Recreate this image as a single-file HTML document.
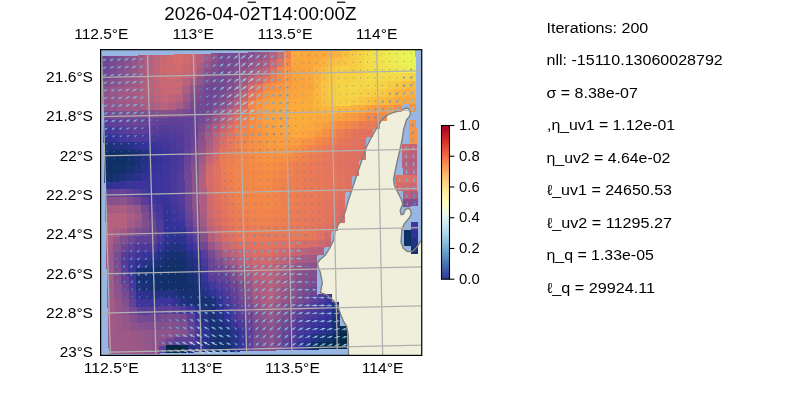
<!DOCTYPE html>
<html><head><meta charset="utf-8"><title>figure</title>
<style>html,body{margin:0;padding:0;background:#fff;overflow:hidden}svg{display:block}text{font-family:"Liberation Sans", sans-serif;fill:#000}</style></head><body>
<svg width="800" height="400" viewBox="0 0 800 400">
<rect width="800" height="400" fill="#fff"/>
<defs><clipPath id="ax"><rect x="100.6" y="49.6" width="321.1" height="305.5"/></clipPath>
<linearGradient id="cb" x1="0" y1="0" x2="0" y2="1"><stop offset="0.0000" stop-color="#a50026"/><stop offset="0.0312" stop-color="#b30d26"/><stop offset="0.0625" stop-color="#c21c27"/><stop offset="0.0938" stop-color="#d22b27"/><stop offset="0.1250" stop-color="#dd3d2d"/><stop offset="0.1562" stop-color="#e65036"/><stop offset="0.1875" stop-color="#ef633f"/><stop offset="0.2188" stop-color="#f57748"/><stop offset="0.2500" stop-color="#f88c51"/><stop offset="0.2812" stop-color="#fba05b"/><stop offset="0.3125" stop-color="#fdb366"/><stop offset="0.3438" stop-color="#fdc374"/><stop offset="0.3750" stop-color="#fed283"/><stop offset="0.4062" stop-color="#fee192"/><stop offset="0.4375" stop-color="#feeba1"/><stop offset="0.4688" stop-color="#fff5af"/><stop offset="0.5000" stop-color="#fffebe"/><stop offset="0.5312" stop-color="#f6fbd0"/><stop offset="0.5625" stop-color="#ecf8e2"/><stop offset="0.5938" stop-color="#e2f4f4"/><stop offset="0.6250" stop-color="#d4edf4"/><stop offset="0.6562" stop-color="#c3e5f0"/><stop offset="0.6875" stop-color="#b2ddeb"/><stop offset="0.7188" stop-color="#a1d1e5"/><stop offset="0.7500" stop-color="#90c3dd"/><stop offset="0.7812" stop-color="#7fb6d6"/><stop offset="0.8125" stop-color="#6ea6ce"/><stop offset="0.8438" stop-color="#6095c4"/><stop offset="0.8750" stop-color="#5183bb"/><stop offset="0.9062" stop-color="#4471b2"/><stop offset="0.9375" stop-color="#3e5ea8"/><stop offset="0.9688" stop-color="#374a9f"/><stop offset="1.0000" stop-color="#313695"/></linearGradient></defs>
<rect x="100.6" y="49.6" width="321.1" height="305.5" fill="#97b6e1"/>
<g clip-path="url(#ax)">
<path d="M348.5 356.0 L348.2 335.0 L346.5 326.0 L343.5 321.5 L340.5 314.0 L337.5 305.5 L333.0 300.2 L327.0 295.0 L320.4 292.7 L322.3 283.0 L320.4 272.5 L318.2 267.0 L317.4 263.2 L320.2 259.5 L325.5 255.0 L330.0 247.5 L333.7 240.0 L335.2 231.0 L338.2 225.0 L342.0 219.0 L345.5 211.0 L348.0 201.5 L352.5 188.0 L358.5 170.0 L363.7 155.0 L366.0 148.0 L370.5 139.0 L376.5 128.5 L381.8 120.0 L384.4 117.4 L387.3 115.1 L391.5 113.2 L396.7 111.6 L401.3 110.3 L404.5 108.6 L406.8 108.0 L408.7 109.0 L410.0 111.2 L410.5 113.5 L409.4 116.4 L406.5 120.0 L403.5 130.0 L402.0 140.5 L399.7 151.0 L398.0 158.0 L396.0 167.0 L393.6 179.0 L394.3 185.0 L397.6 192.0 L401.2 199.0 L402.8 204.0 L400.2 210.3 L401.0 214.6 L403.4 214.2 L405.1 209.8 L408.0 208.1 L410.6 210.0 L411.2 214.5 L408.8 218.5 L404.4 223.6 L401.8 229.5 L401.6 234.2 L401.0 242.3 L403.2 248.2 L407.6 251.6 L412.7 251.2 L417.2 246.8 L419.8 242.3 L423.0 239.0 L423.0 356.0 z" fill="#efefdb"/>
<g shape-rendering="crispEdges">
<rect x="102" y="56" width="8" height="9" fill="#6e4694"/>
<rect x="109" y="56" width="8" height="9" fill="#764992"/>
<rect x="116" y="56" width="8" height="9" fill="#7e4d8f"/>
<rect x="123" y="56" width="9" height="8" fill="#89518c"/>
<rect x="131" y="56" width="8" height="8" fill="#945589"/>
<rect x="138" y="55" width="8" height="9" fill="#a55b84"/>
<rect x="145" y="55" width="9" height="9" fill="#b6617d"/>
<rect x="153" y="55" width="8" height="9" fill="#c16479"/>
<rect x="160" y="55" width="8" height="9" fill="#cb6872"/>
<rect x="167" y="55" width="8" height="8" fill="#d16a6d"/>
<rect x="174" y="54" width="9" height="9" fill="#d76d68"/>
<rect x="182" y="54" width="8" height="9" fill="#d16b6d"/>
<rect x="189" y="54" width="8" height="9" fill="#cb6872"/>
<rect x="196" y="54" width="9" height="9" fill="#b8617c"/>
<rect x="204" y="54" width="8" height="8" fill="#a55b84"/>
<rect x="211" y="53" width="8" height="9" fill="#8e538b"/>
<rect x="218" y="53" width="9" height="9" fill="#774a91"/>
<rect x="226" y="53" width="8" height="9" fill="#774a91"/>
<rect x="233" y="53" width="8" height="9" fill="#774a91"/>
<rect x="240" y="53" width="9" height="9" fill="#804e8f"/>
<rect x="248" y="52" width="8" height="9" fill="#88518d"/>
<rect x="255" y="52" width="8" height="9" fill="#93558a"/>
<rect x="262" y="52" width="8" height="9" fill="#9e5987"/>
<rect x="269" y="52" width="9" height="9" fill="#b8617c"/>
<rect x="277" y="52" width="8" height="8" fill="#d16b6d"/>
<rect x="284" y="51" width="8" height="9" fill="#f0834d"/>
<rect x="291" y="51" width="9" height="9" fill="#faaa3d"/>
<rect x="299" y="51" width="8" height="9" fill="#faa83d"/>
<rect x="306" y="51" width="8" height="9" fill="#faa63e"/>
<rect x="313" y="51" width="8" height="9" fill="#faa83d"/>
<rect x="320" y="51" width="9" height="9" fill="#fbaa3d"/>
<rect x="328" y="51" width="8" height="9" fill="#fbaf3d"/>
<rect x="335" y="51" width="8" height="8" fill="#fab53e"/>
<rect x="342" y="51" width="9" height="8" fill="#f8c041"/>
<rect x="350" y="50" width="8" height="9" fill="#f7cb44"/>
<rect x="357" y="50" width="8" height="9" fill="#f6d346"/>
<rect x="364" y="50" width="9" height="9" fill="#f3db4a"/>
<rect x="372" y="50" width="8" height="9" fill="#f1e14d"/>
<rect x="379" y="50" width="8" height="9" fill="#efe650"/>
<rect x="386" y="50" width="9" height="9" fill="#edea52"/>
<rect x="394" y="50" width="8" height="8" fill="#ecee54"/>
<rect x="401" y="50" width="8" height="8" fill="#eaf256"/>
<rect x="408" y="49" width="7" height="9" fill="#e9f658"/>
<rect x="102" y="64" width="8" height="9" fill="#6f4693"/>
<rect x="109" y="64" width="8" height="9" fill="#784a91"/>
<rect x="116" y="64" width="9" height="8" fill="#814e8e"/>
<rect x="124" y="63" width="8" height="9" fill="#8c528c"/>
<rect x="131" y="63" width="8" height="9" fill="#965689"/>
<rect x="138" y="63" width="8" height="9" fill="#a75c84"/>
<rect x="145" y="63" width="9" height="9" fill="#b8617d"/>
<rect x="153" y="63" width="8" height="9" fill="#c36578"/>
<rect x="160" y="63" width="8" height="8" fill="#cc6971"/>
<rect x="167" y="62" width="9" height="9" fill="#d06a6e"/>
<rect x="175" y="62" width="8" height="9" fill="#d46c6b"/>
<rect x="182" y="62" width="8" height="9" fill="#cd6970"/>
<rect x="189" y="62" width="9" height="9" fill="#c66675"/>
<rect x="197" y="62" width="8" height="8" fill="#ae5e81"/>
<rect x="204" y="61" width="8" height="9" fill="#965689"/>
<rect x="211" y="61" width="8" height="9" fill="#87508d"/>
<rect x="218" y="61" width="9" height="9" fill="#774a91"/>
<rect x="226" y="61" width="8" height="9" fill="#7b4c90"/>
<rect x="233" y="61" width="8" height="9" fill="#7e4d8f"/>
<rect x="240" y="61" width="9" height="8" fill="#88518c"/>
<rect x="248" y="60" width="8" height="9" fill="#93558a"/>
<rect x="255" y="60" width="8" height="9" fill="#a15a86"/>
<rect x="262" y="60" width="9" height="9" fill="#af5e80"/>
<rect x="270" y="60" width="8" height="9" fill="#cb6871"/>
<rect x="277" y="59" width="8" height="9" fill="#e4755d"/>
<rect x="284" y="59" width="8" height="9" fill="#f58a46"/>
<rect x="291" y="59" width="9" height="9" fill="#faa63e"/>
<rect x="299" y="59" width="8" height="9" fill="#faa63e"/>
<rect x="306" y="59" width="8" height="9" fill="#faa63e"/>
<rect x="313" y="59" width="9" height="9" fill="#fbac3c"/>
<rect x="321" y="59" width="8" height="9" fill="#fab33e"/>
<rect x="328" y="59" width="8" height="8" fill="#f9bb40"/>
<rect x="335" y="58" width="9" height="9" fill="#f8c242"/>
<rect x="343" y="58" width="8" height="9" fill="#f8c743"/>
<rect x="350" y="58" width="8" height="9" fill="#f7cb44"/>
<rect x="357" y="58" width="8" height="9" fill="#f6d346"/>
<rect x="364" y="58" width="9" height="9" fill="#f3db4a"/>
<rect x="372" y="58" width="8" height="9" fill="#f1e04c"/>
<rect x="379" y="58" width="8" height="9" fill="#efe44f"/>
<rect x="386" y="58" width="9" height="8" fill="#eee851"/>
<rect x="394" y="57" width="8" height="9" fill="#ecec53"/>
<rect x="401" y="57" width="8" height="9" fill="#ebf055"/>
<rect x="408" y="57" width="8" height="9" fill="#e9f457"/>
<rect x="102" y="72" width="8" height="9" fill="#724793"/>
<rect x="109" y="72" width="8" height="8" fill="#7b4c90"/>
<rect x="116" y="71" width="9" height="9" fill="#85508d"/>
<rect x="124" y="71" width="8" height="9" fill="#8f538b"/>
<rect x="131" y="71" width="8" height="9" fill="#985788"/>
<rect x="138" y="71" width="9" height="9" fill="#a95c83"/>
<rect x="146" y="71" width="8" height="9" fill="#ba627c"/>
<rect x="153" y="71" width="8" height="9" fill="#c46577"/>
<rect x="160" y="70" width="9" height="9" fill="#ce6970"/>
<rect x="168" y="70" width="8" height="9" fill="#cf6a6e"/>
<rect x="175" y="70" width="8" height="9" fill="#d16a6d"/>
<rect x="182" y="70" width="8" height="9" fill="#c86774"/>
<rect x="189" y="70" width="9" height="9" fill="#c0647a"/>
<rect x="197" y="69" width="8" height="9" fill="#a35a85"/>
<rect x="204" y="69" width="8" height="9" fill="#87508d"/>
<rect x="211" y="69" width="9" height="9" fill="#7f4e8f"/>
<rect x="219" y="69" width="8" height="9" fill="#774a91"/>
<rect x="226" y="69" width="8" height="9" fill="#7e4d8f"/>
<rect x="233" y="69" width="9" height="8" fill="#854f8d"/>
<rect x="241" y="68" width="8" height="9" fill="#92548a"/>
<rect x="248" y="68" width="8" height="9" fill="#9f5987"/>
<rect x="255" y="68" width="8" height="9" fill="#b05f80"/>
<rect x="262" y="68" width="9" height="9" fill="#c26479"/>
<rect x="270" y="68" width="8" height="8" fill="#de7063"/>
<rect x="277" y="67" width="8" height="9" fill="#f2864b"/>
<rect x="284" y="67" width="9" height="9" fill="#f79343"/>
<rect x="292" y="67" width="8" height="9" fill="#f9a33f"/>
<rect x="299" y="67" width="8" height="9" fill="#faa43e"/>
<rect x="306" y="67" width="8" height="9" fill="#faa63e"/>
<rect x="313" y="67" width="9" height="9" fill="#fbb13d"/>
<rect x="321" y="67" width="8" height="8" fill="#f9bc40"/>
<rect x="328" y="66" width="8" height="9" fill="#f8c643"/>
<rect x="335" y="66" width="9" height="9" fill="#f6cf45"/>
<rect x="343" y="66" width="8" height="9" fill="#f7ce45"/>
<rect x="350" y="66" width="8" height="9" fill="#f7cc44"/>
<rect x="357" y="66" width="9" height="9" fill="#f6d346"/>
<rect x="365" y="66" width="8" height="9" fill="#f3db4a"/>
<rect x="372" y="66" width="8" height="9" fill="#f2de4c"/>
<rect x="379" y="66" width="8" height="8" fill="#f0e24e"/>
<rect x="386" y="65" width="9" height="9" fill="#efe54f"/>
<rect x="394" y="65" width="8" height="9" fill="#eee951"/>
<rect x="401" y="65" width="8" height="9" fill="#ecec53"/>
<rect x="408" y="65" width="8" height="9" fill="#ebef54"/>
<rect x="102" y="80" width="8" height="8" fill="#824f8e"/>
<rect x="109" y="79" width="9" height="9" fill="#8a528c"/>
<rect x="117" y="79" width="8" height="9" fill="#92558a"/>
<rect x="124" y="79" width="8" height="9" fill="#995788"/>
<rect x="131" y="79" width="9" height="9" fill="#a15a86"/>
<rect x="139" y="79" width="8" height="9" fill="#ad5e81"/>
<rect x="146" y="79" width="8" height="9" fill="#ba627c"/>
<rect x="153" y="79" width="8" height="8" fill="#c36577"/>
<rect x="160" y="78" width="9" height="9" fill="#cc6871"/>
<rect x="168" y="78" width="8" height="9" fill="#cd6970"/>
<rect x="175" y="78" width="8" height="9" fill="#cd6970"/>
<rect x="182" y="78" width="9" height="9" fill="#bb627c"/>
<rect x="190" y="78" width="8" height="8" fill="#a75c84"/>
<rect x="197" y="77" width="8" height="9" fill="#91548a"/>
<rect x="204" y="77" width="8" height="9" fill="#7c4c90"/>
<rect x="211" y="77" width="9" height="9" fill="#784a91"/>
<rect x="219" y="77" width="8" height="9" fill="#744892"/>
<rect x="226" y="77" width="8" height="8" fill="#7f4d8f"/>
<rect x="233" y="76" width="9" height="9" fill="#89518c"/>
<rect x="241" y="76" width="8" height="9" fill="#a05a86"/>
<rect x="248" y="76" width="8" height="9" fill="#ba627c"/>
<rect x="255" y="76" width="9" height="9" fill="#ce6970"/>
<rect x="263" y="76" width="8" height="8" fill="#e17161"/>
<rect x="270" y="75" width="8" height="9" fill="#ec7f52"/>
<rect x="277" y="75" width="8" height="9" fill="#f68d45"/>
<rect x="284" y="75" width="9" height="9" fill="#f89842"/>
<rect x="292" y="75" width="8" height="9" fill="#f9a33f"/>
<rect x="299" y="75" width="8" height="9" fill="#faa43e"/>
<rect x="306" y="75" width="9" height="9" fill="#faa63e"/>
<rect x="314" y="75" width="8" height="8" fill="#fab33d"/>
<rect x="321" y="74" width="8" height="9" fill="#f8c041"/>
<rect x="328" y="74" width="9" height="9" fill="#f7c943"/>
<rect x="336" y="74" width="8" height="9" fill="#f6d146"/>
<rect x="343" y="74" width="8" height="9" fill="#f6d146"/>
<rect x="350" y="74" width="8" height="9" fill="#f6d246"/>
<rect x="357" y="74" width="9" height="9" fill="#f5d547"/>
<rect x="365" y="74" width="8" height="9" fill="#f4d949"/>
<rect x="372" y="74" width="8" height="8" fill="#f4d949"/>
<rect x="379" y="73" width="9" height="9" fill="#f3da4a"/>
<rect x="387" y="73" width="8" height="9" fill="#f4d949"/>
<rect x="394" y="73" width="8" height="9" fill="#f4d949"/>
<rect x="401" y="73" width="8" height="9" fill="#f5d648"/>
<rect x="408" y="73" width="8" height="9" fill="#f6d346"/>
<rect x="102" y="87" width="9" height="9" fill="#91548a"/>
<rect x="110" y="87" width="8" height="9" fill="#985789"/>
<rect x="117" y="87" width="8" height="9" fill="#9e5987"/>
<rect x="124" y="87" width="8" height="9" fill="#a35b85"/>
<rect x="131" y="87" width="9" height="9" fill="#a85c83"/>
<rect x="139" y="87" width="8" height="9" fill="#b15f7f"/>
<rect x="146" y="87" width="8" height="8" fill="#b9627c"/>
<rect x="153" y="86" width="9" height="9" fill="#c26478"/>
<rect x="161" y="86" width="8" height="9" fill="#ca6872"/>
<rect x="168" y="86" width="8" height="9" fill="#ca6773"/>
<rect x="175" y="86" width="8" height="9" fill="#c96773"/>
<rect x="182" y="86" width="9" height="8" fill="#ad5e81"/>
<rect x="190" y="85" width="8" height="9" fill="#90548a"/>
<rect x="197" y="85" width="8" height="9" fill="#814e8e"/>
<rect x="204" y="85" width="9" height="9" fill="#714793"/>
<rect x="212" y="85" width="8" height="9" fill="#714793"/>
<rect x="219" y="85" width="8" height="8" fill="#724793"/>
<rect x="226" y="84" width="9" height="9" fill="#814e8e"/>
<rect x="234" y="84" width="8" height="9" fill="#8f548b"/>
<rect x="241" y="84" width="8" height="9" fill="#b15f7f"/>
<rect x="248" y="84" width="8" height="9" fill="#d26b6c"/>
<rect x="255" y="84" width="9" height="9" fill="#e6775a"/>
<rect x="263" y="83" width="8" height="9" fill="#f48947"/>
<rect x="270" y="83" width="8" height="9" fill="#f78f44"/>
<rect x="277" y="83" width="9" height="9" fill="#f89642"/>
<rect x="285" y="83" width="8" height="9" fill="#f99c40"/>
<rect x="292" y="83" width="8" height="9" fill="#faa33f"/>
<rect x="299" y="83" width="8" height="8" fill="#faa53e"/>
<rect x="306" y="83" width="9" height="8" fill="#faa63e"/>
<rect x="314" y="82" width="8" height="9" fill="#fab53e"/>
<rect x="321" y="82" width="8" height="9" fill="#f8c442"/>
<rect x="328" y="82" width="9" height="9" fill="#f7cb44"/>
<rect x="336" y="82" width="8" height="9" fill="#f6d346"/>
<rect x="343" y="82" width="8" height="9" fill="#f5d547"/>
<rect x="350" y="82" width="9" height="9" fill="#f5d748"/>
<rect x="358" y="82" width="8" height="9" fill="#f5d648"/>
<rect x="365" y="82" width="8" height="8" fill="#f5d647"/>
<rect x="372" y="81" width="8" height="9" fill="#f6d446"/>
<rect x="379" y="81" width="9" height="9" fill="#f6d246"/>
<rect x="387" y="81" width="8" height="9" fill="#f7cd44"/>
<rect x="394" y="81" width="8" height="9" fill="#f7c943"/>
<rect x="401" y="81" width="9" height="9" fill="#f8c241"/>
<rect x="409" y="81" width="7" height="9" fill="#f9ba40"/>
<rect x="102" y="95" width="9" height="9" fill="#91548a"/>
<rect x="110" y="95" width="8" height="9" fill="#985788"/>
<rect x="117" y="95" width="8" height="9" fill="#a05a86"/>
<rect x="124" y="95" width="9" height="9" fill="#a35b85"/>
<rect x="132" y="95" width="8" height="9" fill="#a65c84"/>
<rect x="139" y="95" width="8" height="9" fill="#ae5e81"/>
<rect x="146" y="94" width="8" height="9" fill="#b6607d"/>
<rect x="153" y="94" width="9" height="9" fill="#bf637a"/>
<rect x="161" y="94" width="8" height="9" fill="#c76675"/>
<rect x="168" y="94" width="8" height="9" fill="#c16479"/>
<rect x="175" y="94" width="9" height="9" fill="#bb627b"/>
<rect x="183" y="93" width="8" height="9" fill="#9f5987"/>
<rect x="190" y="93" width="8" height="9" fill="#85508d"/>
<rect x="197" y="93" width="9" height="9" fill="#7a4b90"/>
<rect x="205" y="93" width="8" height="9" fill="#6f4694"/>
<rect x="212" y="93" width="8" height="9" fill="#754992"/>
<rect x="219" y="92" width="8" height="9" fill="#7c4c90"/>
<rect x="226" y="92" width="9" height="9" fill="#8f538b"/>
<rect x="234" y="92" width="8" height="9" fill="#a25a85"/>
<rect x="241" y="92" width="8" height="9" fill="#c66675"/>
<rect x="248" y="92" width="9" height="9" fill="#e5765b"/>
<rect x="256" y="92" width="8" height="8" fill="#f1844c"/>
<rect x="263" y="91" width="8" height="9" fill="#f79443"/>
<rect x="270" y="91" width="8" height="9" fill="#f89a41"/>
<rect x="277" y="91" width="9" height="9" fill="#f99e40"/>
<rect x="285" y="91" width="8" height="9" fill="#f9a23f"/>
<rect x="292" y="91" width="8" height="8" fill="#faa63e"/>
<rect x="299" y="90" width="9" height="9" fill="#faa83d"/>
<rect x="307" y="90" width="8" height="9" fill="#fbaa3d"/>
<rect x="314" y="90" width="8" height="9" fill="#fab63e"/>
<rect x="321" y="90" width="8" height="9" fill="#f8c342"/>
<rect x="328" y="90" width="9" height="9" fill="#f7cb44"/>
<rect x="336" y="90" width="8" height="9" fill="#f6d346"/>
<rect x="343" y="90" width="8" height="9" fill="#f6d446"/>
<rect x="350" y="90" width="9" height="9" fill="#f5d547"/>
<rect x="358" y="90" width="8" height="8" fill="#f6d146"/>
<rect x="365" y="89" width="8" height="9" fill="#f7ce45"/>
<rect x="372" y="89" width="9" height="9" fill="#f7cb44"/>
<rect x="380" y="89" width="8" height="9" fill="#f7c843"/>
<rect x="387" y="89" width="8" height="9" fill="#f9c041"/>
<rect x="394" y="89" width="8" height="9" fill="#fab73f"/>
<rect x="401" y="89" width="9" height="9" fill="#fab33e"/>
<rect x="409" y="89" width="7" height="9" fill="#fbaf3c"/>
<rect x="103" y="103" width="8" height="9" fill="#8d538b"/>
<rect x="110" y="103" width="8" height="9" fill="#945589"/>
<rect x="117" y="103" width="9" height="9" fill="#9c5888"/>
<rect x="125" y="103" width="8" height="9" fill="#9d5987"/>
<rect x="132" y="103" width="8" height="9" fill="#9f5987"/>
<rect x="139" y="103" width="8" height="8" fill="#a55b84"/>
<rect x="146" y="102" width="9" height="9" fill="#ab5d82"/>
<rect x="154" y="102" width="8" height="9" fill="#b3607f"/>
<rect x="161" y="102" width="8" height="9" fill="#bb627b"/>
<rect x="168" y="102" width="9" height="9" fill="#b25f7f"/>
<rect x="176" y="102" width="8" height="8" fill="#a85c83"/>
<rect x="183" y="101" width="8" height="9" fill="#91548a"/>
<rect x="190" y="101" width="8" height="9" fill="#794b90"/>
<rect x="197" y="101" width="9" height="9" fill="#744892"/>
<rect x="205" y="101" width="8" height="9" fill="#6f4694"/>
<rect x="212" y="101" width="8" height="8" fill="#7b4c90"/>
<rect x="219" y="100" width="9" height="9" fill="#87518d"/>
<rect x="227" y="100" width="8" height="9" fill="#9e5987"/>
<rect x="234" y="100" width="8" height="9" fill="#b6617d"/>
<rect x="241" y="100" width="8" height="9" fill="#d96e67"/>
<rect x="248" y="100" width="9" height="8" fill="#f2864b"/>
<rect x="256" y="99" width="8" height="9" fill="#f79243"/>
<rect x="263" y="99" width="8" height="9" fill="#f99f40"/>
<rect x="270" y="99" width="9" height="9" fill="#f9a33f"/>
<rect x="278" y="99" width="8" height="9" fill="#faa63e"/>
<rect x="285" y="99" width="8" height="8" fill="#faa83d"/>
<rect x="292" y="98" width="8" height="9" fill="#fbaa3d"/>
<rect x="299" y="98" width="9" height="9" fill="#fbab3c"/>
<rect x="307" y="98" width="8" height="9" fill="#fbad3c"/>
<rect x="314" y="98" width="8" height="9" fill="#fab73f"/>
<rect x="321" y="98" width="9" height="9" fill="#f8c241"/>
<rect x="329" y="98" width="8" height="9" fill="#f7c943"/>
<rect x="336" y="98" width="8" height="9" fill="#f7cf45"/>
<rect x="343" y="98" width="8" height="9" fill="#f7cf45"/>
<rect x="350" y="98" width="9" height="8" fill="#f7ce45"/>
<rect x="358" y="97" width="8" height="9" fill="#f7c843"/>
<rect x="365" y="97" width="8" height="9" fill="#f8c241"/>
<rect x="372" y="97" width="9" height="9" fill="#f9bd40"/>
<rect x="380" y="97" width="8" height="9" fill="#f9b93f"/>
<rect x="387" y="97" width="8" height="9" fill="#fbb13d"/>
<rect x="394" y="97" width="9" height="9" fill="#faa93d"/>
<rect x="402" y="97" width="8" height="7" fill="#faa73e"/>
<rect x="409" y="97" width="7" height="8" fill="#faa53e"/>
<rect x="103" y="111" width="8" height="9" fill="#724893"/>
<rect x="110" y="111" width="8" height="9" fill="#784a91"/>
<rect x="117" y="111" width="9" height="9" fill="#7e4d8f"/>
<rect x="125" y="111" width="8" height="8" fill="#814e8e"/>
<rect x="132" y="111" width="8" height="8" fill="#834f8e"/>
<rect x="139" y="110" width="9" height="9" fill="#844f8d"/>
<rect x="147" y="110" width="8" height="9" fill="#86508d"/>
<rect x="154" y="110" width="8" height="9" fill="#87518d"/>
<rect x="161" y="110" width="8" height="9" fill="#89518c"/>
<rect x="168" y="110" width="9" height="8" fill="#85508d"/>
<rect x="176" y="109" width="8" height="9" fill="#824e8e"/>
<rect x="183" y="109" width="8" height="9" fill="#784a91"/>
<rect x="190" y="109" width="9" height="9" fill="#6f4694"/>
<rect x="198" y="109" width="8" height="9" fill="#734892"/>
<rect x="205" y="109" width="8" height="8" fill="#774a91"/>
<rect x="212" y="108" width="8" height="9" fill="#8a518c"/>
<rect x="219" y="108" width="9" height="9" fill="#9d5887"/>
<rect x="227" y="108" width="8" height="9" fill="#b6617d"/>
<rect x="234" y="108" width="8" height="9" fill="#ce696f"/>
<rect x="241" y="108" width="9" height="8" fill="#e4755d"/>
<rect x="249" y="107" width="8" height="9" fill="#f48848"/>
<rect x="256" y="107" width="8" height="9" fill="#f79343"/>
<rect x="263" y="107" width="8" height="9" fill="#f99f40"/>
<rect x="270" y="107" width="9" height="9" fill="#f9a33f"/>
<rect x="278" y="107" width="8" height="8" fill="#faa63e"/>
<rect x="285" y="106" width="8" height="9" fill="#faa93d"/>
<rect x="292" y="106" width="9" height="9" fill="#fbab3c"/>
<rect x="300" y="106" width="8" height="9" fill="#fbac3c"/>
<rect x="307" y="106" width="8" height="9" fill="#fbad3c"/>
<rect x="314" y="106" width="8" height="9" fill="#fab23d"/>
<rect x="321" y="106" width="9" height="9" fill="#fab63e"/>
<rect x="329" y="106" width="8" height="9" fill="#fab83f"/>
<rect x="336" y="106" width="8" height="8" fill="#f9ba3f"/>
<rect x="343" y="106" width="9" height="8" fill="#fab63e"/>
<rect x="351" y="105" width="8" height="9" fill="#fab33e"/>
<rect x="358" y="105" width="8" height="9" fill="#fbaa3d"/>
<rect x="365" y="105" width="8" height="9" fill="#f9a23f"/>
<rect x="372" y="105" width="9" height="9" fill="#f99c40"/>
<rect x="380" y="105" width="8" height="9" fill="#f89642"/>
<rect x="387" y="105" width="8" height="8" fill="#f99c40"/>
<rect x="394" y="105" width="8" height="7" fill="#f68b45"/>
<rect x="409" y="104" width="7" height="8" fill="#f79243"/>
<rect x="103" y="119" width="8" height="9" fill="#593d99"/>
<rect x="110" y="119" width="9" height="9" fill="#5f3f99"/>
<rect x="118" y="119" width="8" height="8" fill="#644197"/>
<rect x="125" y="118" width="8" height="9" fill="#674396"/>
<rect x="132" y="118" width="8" height="9" fill="#6b4495"/>
<rect x="139" y="118" width="9" height="9" fill="#694395"/>
<rect x="147" y="118" width="8" height="9" fill="#674396"/>
<rect x="154" y="118" width="8" height="9" fill="#644197"/>
<rect x="161" y="118" width="9" height="8" fill="#614098"/>
<rect x="169" y="117" width="8" height="9" fill="#624098"/>
<rect x="176" y="117" width="8" height="9" fill="#624097"/>
<rect x="183" y="117" width="8" height="9" fill="#644197"/>
<rect x="190" y="117" width="9" height="9" fill="#674296"/>
<rect x="198" y="117" width="8" height="8" fill="#744992"/>
<rect x="205" y="116" width="8" height="9" fill="#824e8e"/>
<rect x="212" y="116" width="9" height="9" fill="#9a5788"/>
<rect x="220" y="116" width="8" height="9" fill="#b3607e"/>
<rect x="227" y="116" width="8" height="9" fill="#cb6871"/>
<rect x="234" y="116" width="8" height="9" fill="#e27260"/>
<rect x="241" y="115" width="9" height="9" fill="#ec7f52"/>
<rect x="249" y="115" width="8" height="9" fill="#f68b45"/>
<rect x="256" y="115" width="8" height="9" fill="#f79542"/>
<rect x="263" y="115" width="9" height="9" fill="#f99f40"/>
<rect x="271" y="115" width="8" height="9" fill="#f9a23f"/>
<rect x="278" y="114" width="8" height="9" fill="#faa63e"/>
<rect x="285" y="114" width="8" height="9" fill="#faa93d"/>
<rect x="292" y="114" width="9" height="9" fill="#fbad3c"/>
<rect x="300" y="114" width="8" height="9" fill="#fbad3c"/>
<rect x="307" y="114" width="8" height="9" fill="#fbac3c"/>
<rect x="314" y="114" width="9" height="9" fill="#fbab3c"/>
<rect x="322" y="114" width="8" height="9" fill="#fbaa3d"/>
<rect x="329" y="114" width="8" height="8" fill="#faa83d"/>
<rect x="336" y="113" width="8" height="9" fill="#faa53e"/>
<rect x="343" y="113" width="9" height="9" fill="#f99f40"/>
<rect x="351" y="113" width="8" height="9" fill="#f89a41"/>
<rect x="358" y="113" width="8" height="9" fill="#f79144"/>
<rect x="365" y="113" width="9" height="9" fill="#f48848"/>
<rect x="373" y="113" width="8" height="9" fill="#f0834d"/>
<rect x="380" y="113" width="7" height="8" fill="#f68b45"/>
<rect x="103" y="127" width="9" height="8" fill="#44369a"/>
<rect x="111" y="127" width="8" height="8" fill="#4c399a"/>
<rect x="118" y="126" width="8" height="9" fill="#553c99"/>
<rect x="125" y="126" width="8" height="9" fill="#5a3d99"/>
<rect x="132" y="126" width="9" height="9" fill="#5f3f99"/>
<rect x="140" y="126" width="8" height="9" fill="#5d3e99"/>
<rect x="147" y="126" width="8" height="9" fill="#5b3d99"/>
<rect x="154" y="126" width="8" height="9" fill="#583d99"/>
<rect x="161" y="125" width="9" height="9" fill="#563c99"/>
<rect x="169" y="125" width="8" height="9" fill="#583d99"/>
<rect x="176" y="125" width="8" height="9" fill="#5b3d99"/>
<rect x="183" y="125" width="9" height="9" fill="#614098"/>
<rect x="191" y="125" width="8" height="9" fill="#674296"/>
<rect x="198" y="124" width="8" height="9" fill="#7e4d8f"/>
<rect x="205" y="124" width="8" height="9" fill="#955689"/>
<rect x="212" y="124" width="9" height="9" fill="#af5e80"/>
<rect x="220" y="124" width="8" height="9" fill="#c86774"/>
<rect x="227" y="124" width="8" height="9" fill="#da6e66"/>
<rect x="234" y="124" width="9" height="8" fill="#e87a57"/>
<rect x="242" y="123" width="8" height="9" fill="#f0834d"/>
<rect x="249" y="123" width="8" height="9" fill="#f68d45"/>
<rect x="256" y="123" width="8" height="9" fill="#f79542"/>
<rect x="263" y="123" width="9" height="9" fill="#f99d40"/>
<rect x="271" y="123" width="8" height="8" fill="#f9a13f"/>
<rect x="278" y="122" width="8" height="9" fill="#faa43e"/>
<rect x="285" y="122" width="9" height="9" fill="#faa73d"/>
<rect x="293" y="122" width="8" height="9" fill="#fbab3d"/>
<rect x="300" y="122" width="8" height="9" fill="#fbaa3d"/>
<rect x="307" y="122" width="8" height="9" fill="#faa93d"/>
<rect x="314" y="122" width="9" height="9" fill="#faa43e"/>
<rect x="322" y="122" width="8" height="8" fill="#f99e40"/>
<rect x="329" y="121" width="8" height="9" fill="#f89642"/>
<rect x="336" y="121" width="9" height="9" fill="#f68e44"/>
<rect x="344" y="121" width="8" height="9" fill="#f48948"/>
<rect x="351" y="121" width="8" height="9" fill="#f0844d"/>
<rect x="358" y="121" width="8" height="9" fill="#ec7f52"/>
<rect x="365" y="121" width="9" height="9" fill="#e97b57"/>
<rect x="373" y="121" width="7" height="8" fill="#e77959"/>
<rect x="409" y="120" width="7" height="9" fill="#f89542"/>
<rect x="103" y="134" width="9" height="9" fill="#303294"/>
<rect x="111" y="134" width="8" height="9" fill="#38339b"/>
<rect x="118" y="134" width="8" height="9" fill="#41369a"/>
<rect x="125" y="134" width="9" height="9" fill="#46379a"/>
<rect x="133" y="134" width="8" height="9" fill="#4c399a"/>
<rect x="140" y="134" width="8" height="9" fill="#4b399a"/>
<rect x="147" y="134" width="8" height="9" fill="#4b399a"/>
<rect x="154" y="134" width="9" height="8" fill="#4b399a"/>
<rect x="162" y="133" width="8" height="9" fill="#4b389a"/>
<rect x="169" y="133" width="8" height="9" fill="#4f3a9a"/>
<rect x="176" y="133" width="9" height="9" fill="#543b99"/>
<rect x="184" y="133" width="8" height="9" fill="#5f3f98"/>
<rect x="191" y="133" width="8" height="8" fill="#684396"/>
<rect x="198" y="132" width="8" height="9" fill="#87508d"/>
<rect x="205" y="132" width="9" height="9" fill="#a65b84"/>
<rect x="213" y="132" width="8" height="9" fill="#c06479"/>
<rect x="220" y="132" width="8" height="9" fill="#d86d68"/>
<rect x="227" y="132" width="9" height="8" fill="#e4755c"/>
<rect x="235" y="131" width="8" height="9" fill="#ee8150"/>
<rect x="242" y="131" width="8" height="9" fill="#f38749"/>
<rect x="249" y="131" width="8" height="9" fill="#f68e44"/>
<rect x="256" y="131" width="9" height="9" fill="#f79542"/>
<rect x="264" y="131" width="8" height="8" fill="#f89b41"/>
<rect x="271" y="130" width="8" height="9" fill="#f99f40"/>
<rect x="278" y="130" width="8" height="9" fill="#f9a23f"/>
<rect x="285" y="130" width="9" height="9" fill="#faa43e"/>
<rect x="293" y="130" width="8" height="9" fill="#faa73e"/>
<rect x="300" y="130" width="8" height="9" fill="#faa53e"/>
<rect x="307" y="130" width="9" height="9" fill="#f9a23f"/>
<rect x="315" y="130" width="8" height="8" fill="#f89a41"/>
<rect x="322" y="129" width="8" height="9" fill="#f79143"/>
<rect x="329" y="129" width="8" height="9" fill="#f38849"/>
<rect x="336" y="129" width="9" height="9" fill="#ec7f52"/>
<rect x="344" y="129" width="8" height="9" fill="#e97a57"/>
<rect x="351" y="129" width="8" height="9" fill="#e5765c"/>
<rect x="358" y="129" width="9" height="9" fill="#e3735f"/>
<rect x="366" y="129" width="7" height="8" fill="#e17161"/>
<rect x="409" y="128" width="8" height="9" fill="#f89542"/>
<rect x="104" y="142" width="8" height="9" fill="#1d317b"/>
<rect x="111" y="142" width="8" height="9" fill="#21317f"/>
<rect x="118" y="142" width="8" height="9" fill="#243183"/>
<rect x="125" y="142" width="9" height="9" fill="#28318a"/>
<rect x="133" y="142" width="8" height="9" fill="#2d3290"/>
<rect x="140" y="142" width="8" height="9" fill="#333298"/>
<rect x="147" y="142" width="9" height="8" fill="#39339b"/>
<rect x="155" y="141" width="8" height="9" fill="#3e359b"/>
<rect x="162" y="141" width="8" height="9" fill="#42369a"/>
<rect x="169" y="141" width="8" height="9" fill="#49389a"/>
<rect x="176" y="141" width="9" height="9" fill="#503a9a"/>
<rect x="184" y="141" width="8" height="8" fill="#5f3f98"/>
<rect x="191" y="140" width="8" height="9" fill="#6d4594"/>
<rect x="198" y="140" width="9" height="9" fill="#8c528c"/>
<rect x="206" y="140" width="8" height="9" fill="#ab5d82"/>
<rect x="213" y="140" width="8" height="9" fill="#c56676"/>
<rect x="220" y="140" width="8" height="8" fill="#dd6f64"/>
<rect x="227" y="139" width="9" height="9" fill="#e7785a"/>
<rect x="235" y="139" width="8" height="9" fill="#ef824f"/>
<rect x="242" y="139" width="8" height="9" fill="#f38849"/>
<rect x="249" y="139" width="9" height="9" fill="#f68e44"/>
<rect x="257" y="139" width="8" height="9" fill="#f79443"/>
<rect x="264" y="138" width="8" height="9" fill="#f89a41"/>
<rect x="271" y="138" width="8" height="9" fill="#f99c40"/>
<rect x="278" y="138" width="9" height="9" fill="#f99e40"/>
<rect x="286" y="138" width="8" height="9" fill="#f99e40"/>
<rect x="293" y="138" width="8" height="9" fill="#f99d40"/>
<rect x="300" y="138" width="8" height="8" fill="#f89742"/>
<rect x="307" y="138" width="9" height="8" fill="#f79144"/>
<rect x="315" y="137" width="8" height="9" fill="#f58a46"/>
<rect x="322" y="137" width="8" height="9" fill="#f0844d"/>
<rect x="329" y="137" width="9" height="9" fill="#ec7e53"/>
<rect x="337" y="137" width="8" height="9" fill="#e77859"/>
<rect x="344" y="137" width="8" height="9" fill="#e5765c"/>
<rect x="351" y="137" width="8" height="9" fill="#e3735f"/>
<rect x="358" y="137" width="8" height="9" fill="#e17161"/>
<rect x="409" y="136" width="8" height="9" fill="#f89542"/>
<rect x="104" y="150" width="8" height="9" fill="#103069"/>
<rect x="111" y="150" width="8" height="9" fill="#103069"/>
<rect x="118" y="150" width="9" height="9" fill="#103069"/>
<rect x="126" y="150" width="8" height="9" fill="#15306e"/>
<rect x="133" y="150" width="8" height="9" fill="#193174"/>
<rect x="140" y="150" width="8" height="8" fill="#233183"/>
<rect x="147" y="149" width="9" height="9" fill="#2e3291"/>
<rect x="155" y="149" width="8" height="9" fill="#35329b"/>
<rect x="162" y="149" width="8" height="9" fill="#3d349b"/>
<rect x="169" y="149" width="9" height="9" fill="#45379a"/>
<rect x="177" y="149" width="8" height="8" fill="#4d399a"/>
<rect x="184" y="148" width="8" height="9" fill="#624098"/>
<rect x="191" y="148" width="8" height="9" fill="#744892"/>
<rect x="198" y="148" width="9" height="9" fill="#93558a"/>
<rect x="206" y="148" width="8" height="9" fill="#b4607e"/>
<rect x="213" y="148" width="8" height="8" fill="#cd6970"/>
<rect x="220" y="147" width="9" height="9" fill="#e3735f"/>
<rect x="228" y="147" width="8" height="9" fill="#e97b56"/>
<rect x="235" y="147" width="8" height="9" fill="#f0834d"/>
<rect x="242" y="147" width="8" height="9" fill="#f48848"/>
<rect x="249" y="147" width="9" height="9" fill="#f68e44"/>
<rect x="257" y="147" width="8" height="8" fill="#f79243"/>
<rect x="264" y="146" width="8" height="9" fill="#f89742"/>
<rect x="271" y="146" width="9" height="9" fill="#f89841"/>
<rect x="279" y="146" width="8" height="9" fill="#f89941"/>
<rect x="286" y="146" width="8" height="9" fill="#f89642"/>
<rect x="293" y="146" width="8" height="8" fill="#f79243"/>
<rect x="300" y="145" width="9" height="9" fill="#f68a46"/>
<rect x="308" y="145" width="8" height="9" fill="#f1854c"/>
<rect x="315" y="145" width="8" height="9" fill="#ed8051"/>
<rect x="322" y="145" width="8" height="9" fill="#e97b56"/>
<rect x="329" y="145" width="9" height="9" fill="#e6775a"/>
<rect x="337" y="145" width="8" height="9" fill="#e3735e"/>
<rect x="344" y="145" width="8" height="9" fill="#e27260"/>
<rect x="351" y="145" width="9" height="9" fill="#e17161"/>
<rect x="359" y="145" width="7" height="8" fill="#df7062"/>
<rect x="402" y="144" width="9" height="9" fill="#cb6872"/>
<rect x="410" y="144" width="7" height="8" fill="#c16479"/>
<rect x="104" y="158" width="8" height="9" fill="#0e3066"/>
<rect x="111" y="158" width="9" height="9" fill="#0e3066"/>
<rect x="119" y="158" width="8" height="9" fill="#0e3066"/>
<rect x="126" y="158" width="8" height="9" fill="#14306d"/>
<rect x="133" y="158" width="8" height="9" fill="#193174"/>
<rect x="140" y="157" width="9" height="9" fill="#243184"/>
<rect x="148" y="157" width="8" height="9" fill="#303294"/>
<rect x="155" y="157" width="8" height="9" fill="#36329b"/>
<rect x="162" y="157" width="8" height="9" fill="#3d349b"/>
<rect x="169" y="157" width="9" height="9" fill="#45379a"/>
<rect x="177" y="156" width="8" height="9" fill="#4d399a"/>
<rect x="184" y="156" width="8" height="9" fill="#674296"/>
<rect x="191" y="156" width="9" height="9" fill="#7e4d8f"/>
<rect x="199" y="156" width="8" height="9" fill="#a05a86"/>
<rect x="206" y="156" width="8" height="9" fill="#c66675"/>
<rect x="213" y="155" width="8" height="9" fill="#da6e66"/>
<rect x="220" y="155" width="9" height="9" fill="#e97b56"/>
<rect x="228" y="155" width="8" height="9" fill="#ed8051"/>
<rect x="235" y="155" width="8" height="9" fill="#f1854c"/>
<rect x="242" y="155" width="9" height="9" fill="#f48848"/>
<rect x="250" y="155" width="8" height="8" fill="#f68c45"/>
<rect x="257" y="154" width="8" height="9" fill="#f79044"/>
<rect x="264" y="154" width="8" height="9" fill="#f79443"/>
<rect x="271" y="154" width="9" height="9" fill="#f79243"/>
<rect x="279" y="154" width="8" height="9" fill="#f79143"/>
<rect x="286" y="154" width="8" height="8" fill="#f68b45"/>
<rect x="293" y="153" width="8" height="9" fill="#f38749"/>
<rect x="300" y="153" width="9" height="9" fill="#f0834e"/>
<rect x="308" y="153" width="8" height="9" fill="#ec7f52"/>
<rect x="315" y="153" width="8" height="9" fill="#ea7c56"/>
<rect x="322" y="153" width="9" height="9" fill="#e77859"/>
<rect x="330" y="153" width="8" height="9" fill="#e4755d"/>
<rect x="337" y="153" width="8" height="9" fill="#e27260"/>
<rect x="344" y="153" width="8" height="9" fill="#e17161"/>
<rect x="351" y="153" width="9" height="8" fill="#df7063"/>
<rect x="359" y="152" width="7" height="8" fill="#de7063"/>
<rect x="402" y="152" width="9" height="8" fill="#c16479"/>
<rect x="410" y="151" width="7" height="9" fill="#ba627c"/>
<rect x="104" y="166" width="8" height="9" fill="#0f3066"/>
<rect x="111" y="166" width="9" height="9" fill="#103068"/>
<rect x="119" y="166" width="8" height="9" fill="#11306a"/>
<rect x="126" y="166" width="8" height="8" fill="#183173"/>
<rect x="133" y="166" width="9" height="8" fill="#1e317c"/>
<rect x="141" y="165" width="8" height="9" fill="#28318a"/>
<rect x="148" y="165" width="8" height="9" fill="#333298"/>
<rect x="155" y="165" width="8" height="9" fill="#38339b"/>
<rect x="162" y="165" width="9" height="9" fill="#3e359b"/>
<rect x="170" y="165" width="8" height="8" fill="#46379a"/>
<rect x="177" y="164" width="8" height="9" fill="#4e3a9a"/>
<rect x="184" y="164" width="8" height="9" fill="#6c4595"/>
<rect x="191" y="164" width="9" height="9" fill="#86508d"/>
<rect x="199" y="164" width="8" height="9" fill="#ab5d82"/>
<rect x="206" y="164" width="8" height="8" fill="#d16b6d"/>
<rect x="213" y="163" width="9" height="9" fill="#e27260"/>
<rect x="221" y="163" width="8" height="9" fill="#ec7f52"/>
<rect x="228" y="163" width="8" height="9" fill="#ef834e"/>
<rect x="235" y="163" width="8" height="9" fill="#f2864b"/>
<rect x="242" y="163" width="9" height="8" fill="#f48848"/>
<rect x="250" y="162" width="8" height="9" fill="#f68a46"/>
<rect x="257" y="162" width="8" height="9" fill="#f68d44"/>
<rect x="264" y="162" width="9" height="9" fill="#f79044"/>
<rect x="272" y="162" width="8" height="9" fill="#f68d44"/>
<rect x="279" y="162" width="8" height="8" fill="#f58a46"/>
<rect x="286" y="161" width="8" height="9" fill="#f1854b"/>
<rect x="293" y="161" width="9" height="9" fill="#ed8050"/>
<rect x="301" y="161" width="8" height="9" fill="#eb7e53"/>
<rect x="308" y="161" width="8" height="9" fill="#e97b56"/>
<rect x="315" y="161" width="8" height="9" fill="#e77959"/>
<rect x="322" y="161" width="9" height="9" fill="#e5765b"/>
<rect x="330" y="161" width="8" height="9" fill="#e3745e"/>
<rect x="337" y="161" width="8" height="8" fill="#e27260"/>
<rect x="344" y="161" width="9" height="8" fill="#e07162"/>
<rect x="352" y="160" width="7" height="9" fill="#df7063"/>
<rect x="402" y="159" width="9" height="9" fill="#ba627c"/>
<rect x="410" y="159" width="7" height="9" fill="#b3607f"/>
<rect x="104" y="174" width="9" height="9" fill="#13306c"/>
<rect x="112" y="174" width="8" height="9" fill="#173172"/>
<rect x="119" y="174" width="8" height="8" fill="#1b3178"/>
<rect x="126" y="173" width="8" height="9" fill="#233182"/>
<rect x="133" y="173" width="9" height="9" fill="#2a318c"/>
<rect x="141" y="173" width="8" height="9" fill="#313295"/>
<rect x="148" y="173" width="8" height="9" fill="#37339b"/>
<rect x="155" y="173" width="9" height="9" fill="#3b349b"/>
<rect x="163" y="173" width="8" height="8" fill="#40359a"/>
<rect x="170" y="172" width="8" height="9" fill="#49389a"/>
<rect x="177" y="172" width="8" height="9" fill="#533b9a"/>
<rect x="184" y="172" width="9" height="9" fill="#714793"/>
<rect x="192" y="172" width="8" height="9" fill="#8d538b"/>
<rect x="199" y="172" width="8" height="8" fill="#b15f80"/>
<rect x="206" y="171" width="8" height="9" fill="#d46c6a"/>
<rect x="213" y="171" width="9" height="9" fill="#e27260"/>
<rect x="221" y="171" width="8" height="9" fill="#ea7d55"/>
<rect x="228" y="171" width="8" height="9" fill="#ee8150"/>
<rect x="235" y="171" width="9" height="9" fill="#f2864b"/>
<rect x="243" y="170" width="8" height="9" fill="#f38749"/>
<rect x="250" y="170" width="8" height="9" fill="#f48947"/>
<rect x="257" y="170" width="8" height="9" fill="#f68b45"/>
<rect x="264" y="170" width="9" height="9" fill="#f68d44"/>
<rect x="272" y="170" width="8" height="9" fill="#f58947"/>
<rect x="279" y="169" width="8" height="9" fill="#f2864b"/>
<rect x="286" y="169" width="9" height="9" fill="#ef824e"/>
<rect x="294" y="169" width="8" height="9" fill="#ec7f52"/>
<rect x="301" y="169" width="8" height="9" fill="#ea7c55"/>
<rect x="308" y="169" width="8" height="9" fill="#e87a58"/>
<rect x="315" y="169" width="9" height="9" fill="#e77859"/>
<rect x="323" y="169" width="8" height="9" fill="#e5765b"/>
<rect x="330" y="169" width="8" height="8" fill="#e4755d"/>
<rect x="337" y="168" width="8" height="9" fill="#e3735f"/>
<rect x="344" y="168" width="9" height="9" fill="#e27260"/>
<rect x="352" y="168" width="7" height="8" fill="#e07162"/>
<rect x="403" y="167" width="8" height="9" fill="#be637a"/>
<rect x="410" y="167" width="7" height="9" fill="#b6617d"/>
<rect x="105" y="182" width="8" height="8" fill="#2d328f"/>
<rect x="112" y="182" width="8" height="8" fill="#323298"/>
<rect x="119" y="181" width="8" height="9" fill="#38339b"/>
<rect x="126" y="181" width="9" height="9" fill="#3a349b"/>
<rect x="134" y="181" width="8" height="9" fill="#3c349b"/>
<rect x="141" y="181" width="8" height="9" fill="#3a349b"/>
<rect x="148" y="181" width="8" height="9" fill="#39339b"/>
<rect x="155" y="181" width="9" height="9" fill="#3c349b"/>
<rect x="163" y="180" width="8" height="9" fill="#40359a"/>
<rect x="170" y="180" width="8" height="9" fill="#4a389a"/>
<rect x="177" y="180" width="9" height="9" fill="#553c99"/>
<rect x="185" y="180" width="8" height="9" fill="#734892"/>
<rect x="192" y="180" width="8" height="9" fill="#90548b"/>
<rect x="199" y="179" width="8" height="9" fill="#b3607f"/>
<rect x="206" y="179" width="9" height="9" fill="#d56c6a"/>
<rect x="214" y="179" width="8" height="9" fill="#e17161"/>
<rect x="221" y="179" width="8" height="9" fill="#e97a57"/>
<rect x="228" y="179" width="8" height="9" fill="#ed8051"/>
<rect x="235" y="179" width="9" height="8" fill="#f2864b"/>
<rect x="243" y="178" width="8" height="9" fill="#f38749"/>
<rect x="250" y="178" width="8" height="9" fill="#f48848"/>
<rect x="257" y="178" width="9" height="9" fill="#f58947"/>
<rect x="265" y="178" width="8" height="9" fill="#f68a46"/>
<rect x="272" y="178" width="8" height="8" fill="#f3874a"/>
<rect x="279" y="177" width="8" height="9" fill="#ef834e"/>
<rect x="286" y="177" width="9" height="9" fill="#ee8050"/>
<rect x="294" y="177" width="8" height="9" fill="#ec7e53"/>
<rect x="301" y="177" width="8" height="9" fill="#ea7c55"/>
<rect x="308" y="177" width="8" height="9" fill="#e87a58"/>
<rect x="315" y="177" width="9" height="9" fill="#e77859"/>
<rect x="323" y="177" width="8" height="8" fill="#e6775b"/>
<rect x="330" y="176" width="8" height="9" fill="#e5755c"/>
<rect x="337" y="176" width="9" height="9" fill="#e3745e"/>
<rect x="345" y="176" width="7" height="9" fill="#e2725f"/>
<rect x="395" y="175" width="9" height="9" fill="#e17161"/>
<rect x="403" y="175" width="8" height="9" fill="#e17161"/>
<rect x="410" y="175" width="7" height="9" fill="#db6e66"/>
<rect x="105" y="189" width="8" height="9" fill="#614098"/>
<rect x="112" y="189" width="8" height="9" fill="#654297"/>
<rect x="119" y="189" width="9" height="9" fill="#694495"/>
<rect x="127" y="189" width="8" height="9" fill="#5f3f98"/>
<rect x="134" y="189" width="8" height="9" fill="#523b9a"/>
<rect x="141" y="189" width="8" height="9" fill="#46379a"/>
<rect x="148" y="189" width="9" height="9" fill="#39339b"/>
<rect x="156" y="189" width="8" height="8" fill="#3b349b"/>
<rect x="163" y="188" width="8" height="9" fill="#3e359b"/>
<rect x="170" y="188" width="8" height="9" fill="#49389a"/>
<rect x="177" y="188" width="9" height="9" fill="#553c99"/>
<rect x="185" y="188" width="8" height="9" fill="#724893"/>
<rect x="192" y="188" width="8" height="8" fill="#8e538b"/>
<rect x="199" y="187" width="9" height="9" fill="#b15f7f"/>
<rect x="207" y="187" width="8" height="9" fill="#d46c6b"/>
<rect x="214" y="187" width="8" height="9" fill="#e07162"/>
<rect x="221" y="187" width="8" height="9" fill="#e87958"/>
<rect x="228" y="187" width="9" height="8" fill="#ed7f52"/>
<rect x="236" y="186" width="8" height="9" fill="#f2854b"/>
<rect x="243" y="186" width="8" height="9" fill="#f38749"/>
<rect x="250" y="186" width="8" height="9" fill="#f48848"/>
<rect x="257" y="186" width="9" height="9" fill="#f48947"/>
<rect x="265" y="186" width="8" height="8" fill="#f48947"/>
<rect x="272" y="185" width="8" height="9" fill="#f2854b"/>
<rect x="279" y="185" width="9" height="9" fill="#ee824f"/>
<rect x="287" y="185" width="8" height="9" fill="#ed8051"/>
<rect x="294" y="185" width="8" height="9" fill="#ec7e53"/>
<rect x="301" y="185" width="8" height="9" fill="#ea7c55"/>
<rect x="308" y="185" width="9" height="8" fill="#e97b56"/>
<rect x="316" y="185" width="8" height="8" fill="#e87a58"/>
<rect x="323" y="184" width="8" height="9" fill="#e77859"/>
<rect x="330" y="184" width="8" height="9" fill="#e5765c"/>
<rect x="337" y="184" width="9" height="9" fill="#e3745e"/>
<rect x="345" y="184" width="7" height="8" fill="#e2725f"/>
<rect x="396" y="183" width="8" height="8" fill="#d46c6b"/>
<rect x="403" y="183" width="8" height="9" fill="#d46c6b"/>
<rect x="410" y="183" width="7" height="9" fill="#cb6872"/>
<rect x="105" y="197" width="8" height="9" fill="#86508d"/>
<rect x="112" y="197" width="8" height="9" fill="#8a518c"/>
<rect x="119" y="197" width="9" height="9" fill="#8d538b"/>
<rect x="127" y="197" width="8" height="9" fill="#7f4d8f"/>
<rect x="134" y="197" width="8" height="9" fill="#714793"/>
<rect x="141" y="197" width="9" height="9" fill="#5b3d99"/>
<rect x="149" y="197" width="8" height="8" fill="#41369a"/>
<rect x="156" y="196" width="8" height="9" fill="#3d349b"/>
<rect x="163" y="196" width="8" height="9" fill="#3a339b"/>
<rect x="170" y="196" width="9" height="9" fill="#46379a"/>
<rect x="178" y="196" width="8" height="9" fill="#533b9a"/>
<rect x="185" y="196" width="8" height="8" fill="#714793"/>
<rect x="192" y="195" width="8" height="9" fill="#8d538b"/>
<rect x="199" y="195" width="9" height="9" fill="#af5e80"/>
<rect x="207" y="195" width="8" height="9" fill="#d26b6c"/>
<rect x="214" y="195" width="8" height="9" fill="#de7063"/>
<rect x="221" y="195" width="9" height="8" fill="#e6785a"/>
<rect x="229" y="194" width="8" height="9" fill="#ec7e53"/>
<rect x="236" y="194" width="8" height="9" fill="#f0844c"/>
<rect x="243" y="194" width="8" height="9" fill="#f2864a"/>
<rect x="250" y="194" width="9" height="9" fill="#f38849"/>
<rect x="258" y="194" width="8" height="8" fill="#f48848"/>
<rect x="265" y="193" width="8" height="9" fill="#f48848"/>
<rect x="272" y="193" width="8" height="9" fill="#f1854b"/>
<rect x="279" y="193" width="9" height="9" fill="#ee814f"/>
<rect x="287" y="193" width="8" height="9" fill="#ed7f51"/>
<rect x="294" y="193" width="8" height="9" fill="#eb7e53"/>
<rect x="301" y="193" width="8" height="8" fill="#ea7c55"/>
<rect x="308" y="192" width="9" height="9" fill="#e97b56"/>
<rect x="316" y="192" width="8" height="9" fill="#e87958"/>
<rect x="323" y="192" width="8" height="9" fill="#e6785a"/>
<rect x="330" y="192" width="9" height="9" fill="#e4755d"/>
<rect x="338" y="192" width="7" height="9" fill="#e27260"/>
<rect x="403" y="191" width="8" height="9" fill="#ba627c"/>
<rect x="410" y="191" width="8" height="9" fill="#b05e80"/>
<rect x="105" y="205" width="8" height="9" fill="#a45b84"/>
<rect x="112" y="205" width="9" height="9" fill="#a85c83"/>
<rect x="120" y="205" width="8" height="9" fill="#ac5d81"/>
<rect x="127" y="205" width="8" height="9" fill="#a05a86"/>
<rect x="134" y="205" width="8" height="9" fill="#955689"/>
<rect x="141" y="205" width="9" height="8" fill="#744892"/>
<rect x="149" y="204" width="8" height="9" fill="#4f3a9a"/>
<rect x="156" y="204" width="8" height="9" fill="#41369a"/>
<rect x="163" y="204" width="9" height="9" fill="#343299"/>
<rect x="171" y="204" width="8" height="9" fill="#41369a"/>
<rect x="178" y="204" width="8" height="8" fill="#4e3a9a"/>
<rect x="185" y="203" width="8" height="9" fill="#6f4694"/>
<rect x="192" y="203" width="9" height="9" fill="#8d538b"/>
<rect x="200" y="203" width="8" height="9" fill="#af5e80"/>
<rect x="207" y="203" width="8" height="9" fill="#d06a6d"/>
<rect x="214" y="203" width="8" height="8" fill="#dc6f64"/>
<rect x="221" y="202" width="9" height="9" fill="#e5765b"/>
<rect x="229" y="202" width="8" height="9" fill="#ea7c55"/>
<rect x="236" y="202" width="8" height="9" fill="#ee824f"/>
<rect x="243" y="202" width="8" height="9" fill="#f0844d"/>
<rect x="250" y="202" width="9" height="9" fill="#f2864a"/>
<rect x="258" y="201" width="8" height="9" fill="#f38749"/>
<rect x="265" y="201" width="8" height="9" fill="#f48848"/>
<rect x="272" y="201" width="9" height="9" fill="#f2864b"/>
<rect x="280" y="201" width="8" height="9" fill="#ef834e"/>
<rect x="287" y="201" width="8" height="9" fill="#ed8051"/>
<rect x="294" y="201" width="8" height="8" fill="#ea7c55"/>
<rect x="301" y="200" width="9" height="9" fill="#e97b56"/>
<rect x="309" y="200" width="8" height="9" fill="#e87a58"/>
<rect x="316" y="200" width="8" height="9" fill="#e6775a"/>
<rect x="323" y="200" width="8" height="9" fill="#e4755d"/>
<rect x="330" y="200" width="9" height="9" fill="#e17260"/>
<rect x="338" y="200" width="7" height="9" fill="#dd6f64"/>
<rect x="403" y="199" width="8" height="8" fill="#844f8d"/>
<rect x="410" y="199" width="8" height="7" fill="#844f8d"/>
<rect x="105" y="213" width="9" height="9" fill="#b5607e"/>
<rect x="113" y="213" width="8" height="9" fill="#b7617d"/>
<rect x="120" y="213" width="8" height="9" fill="#b8617d"/>
<rect x="127" y="213" width="8" height="9" fill="#ab5d82"/>
<rect x="134" y="213" width="9" height="8" fill="#9f5987"/>
<rect x="142" y="212" width="8" height="9" fill="#7f4d8f"/>
<rect x="149" y="212" width="8" height="9" fill="#5f3f98"/>
<rect x="156" y="212" width="8" height="9" fill="#48389a"/>
<rect x="163" y="212" width="9" height="9" fill="#313296"/>
<rect x="171" y="212" width="8" height="9" fill="#3b349b"/>
<rect x="178" y="211" width="8" height="9" fill="#46379a"/>
<rect x="185" y="211" width="9" height="9" fill="#694395"/>
<rect x="193" y="211" width="8" height="9" fill="#88518c"/>
<rect x="200" y="211" width="8" height="9" fill="#aa5d82"/>
<rect x="207" y="211" width="8" height="9" fill="#cd6970"/>
<rect x="214" y="210" width="9" height="9" fill="#d96e67"/>
<rect x="222" y="210" width="8" height="9" fill="#e4745d"/>
<rect x="229" y="210" width="8" height="9" fill="#e87a58"/>
<rect x="236" y="210" width="8" height="9" fill="#ec7f52"/>
<rect x="243" y="210" width="9" height="9" fill="#ee824f"/>
<rect x="251" y="210" width="8" height="8" fill="#f1844c"/>
<rect x="258" y="209" width="8" height="9" fill="#f1854b"/>
<rect x="265" y="209" width="8" height="9" fill="#f2864a"/>
<rect x="272" y="209" width="9" height="9" fill="#f1844c"/>
<rect x="280" y="209" width="8" height="9" fill="#ef824f"/>
<rect x="287" y="209" width="8" height="8" fill="#ec7f52"/>
<rect x="294" y="208" width="8" height="9" fill="#e97b56"/>
<rect x="301" y="208" width="9" height="9" fill="#e87a58"/>
<rect x="309" y="208" width="8" height="9" fill="#e77859"/>
<rect x="316" y="208" width="8" height="9" fill="#e5765c"/>
<rect x="323" y="208" width="9" height="9" fill="#e3745e"/>
<rect x="331" y="208" width="8" height="9" fill="#df7062"/>
<rect x="338" y="208" width="7" height="9" fill="#d96e67"/>
<rect x="106" y="221" width="8" height="9" fill="#b9617c"/>
<rect x="113" y="221" width="8" height="9" fill="#b6617d"/>
<rect x="120" y="221" width="8" height="9" fill="#b4607e"/>
<rect x="127" y="221" width="9" height="8" fill="#a45b85"/>
<rect x="135" y="220" width="8" height="9" fill="#955689"/>
<rect x="142" y="220" width="8" height="9" fill="#814e8e"/>
<rect x="149" y="220" width="8" height="9" fill="#6c4594"/>
<rect x="156" y="220" width="9" height="9" fill="#503a9a"/>
<rect x="164" y="220" width="8" height="9" fill="#323296"/>
<rect x="171" y="220" width="8" height="8" fill="#35329b"/>
<rect x="178" y="219" width="8" height="9" fill="#3a339b"/>
<rect x="185" y="219" width="9" height="9" fill="#603f98"/>
<rect x="193" y="219" width="8" height="9" fill="#804e8e"/>
<rect x="200" y="219" width="8" height="9" fill="#a35a85"/>
<rect x="207" y="219" width="8" height="8" fill="#c86774"/>
<rect x="214" y="218" width="9" height="9" fill="#d56c6a"/>
<rect x="222" y="218" width="8" height="9" fill="#e17260"/>
<rect x="229" y="218" width="8" height="9" fill="#e6775b"/>
<rect x="236" y="218" width="9" height="9" fill="#ea7c55"/>
<rect x="244" y="218" width="8" height="8" fill="#ec7f52"/>
<rect x="251" y="217" width="8" height="9" fill="#ee824f"/>
<rect x="258" y="217" width="8" height="9" fill="#ef824f"/>
<rect x="265" y="217" width="9" height="9" fill="#ef824e"/>
<rect x="273" y="217" width="8" height="9" fill="#ee8150"/>
<rect x="280" y="217" width="8" height="8" fill="#ed7f52"/>
<rect x="287" y="216" width="8" height="9" fill="#ea7d55"/>
<rect x="294" y="216" width="9" height="9" fill="#e87a58"/>
<rect x="302" y="216" width="8" height="9" fill="#e77859"/>
<rect x="309" y="216" width="8" height="9" fill="#e6775b"/>
<rect x="316" y="216" width="8" height="9" fill="#e5755c"/>
<rect x="323" y="216" width="9" height="9" fill="#e3745e"/>
<rect x="331" y="216" width="8" height="9" fill="#de7063"/>
<rect x="338" y="216" width="7" height="7" fill="#d66d69"/>
<rect x="106" y="229" width="8" height="9" fill="#b5607e"/>
<rect x="113" y="229" width="8" height="9" fill="#aa5d82"/>
<rect x="120" y="229" width="8" height="8" fill="#9f5987"/>
<rect x="127" y="228" width="9" height="9" fill="#8e538b"/>
<rect x="135" y="228" width="8" height="9" fill="#7e4d8f"/>
<rect x="142" y="228" width="8" height="9" fill="#744992"/>
<rect x="149" y="228" width="9" height="9" fill="#6a4495"/>
<rect x="157" y="228" width="8" height="9" fill="#4f3a9a"/>
<rect x="164" y="228" width="8" height="8" fill="#303295"/>
<rect x="171" y="227" width="8" height="9" fill="#303295"/>
<rect x="178" y="227" width="9" height="9" fill="#313296"/>
<rect x="186" y="227" width="8" height="9" fill="#523b9a"/>
<rect x="193" y="227" width="8" height="9" fill="#704793"/>
<rect x="200" y="227" width="8" height="8" fill="#965689"/>
<rect x="207" y="226" width="9" height="9" fill="#be637a"/>
<rect x="215" y="226" width="8" height="9" fill="#cf696f"/>
<rect x="222" y="226" width="8" height="9" fill="#dd6f64"/>
<rect x="229" y="226" width="8" height="9" fill="#e4745e"/>
<rect x="236" y="226" width="9" height="9" fill="#e87a57"/>
<rect x="244" y="225" width="8" height="9" fill="#ea7c55"/>
<rect x="251" y="225" width="8" height="9" fill="#ec7e53"/>
<rect x="258" y="225" width="8" height="9" fill="#ec7e53"/>
<rect x="265" y="225" width="9" height="9" fill="#ec7e53"/>
<rect x="273" y="225" width="8" height="8" fill="#eb7d54"/>
<rect x="280" y="224" width="8" height="9" fill="#ea7d55"/>
<rect x="287" y="224" width="9" height="9" fill="#e97b56"/>
<rect x="295" y="224" width="8" height="9" fill="#e77958"/>
<rect x="302" y="224" width="8" height="9" fill="#e77859"/>
<rect x="309" y="224" width="8" height="9" fill="#e6775a"/>
<rect x="316" y="224" width="9" height="9" fill="#e3735e"/>
<rect x="324" y="224" width="8" height="9" fill="#df7063"/>
<rect x="331" y="224" width="7" height="7" fill="#d76d68"/>
<rect x="411" y="222" width="7" height="9" fill="#41369a"/>
<rect x="106" y="237" width="8" height="8" fill="#ae5e81"/>
<rect x="113" y="237" width="8" height="8" fill="#975689"/>
<rect x="120" y="236" width="9" height="9" fill="#814e8e"/>
<rect x="128" y="236" width="8" height="9" fill="#704793"/>
<rect x="135" y="236" width="8" height="9" fill="#603f98"/>
<rect x="142" y="236" width="8" height="9" fill="#603f98"/>
<rect x="149" y="236" width="9" height="9" fill="#603f98"/>
<rect x="157" y="236" width="8" height="8" fill="#48389a"/>
<rect x="164" y="235" width="8" height="9" fill="#2e3292"/>
<rect x="171" y="235" width="8" height="9" fill="#2c328f"/>
<rect x="178" y="235" width="9" height="9" fill="#2b328d"/>
<rect x="186" y="235" width="8" height="9" fill="#43369a"/>
<rect x="193" y="235" width="8" height="8" fill="#5c3e99"/>
<rect x="200" y="234" width="9" height="9" fill="#86508d"/>
<rect x="208" y="234" width="8" height="9" fill="#b25f7f"/>
<rect x="215" y="234" width="8" height="9" fill="#c66675"/>
<rect x="222" y="234" width="8" height="9" fill="#d86d68"/>
<rect x="229" y="234" width="9" height="9" fill="#e17160"/>
<rect x="237" y="234" width="8" height="8" fill="#e77959"/>
<rect x="244" y="233" width="8" height="9" fill="#e87a58"/>
<rect x="251" y="233" width="8" height="9" fill="#e87a57"/>
<rect x="258" y="233" width="9" height="9" fill="#e87a57"/>
<rect x="266" y="233" width="8" height="9" fill="#e87a57"/>
<rect x="273" y="232" width="8" height="9" fill="#e87a57"/>
<rect x="280" y="232" width="8" height="9" fill="#e87a57"/>
<rect x="287" y="232" width="9" height="9" fill="#e87958"/>
<rect x="295" y="232" width="8" height="9" fill="#e77959"/>
<rect x="302" y="232" width="8" height="9" fill="#e77959"/>
<rect x="309" y="232" width="8" height="9" fill="#e77859"/>
<rect x="316" y="232" width="9" height="9" fill="#e17161"/>
<rect x="324" y="232" width="7" height="8" fill="#d66c69"/>
<rect x="404" y="230" width="8" height="9" fill="#0d3064"/>
<rect x="411" y="230" width="7" height="9" fill="#313296"/>
<rect x="106" y="244" width="8" height="9" fill="#a45b84"/>
<rect x="113" y="244" width="9" height="9" fill="#87518d"/>
<rect x="121" y="244" width="8" height="9" fill="#6b4495"/>
<rect x="128" y="244" width="8" height="9" fill="#5d3e99"/>
<rect x="135" y="244" width="8" height="9" fill="#4c399a"/>
<rect x="142" y="244" width="9" height="9" fill="#4b399a"/>
<rect x="150" y="244" width="8" height="9" fill="#4b389a"/>
<rect x="157" y="243" width="8" height="9" fill="#38339b"/>
<rect x="164" y="243" width="8" height="9" fill="#253185"/>
<rect x="171" y="243" width="9" height="9" fill="#233183"/>
<rect x="179" y="243" width="8" height="9" fill="#223181"/>
<rect x="186" y="243" width="8" height="9" fill="#34329a"/>
<rect x="193" y="242" width="8" height="9" fill="#47379a"/>
<rect x="200" y="242" width="9" height="9" fill="#714793"/>
<rect x="208" y="242" width="8" height="9" fill="#975789"/>
<rect x="215" y="242" width="8" height="9" fill="#b05f80"/>
<rect x="222" y="242" width="8" height="9" fill="#c76674"/>
<rect x="229" y="242" width="9" height="8" fill="#d26b6c"/>
<rect x="237" y="241" width="8" height="9" fill="#dd6f64"/>
<rect x="244" y="241" width="8" height="9" fill="#e17161"/>
<rect x="251" y="241" width="9" height="9" fill="#e3735e"/>
<rect x="259" y="241" width="8" height="9" fill="#e3745e"/>
<rect x="266" y="241" width="8" height="8" fill="#e4755d"/>
<rect x="273" y="240" width="8" height="9" fill="#e27260"/>
<rect x="280" y="240" width="9" height="9" fill="#e07062"/>
<rect x="288" y="240" width="8" height="9" fill="#de7064"/>
<rect x="295" y="240" width="8" height="9" fill="#db6f65"/>
<rect x="302" y="240" width="8" height="9" fill="#da6e67"/>
<rect x="309" y="240" width="9" height="8" fill="#d86d68"/>
<rect x="317" y="240" width="8" height="8" fill="#d06a6e"/>
<rect x="324" y="239" width="7" height="8" fill="#c76774"/>
<rect x="404" y="238" width="8" height="8" fill="#0d3064"/>
<rect x="411" y="238" width="7" height="9" fill="#253185"/>
<rect x="106" y="252" width="9" height="9" fill="#9a5788"/>
<rect x="114" y="252" width="8" height="9" fill="#794b90"/>
<rect x="121" y="252" width="8" height="9" fill="#573c99"/>
<rect x="128" y="252" width="8" height="9" fill="#4b399a"/>
<rect x="135" y="252" width="9" height="9" fill="#40359a"/>
<rect x="143" y="252" width="8" height="9" fill="#38339b"/>
<rect x="150" y="252" width="8" height="8" fill="#303294"/>
<rect x="157" y="251" width="8" height="9" fill="#243184"/>
<rect x="164" y="251" width="9" height="9" fill="#183174"/>
<rect x="172" y="251" width="8" height="9" fill="#183173"/>
<rect x="179" y="251" width="8" height="9" fill="#183173"/>
<rect x="186" y="251" width="8" height="8" fill="#253185"/>
<rect x="193" y="250" width="9" height="9" fill="#323297"/>
<rect x="201" y="250" width="8" height="9" fill="#583c99"/>
<rect x="208" y="250" width="8" height="9" fill="#784a91"/>
<rect x="215" y="250" width="8" height="9" fill="#93558a"/>
<rect x="222" y="250" width="9" height="8" fill="#ae5e81"/>
<rect x="230" y="249" width="8" height="9" fill="#bc637b"/>
<rect x="237" y="249" width="8" height="9" fill="#c96773"/>
<rect x="244" y="249" width="8" height="9" fill="#d26b6d"/>
<rect x="251" y="249" width="9" height="9" fill="#da6e66"/>
<rect x="259" y="249" width="8" height="8" fill="#dc6f65"/>
<rect x="266" y="248" width="8" height="9" fill="#dd6f64"/>
<rect x="273" y="248" width="8" height="9" fill="#d66d69"/>
<rect x="280" y="248" width="9" height="9" fill="#ce696f"/>
<rect x="288" y="248" width="8" height="9" fill="#c96773"/>
<rect x="295" y="248" width="8" height="9" fill="#c36577"/>
<rect x="302" y="248" width="8" height="8" fill="#bf637a"/>
<rect x="309" y="247" width="9" height="9" fill="#ba627c"/>
<rect x="317" y="247" width="7" height="8" fill="#b7617d"/>
<rect x="411" y="246" width="7" height="8" fill="#193174"/>
<rect x="106" y="260" width="9" height="9" fill="#9c5888"/>
<rect x="114" y="260" width="8" height="9" fill="#794b90"/>
<rect x="121" y="260" width="8" height="9" fill="#553c99"/>
<rect x="128" y="260" width="8" height="9" fill="#42369a"/>
<rect x="135" y="260" width="9" height="9" fill="#2e3291"/>
<rect x="143" y="260" width="8" height="8" fill="#273187"/>
<rect x="150" y="259" width="8" height="9" fill="#20317e"/>
<rect x="157" y="259" width="9" height="9" fill="#1a3176"/>
<rect x="165" y="259" width="8" height="9" fill="#14306d"/>
<rect x="172" y="259" width="8" height="9" fill="#13306d"/>
<rect x="179" y="259" width="8" height="8" fill="#13306d"/>
<rect x="186" y="258" width="9" height="9" fill="#1e317b"/>
<rect x="194" y="258" width="8" height="9" fill="#283189"/>
<rect x="201" y="258" width="8" height="9" fill="#4a389a"/>
<rect x="208" y="258" width="8" height="9" fill="#6a4495"/>
<rect x="215" y="258" width="9" height="8" fill="#804e8e"/>
<rect x="223" y="257" width="8" height="9" fill="#955689"/>
<rect x="230" y="257" width="8" height="9" fill="#a55b84"/>
<rect x="237" y="257" width="8" height="9" fill="#b5607e"/>
<rect x="244" y="257" width="9" height="9" fill="#c26578"/>
<rect x="252" y="257" width="8" height="9" fill="#ce696f"/>
<rect x="259" y="256" width="8" height="9" fill="#d06a6d"/>
<rect x="266" y="256" width="8" height="9" fill="#d16b6d"/>
<rect x="273" y="256" width="9" height="9" fill="#c86774"/>
<rect x="281" y="256" width="8" height="9" fill="#bd637b"/>
<rect x="288" y="256" width="8" height="9" fill="#b4607e"/>
<rect x="295" y="256" width="8" height="8" fill="#ab5d82"/>
<rect x="302" y="255" width="9" height="9" fill="#a55b84"/>
<rect x="310" y="255" width="7" height="9" fill="#a05a86"/>
<rect x="107" y="268" width="8" height="9" fill="#a25a85"/>
<rect x="114" y="268" width="8" height="9" fill="#7f4e8f"/>
<rect x="121" y="268" width="8" height="9" fill="#5b3e99"/>
<rect x="128" y="268" width="9" height="9" fill="#3a349b"/>
<rect x="136" y="268" width="8" height="8" fill="#193175"/>
<rect x="143" y="267" width="8" height="9" fill="#163071"/>
<rect x="150" y="267" width="8" height="9" fill="#13306d"/>
<rect x="157" y="267" width="9" height="9" fill="#12306c"/>
<rect x="165" y="267" width="8" height="9" fill="#11306a"/>
<rect x="172" y="267" width="8" height="9" fill="#11306a"/>
<rect x="179" y="266" width="8" height="9" fill="#11306a"/>
<rect x="186" y="266" width="9" height="9" fill="#1a3175"/>
<rect x="194" y="266" width="8" height="9" fill="#223181"/>
<rect x="201" y="266" width="8" height="9" fill="#43369a"/>
<rect x="208" y="266" width="8" height="9" fill="#644197"/>
<rect x="215" y="265" width="9" height="9" fill="#714793"/>
<rect x="223" y="265" width="8" height="9" fill="#7d4c8f"/>
<rect x="230" y="265" width="8" height="9" fill="#8f538b"/>
<rect x="237" y="265" width="8" height="9" fill="#a15a86"/>
<rect x="244" y="265" width="9" height="9" fill="#b25f7f"/>
<rect x="252" y="265" width="8" height="8" fill="#c26578"/>
<rect x="259" y="264" width="8" height="9" fill="#c46577"/>
<rect x="266" y="264" width="8" height="9" fill="#c46576"/>
<rect x="273" y="264" width="9" height="9" fill="#b9617c"/>
<rect x="281" y="264" width="8" height="9" fill="#ab5d82"/>
<rect x="288" y="264" width="8" height="8" fill="#a05a86"/>
<rect x="295" y="263" width="9" height="9" fill="#955689"/>
<rect x="303" y="263" width="8" height="9" fill="#8f538b"/>
<rect x="310" y="263" width="7" height="9" fill="#8a528c"/>
<rect x="107" y="276" width="8" height="9" fill="#a45b85"/>
<rect x="114" y="276" width="8" height="9" fill="#844f8e"/>
<rect x="121" y="276" width="9" height="9" fill="#634197"/>
<rect x="129" y="276" width="8" height="8" fill="#3f359a"/>
<rect x="136" y="275" width="8" height="9" fill="#1a3176"/>
<rect x="143" y="275" width="8" height="9" fill="#163071"/>
<rect x="150" y="275" width="9" height="9" fill="#13306c"/>
<rect x="158" y="275" width="8" height="9" fill="#12306b"/>
<rect x="165" y="275" width="8" height="9" fill="#11306a"/>
<rect x="172" y="275" width="8" height="8" fill="#11306a"/>
<rect x="179" y="274" width="9" height="9" fill="#11306a"/>
<rect x="187" y="274" width="8" height="9" fill="#173172"/>
<rect x="194" y="274" width="8" height="9" fill="#1d317b"/>
<rect x="201" y="274" width="8" height="9" fill="#39339b"/>
<rect x="208" y="274" width="9" height="8" fill="#573c99"/>
<rect x="216" y="273" width="8" height="9" fill="#614098"/>
<rect x="223" y="273" width="8" height="9" fill="#6a4495"/>
<rect x="230" y="273" width="8" height="9" fill="#7d4c8f"/>
<rect x="237" y="273" width="9" height="9" fill="#90548b"/>
<rect x="245" y="273" width="8" height="8" fill="#a35b85"/>
<rect x="252" y="272" width="8" height="9" fill="#b7617d"/>
<rect x="259" y="272" width="8" height="9" fill="#bb627c"/>
<rect x="266" y="272" width="9" height="9" fill="#bd637b"/>
<rect x="274" y="272" width="8" height="9" fill="#b15f7f"/>
<rect x="281" y="272" width="8" height="8" fill="#a45b85"/>
<rect x="288" y="271" width="8" height="9" fill="#985789"/>
<rect x="295" y="271" width="9" height="9" fill="#8c528c"/>
<rect x="303" y="271" width="8" height="9" fill="#86508d"/>
<rect x="310" y="271" width="7" height="9" fill="#814e8e"/>
<rect x="107" y="284" width="8" height="9" fill="#a45b85"/>
<rect x="114" y="284" width="9" height="8" fill="#88518d"/>
<rect x="122" y="284" width="8" height="8" fill="#6c4595"/>
<rect x="129" y="283" width="8" height="9" fill="#48389a"/>
<rect x="136" y="283" width="8" height="9" fill="#20317e"/>
<rect x="143" y="283" width="9" height="9" fill="#1a3177"/>
<rect x="151" y="283" width="8" height="9" fill="#15306f"/>
<rect x="158" y="283" width="8" height="9" fill="#13306c"/>
<rect x="165" y="283" width="8" height="8" fill="#11306a"/>
<rect x="172" y="282" width="9" height="9" fill="#11306a"/>
<rect x="180" y="282" width="8" height="9" fill="#11306a"/>
<rect x="187" y="282" width="8" height="9" fill="#15306f"/>
<rect x="194" y="282" width="8" height="9" fill="#193175"/>
<rect x="201" y="282" width="9" height="8" fill="#2f3293"/>
<rect x="209" y="281" width="8" height="9" fill="#46379a"/>
<rect x="216" y="281" width="8" height="9" fill="#503a9a"/>
<rect x="223" y="281" width="8" height="9" fill="#583d99"/>
<rect x="230" y="281" width="9" height="9" fill="#6c4595"/>
<rect x="238" y="281" width="8" height="8" fill="#7f4e8f"/>
<rect x="245" y="280" width="8" height="9" fill="#955689"/>
<rect x="252" y="280" width="8" height="9" fill="#ac5d82"/>
<rect x="259" y="280" width="9" height="9" fill="#b25f7f"/>
<rect x="267" y="280" width="8" height="9" fill="#b7617d"/>
<rect x="274" y="280" width="8" height="8" fill="#ad5e81"/>
<rect x="281" y="279" width="8" height="9" fill="#a05a86"/>
<rect x="288" y="279" width="9" height="9" fill="#94558a"/>
<rect x="296" y="279" width="8" height="9" fill="#87508d"/>
<rect x="303" y="279" width="8" height="9" fill="#814e8e"/>
<rect x="310" y="279" width="7" height="9" fill="#7c4c8f"/>
<rect x="107" y="292" width="8" height="8" fill="#a45b84"/>
<rect x="114" y="291" width="9" height="9" fill="#8e538b"/>
<rect x="122" y="291" width="8" height="9" fill="#774a91"/>
<rect x="129" y="291" width="8" height="9" fill="#563c99"/>
<rect x="136" y="291" width="8" height="9" fill="#2f3293"/>
<rect x="143" y="291" width="9" height="9" fill="#2b328d"/>
<rect x="151" y="291" width="8" height="9" fill="#273187"/>
<rect x="158" y="291" width="8" height="8" fill="#253186"/>
<rect x="165" y="290" width="8" height="9" fill="#243184"/>
<rect x="172" y="290" width="9" height="9" fill="#1e317c"/>
<rect x="180" y="290" width="8" height="9" fill="#183173"/>
<rect x="187" y="290" width="8" height="9" fill="#183173"/>
<rect x="194" y="290" width="8" height="8" fill="#173172"/>
<rect x="201" y="289" width="9" height="9" fill="#243184"/>
<rect x="209" y="289" width="8" height="9" fill="#313296"/>
<rect x="216" y="289" width="8" height="9" fill="#40359a"/>
<rect x="223" y="289" width="8" height="9" fill="#4f3a9a"/>
<rect x="230" y="289" width="9" height="9" fill="#644197"/>
<rect x="238" y="288" width="8" height="9" fill="#774a91"/>
<rect x="245" y="288" width="8" height="9" fill="#8d538b"/>
<rect x="252" y="288" width="8" height="9" fill="#a45b85"/>
<rect x="259" y="288" width="9" height="9" fill="#ad5e81"/>
<rect x="267" y="288" width="8" height="9" fill="#b6607e"/>
<rect x="274" y="287" width="8" height="9" fill="#a95c83"/>
<rect x="281" y="287" width="8" height="9" fill="#995788"/>
<rect x="288" y="287" width="9" height="9" fill="#8d538b"/>
<rect x="296" y="287" width="8" height="9" fill="#814e8e"/>
<rect x="303" y="287" width="8" height="9" fill="#784a91"/>
<rect x="310" y="287" width="7" height="9" fill="#704693"/>
<rect x="107" y="299" width="9" height="9" fill="#a45b84"/>
<rect x="115" y="299" width="8" height="9" fill="#93558a"/>
<rect x="122" y="299" width="8" height="9" fill="#834f8e"/>
<rect x="129" y="299" width="8" height="9" fill="#644197"/>
<rect x="136" y="299" width="9" height="9" fill="#40359a"/>
<rect x="144" y="299" width="8" height="9" fill="#3e359b"/>
<rect x="151" y="299" width="8" height="9" fill="#3b349b"/>
<rect x="158" y="298" width="8" height="9" fill="#3b349b"/>
<rect x="165" y="298" width="9" height="9" fill="#3b349b"/>
<rect x="173" y="298" width="8" height="9" fill="#2e3291"/>
<rect x="180" y="298" width="8" height="9" fill="#21317f"/>
<rect x="187" y="298" width="8" height="9" fill="#1b3177"/>
<rect x="194" y="297" width="9" height="9" fill="#163070"/>
<rect x="202" y="297" width="8" height="9" fill="#183173"/>
<rect x="209" y="297" width="8" height="9" fill="#1b3178"/>
<rect x="216" y="297" width="8" height="9" fill="#313296"/>
<rect x="223" y="297" width="9" height="9" fill="#48389a"/>
<rect x="231" y="297" width="8" height="8" fill="#5e3e99"/>
<rect x="238" y="296" width="8" height="9" fill="#704793"/>
<rect x="245" y="296" width="8" height="9" fill="#86508d"/>
<rect x="252" y="296" width="9" height="9" fill="#9d5887"/>
<rect x="260" y="296" width="8" height="9" fill="#a95d82"/>
<rect x="267" y="296" width="8" height="8" fill="#b5607e"/>
<rect x="274" y="295" width="8" height="9" fill="#a55b84"/>
<rect x="281" y="295" width="9" height="9" fill="#92548a"/>
<rect x="289" y="295" width="8" height="9" fill="#86508d"/>
<rect x="296" y="295" width="8" height="9" fill="#7a4b90"/>
<rect x="303" y="295" width="8" height="9" fill="#6e4694"/>
<rect x="310" y="295" width="9" height="8" fill="#614098"/>
<rect x="318" y="294" width="8" height="9" fill="#503a9a"/>
<rect x="325" y="294" width="7" height="9" fill="#3d349b"/>
<rect x="108" y="307" width="8" height="9" fill="#a35b85"/>
<rect x="115" y="307" width="8" height="9" fill="#975689"/>
<rect x="122" y="307" width="8" height="9" fill="#8b528c"/>
<rect x="129" y="307" width="9" height="9" fill="#754992"/>
<rect x="137" y="307" width="8" height="9" fill="#5d3e99"/>
<rect x="144" y="307" width="8" height="9" fill="#5a3d99"/>
<rect x="151" y="307" width="8" height="8" fill="#573c99"/>
<rect x="158" y="306" width="9" height="9" fill="#5b3d99"/>
<rect x="166" y="306" width="8" height="9" fill="#5e3f99"/>
<rect x="173" y="306" width="8" height="9" fill="#553c99"/>
<rect x="180" y="306" width="8" height="9" fill="#4c399a"/>
<rect x="187" y="306" width="9" height="8" fill="#38339b"/>
<rect x="195" y="305" width="8" height="9" fill="#253185"/>
<rect x="202" y="305" width="8" height="9" fill="#1e317b"/>
<rect x="209" y="305" width="8" height="9" fill="#183173"/>
<rect x="216" y="305" width="9" height="9" fill="#2a318c"/>
<rect x="224" y="305" width="8" height="8" fill="#3e359b"/>
<rect x="231" y="304" width="8" height="9" fill="#533b99"/>
<rect x="238" y="304" width="8" height="9" fill="#664296"/>
<rect x="245" y="304" width="9" height="9" fill="#7b4c90"/>
<rect x="253" y="304" width="8" height="9" fill="#90548a"/>
<rect x="260" y="304" width="8" height="8" fill="#9c5888"/>
<rect x="267" y="303" width="8" height="9" fill="#a75c83"/>
<rect x="274" y="303" width="9" height="9" fill="#985788"/>
<rect x="282" y="303" width="8" height="9" fill="#87508d"/>
<rect x="289" y="303" width="8" height="9" fill="#7a4b90"/>
<rect x="296" y="303" width="8" height="9" fill="#6e4694"/>
<rect x="303" y="303" width="8" height="8" fill="#624098"/>
<rect x="310" y="302" width="9" height="9" fill="#553c99"/>
<rect x="318" y="302" width="8" height="9" fill="#46379a"/>
<rect x="325" y="302" width="8" height="9" fill="#38339b"/>
<rect x="332" y="302" width="7" height="9" fill="#20317e"/>
<rect x="108" y="315" width="8" height="9" fill="#a15a86"/>
<rect x="115" y="315" width="8" height="9" fill="#9a5888"/>
<rect x="122" y="315" width="9" height="9" fill="#94558a"/>
<rect x="130" y="315" width="8" height="9" fill="#85508d"/>
<rect x="137" y="315" width="8" height="9" fill="#774a91"/>
<rect x="144" y="315" width="8" height="8" fill="#734892"/>
<rect x="151" y="314" width="9" height="9" fill="#704793"/>
<rect x="159" y="314" width="8" height="9" fill="#764a91"/>
<rect x="166" y="314" width="8" height="9" fill="#7d4c8f"/>
<rect x="173" y="314" width="8" height="9" fill="#794b90"/>
<rect x="180" y="314" width="8" height="8" fill="#764991"/>
<rect x="187" y="313" width="9" height="9" fill="#593d99"/>
<rect x="195" y="313" width="8" height="9" fill="#36329b"/>
<rect x="202" y="313" width="8" height="9" fill="#263186"/>
<rect x="209" y="313" width="8" height="9" fill="#163071"/>
<rect x="216" y="313" width="9" height="8" fill="#243184"/>
<rect x="224" y="312" width="8" height="9" fill="#34329a"/>
<rect x="231" y="312" width="8" height="9" fill="#48389a"/>
<rect x="238" y="312" width="8" height="9" fill="#5c3e99"/>
<rect x="245" y="312" width="9" height="9" fill="#704693"/>
<rect x="253" y="312" width="8" height="9" fill="#834f8e"/>
<rect x="260" y="311" width="8" height="9" fill="#8e538b"/>
<rect x="267" y="311" width="8" height="9" fill="#985789"/>
<rect x="274" y="311" width="9" height="9" fill="#8b528c"/>
<rect x="282" y="311" width="8" height="9" fill="#7b4c90"/>
<rect x="289" y="311" width="8" height="9" fill="#6d4594"/>
<rect x="296" y="311" width="8" height="8" fill="#604098"/>
<rect x="303" y="310" width="9" height="9" fill="#543b99"/>
<rect x="311" y="310" width="8" height="9" fill="#48389a"/>
<rect x="318" y="310" width="8" height="9" fill="#3f359b"/>
<rect x="325" y="310" width="8" height="9" fill="#37329b"/>
<rect x="332" y="310" width="8" height="9" fill="#1e317c"/>
<rect x="108" y="323" width="8" height="9" fill="#a05a86"/>
<rect x="115" y="323" width="8" height="9" fill="#9c5887"/>
<rect x="122" y="323" width="9" height="9" fill="#995788"/>
<rect x="130" y="323" width="8" height="9" fill="#90548a"/>
<rect x="137" y="323" width="8" height="8" fill="#88518d"/>
<rect x="144" y="322" width="8" height="9" fill="#844f8d"/>
<rect x="151" y="322" width="9" height="9" fill="#814e8e"/>
<rect x="159" y="322" width="8" height="9" fill="#844f8d"/>
<rect x="166" y="322" width="8" height="9" fill="#87518d"/>
<rect x="173" y="322" width="8" height="9" fill="#834f8e"/>
<rect x="180" y="321" width="9" height="9" fill="#7e4d8f"/>
<rect x="188" y="321" width="8" height="9" fill="#624097"/>
<rect x="195" y="321" width="8" height="9" fill="#41369a"/>
<rect x="202" y="321" width="8" height="9" fill="#2c328f"/>
<rect x="209" y="321" width="9" height="8" fill="#183174"/>
<rect x="217" y="320" width="8" height="9" fill="#1f317c"/>
<rect x="224" y="320" width="8" height="9" fill="#273188"/>
<rect x="231" y="320" width="8" height="9" fill="#3a339b"/>
<rect x="238" y="320" width="9" height="9" fill="#4e399a"/>
<rect x="246" y="320" width="8" height="9" fill="#664296"/>
<rect x="253" y="320" width="8" height="8" fill="#7c4c90"/>
<rect x="260" y="319" width="8" height="9" fill="#86508d"/>
<rect x="267" y="319" width="9" height="9" fill="#8f538b"/>
<rect x="275" y="319" width="8" height="9" fill="#824f8e"/>
<rect x="282" y="319" width="8" height="9" fill="#724893"/>
<rect x="289" y="319" width="8" height="8" fill="#644197"/>
<rect x="296" y="318" width="9" height="9" fill="#553b99"/>
<rect x="304" y="318" width="8" height="9" fill="#49389a"/>
<rect x="311" y="318" width="8" height="9" fill="#3f359a"/>
<rect x="318" y="318" width="8" height="9" fill="#37339b"/>
<rect x="325" y="318" width="8" height="9" fill="#2f3293"/>
<rect x="332" y="318" width="8" height="9" fill="#183174"/>
<rect x="108" y="331" width="8" height="9" fill="#9e5987"/>
<rect x="115" y="331" width="9" height="9" fill="#9e5987"/>
<rect x="123" y="331" width="8" height="9" fill="#9e5987"/>
<rect x="130" y="331" width="8" height="8" fill="#9b5888"/>
<rect x="137" y="330" width="8" height="9" fill="#985789"/>
<rect x="144" y="330" width="9" height="9" fill="#945589"/>
<rect x="152" y="330" width="8" height="9" fill="#91548a"/>
<rect x="159" y="330" width="8" height="9" fill="#91548a"/>
<rect x="166" y="330" width="8" height="9" fill="#91548a"/>
<rect x="173" y="330" width="9" height="8" fill="#8b528c"/>
<rect x="181" y="329" width="8" height="9" fill="#844f8d"/>
<rect x="188" y="329" width="8" height="9" fill="#6a4495"/>
<rect x="195" y="329" width="8" height="9" fill="#4b399a"/>
<rect x="202" y="329" width="9" height="9" fill="#333298"/>
<rect x="210" y="328" width="8" height="9" fill="#1b3177"/>
<rect x="217" y="328" width="8" height="9" fill="#193175"/>
<rect x="224" y="328" width="8" height="9" fill="#193175"/>
<rect x="231" y="328" width="9" height="9" fill="#2b328e"/>
<rect x="239" y="328" width="8" height="9" fill="#3f359a"/>
<rect x="246" y="328" width="8" height="8" fill="#5c3e99"/>
<rect x="253" y="327" width="8" height="9" fill="#754992"/>
<rect x="260" y="327" width="8" height="9" fill="#7f4d8f"/>
<rect x="267" y="327" width="9" height="9" fill="#87508d"/>
<rect x="275" y="327" width="8" height="9" fill="#7a4b90"/>
<rect x="282" y="327" width="8" height="8" fill="#6a4495"/>
<rect x="289" y="326" width="8" height="9" fill="#5a3d99"/>
<rect x="296" y="326" width="9" height="9" fill="#48389a"/>
<rect x="304" y="326" width="8" height="9" fill="#3f359b"/>
<rect x="311" y="326" width="8" height="9" fill="#37329b"/>
<rect x="318" y="326" width="8" height="9" fill="#2f3292"/>
<rect x="325" y="326" width="9" height="9" fill="#273187"/>
<rect x="333" y="326" width="8" height="9" fill="#12306b"/>
<rect x="340" y="326" width="7" height="8" fill="#082a4d"/>
<rect x="108" y="339" width="9" height="9" fill="#9e5987"/>
<rect x="116" y="339" width="8" height="8" fill="#9e5987"/>
<rect x="123" y="339" width="8" height="8" fill="#9e5987"/>
<rect x="130" y="338" width="8" height="9" fill="#9c5888"/>
<rect x="137" y="338" width="9" height="9" fill="#995788"/>
<rect x="145" y="338" width="8" height="9" fill="#945589"/>
<rect x="152" y="338" width="8" height="9" fill="#90548b"/>
<rect x="159" y="338" width="8" height="9" fill="#88518d"/>
<rect x="166" y="338" width="9" height="8" fill="#714793"/>
<rect x="174" y="337" width="8" height="9" fill="#604098"/>
<rect x="181" y="337" width="8" height="9" fill="#644197"/>
<rect x="188" y="337" width="8" height="9" fill="#5d3e99"/>
<rect x="195" y="337" width="8" height="9" fill="#3c349b"/>
<rect x="202" y="337" width="9" height="8" fill="#2a318c"/>
<rect x="210" y="336" width="8" height="9" fill="#183174"/>
<rect x="217" y="336" width="8" height="9" fill="#173072"/>
<rect x="224" y="336" width="8" height="9" fill="#173072"/>
<rect x="231" y="336" width="9" height="9" fill="#29318b"/>
<rect x="239" y="336" width="8" height="8" fill="#3d349b"/>
<rect x="246" y="335" width="8" height="9" fill="#5c3e99"/>
<rect x="253" y="335" width="8" height="9" fill="#774a91"/>
<rect x="260" y="335" width="9" height="9" fill="#814e8e"/>
<rect x="268" y="335" width="8" height="9" fill="#88518c"/>
<rect x="275" y="335" width="8" height="8" fill="#794b91"/>
<rect x="282" y="334" width="8" height="9" fill="#654297"/>
<rect x="289" y="334" width="9" height="9" fill="#533b99"/>
<rect x="297" y="334" width="8" height="9" fill="#40359a"/>
<rect x="304" y="334" width="8" height="9" fill="#323296"/>
<rect x="311" y="334" width="8" height="9" fill="#243183"/>
<rect x="318" y="334" width="9" height="9" fill="#1a3175"/>
<rect x="326" y="334" width="8" height="9" fill="#103069"/>
<rect x="333" y="334" width="8" height="8" fill="#0a2d58"/>
<rect x="340" y="333" width="7" height="9" fill="#072845"/>
<rect x="109" y="347" width="8" height="7" fill="#9e5987"/>
<rect x="116" y="346" width="8" height="8" fill="#9e5987"/>
<rect x="123" y="346" width="8" height="8" fill="#9e5987"/>
<rect x="130" y="346" width="9" height="8" fill="#9c5887"/>
<rect x="138" y="346" width="8" height="8" fill="#9b5888"/>
<rect x="145" y="346" width="8" height="8" fill="#945589"/>
<rect x="152" y="346" width="8" height="8" fill="#8e538b"/>
<rect x="159" y="346" width="8" height="7" fill="#5d3e99"/>
<rect x="166" y="345" width="9" height="8" fill="#062742"/>
<rect x="174" y="345" width="8" height="8" fill="#062742"/>
<rect x="181" y="345" width="8" height="8" fill="#092b50"/>
<rect x="188" y="345" width="8" height="8" fill="#253185"/>
<rect x="195" y="345" width="9" height="7" fill="#2e3292"/>
<rect x="203" y="344" width="8" height="8" fill="#223181"/>
<rect x="210" y="344" width="8" height="8" fill="#163070"/>
<rect x="217" y="344" width="8" height="8" fill="#15306f"/>
<rect x="224" y="344" width="9" height="8" fill="#15306f"/>
<rect x="232" y="344" width="8" height="8" fill="#273188"/>
<rect x="239" y="343" width="8" height="8" fill="#3b349b"/>
<rect x="246" y="343" width="8" height="8" fill="#5d3e99"/>
<rect x="253" y="343" width="9" height="8" fill="#7a4b90"/>
<rect x="261" y="343" width="8" height="8" fill="#844f8e"/>
<rect x="268" y="343" width="8" height="8" fill="#8a518c"/>
<rect x="275" y="342" width="8" height="8" fill="#784a91"/>
<rect x="282" y="342" width="8" height="8" fill="#614098"/>
<rect x="289" y="342" width="9" height="8" fill="#4c399a"/>
<rect x="297" y="342" width="8" height="8" fill="#38339b"/>
<rect x="304" y="342" width="8" height="8" fill="#253185"/>
<rect x="311" y="342" width="8" height="8" fill="#113069"/>
<rect x="318" y="342" width="9" height="7" fill="#0b2d5a"/>
<rect x="326" y="342" width="8" height="7" fill="#092a4e"/>
<rect x="333" y="341" width="8" height="8" fill="#072846"/>
<rect x="340" y="341" width="7" height="8" fill="#05263e"/>
</g>
<g><path d="M103.1 61.0 103.9 60.7 103.8 61.6 107.1 58.8 102.8 59.3 103.5 59.9 102.8 60.2 z" fill="#6da4cc"/><path d="M110.3 60.9 111.3 60.5 111.2 61.4 114.4 58.6 110.2 59.1 110.9 59.7 110.0 60.2 z" fill="#70a9cf"/><path d="M117.5 60.8 118.7 60.3 118.6 61.2 121.8 58.3 117.6 59.0 118.3 59.5 117.1 60.1 z" fill="#74add1"/><path d="M124.7 60.7 126.1 60.1 126.1 61.0 129.2 58.1 125.0 58.8 125.7 59.3 124.3 60.0 z" fill="#78b0d3"/><path d="M131.9 60.7 133.5 59.9 133.5 60.8 136.6 57.9 132.4 58.6 133.1 59.1 131.5 59.9 z" fill="#7ab2d4"/><path d="M139.6 60.4 140.4 59.9 140.4 60.8 143.5 57.9 139.3 58.7 140.0 59.2 139.2 59.6 z" fill="#6ea6ce"/><path d="M147.3 60.0 147.6 59.9 147.6 60.7 150.4 57.9 146.5 58.7 147.2 59.2 146.9 59.4 z" fill="#6297c6"/><path d="M155.0 59.7 155.2 59.5 155.3 60.1 157.2 57.8 154.3 58.7 154.9 59.0 154.6 59.2 z" fill="#5588be"/><path d="M162.7 59.3 162.8 59.2 162.9 59.6 164.1 57.8 162.1 58.7 162.5 58.8 162.4 59.0 z" fill="#4a7ab7"/><path d="M170.0 59.1 170.2 59.0 170.2 59.4 171.3 57.7 169.5 58.5 169.9 58.7 169.7 58.8 z" fill="#4878b6"/><path d="M177.4 58.9 177.5 58.8 177.6 59.2 178.5 57.6 176.9 58.4 177.2 58.5 177.1 58.6 z" fill="#4676b5"/><path d="M184.7 58.7 184.8 58.6 184.9 58.9 185.7 57.5 184.2 58.2 184.5 58.3 184.4 58.4 z" fill="#4574b3"/><path d="M192.1 58.6 192.2 58.5 192.2 58.7 193.0 57.3 191.6 58.1 191.9 58.1 191.7 58.2 z" fill="#4471b2"/><path d="M199.0 58.7 199.2 58.6 199.3 59.1 200.6 56.9 198.3 58.0 198.8 58.2 198.7 58.4 z" fill="#4f81ba"/><path d="M205.9 59.0 206.2 58.7 206.4 59.5 208.3 56.4 205.0 57.9 205.7 58.2 205.5 58.4 z" fill="#5e93c3"/><path d="M212.9 59.2 213.4 58.7 213.7 59.6 216.0 56.0 212.1 57.7 212.9 58.1 212.3 58.5 z" fill="#6ba2cb"/><path d="M219.8 59.3 221.1 58.2 221.3 59.1 223.7 55.5 219.7 57.2 220.6 57.6 219.2 58.7 z" fill="#7ab2d4"/><path d="M226.9 59.3 228.5 57.9 228.8 58.8 231.1 55.2 227.2 56.9 228.0 57.3 226.4 58.7 z" fill="#81b7d7"/><path d="M234.0 59.3 236.0 57.6 236.2 58.5 238.5 55.0 234.6 56.6 235.5 57.0 233.5 58.6 z" fill="#87bdd9"/><path d="M241.2 59.2 243.4 57.4 243.6 58.3 246.0 54.7 242.0 56.4 242.9 56.7 240.6 58.6 z" fill="#92c5de"/><path d="M248.3 59.2 250.8 57.1 251.1 58.0 253.4 54.4 249.5 56.1 250.3 56.5 247.8 58.6 z" fill="#a3d3e6"/><path d="M255.9 58.9 257.9 57.2 258.1 58.1 260.4 54.4 256.5 56.2 257.3 56.5 255.4 58.2 z" fill="#8abeda"/><path d="M263.5 58.5 264.9 57.3 265.1 58.1 267.4 54.5 263.5 56.3 264.3 56.7 263.0 57.9 z" fill="#7db4d5"/><path d="M271.1 58.1 271.9 57.4 272.2 58.3 274.3 54.6 270.5 56.5 271.4 56.8 270.6 57.5 z" fill="#70a9cf"/><path d="M278.7 57.8 279.0 57.5 279.3 58.3 281.3 54.6 277.6 56.6 278.4 56.9 278.2 57.2 z" fill="#659bc8"/><path d="M286.8 56.9 286.9 56.7 287.1 57.1 287.7 55.0 286.1 56.5 286.5 56.5 286.4 56.7 z" fill="#4b7db8"/><path d="M294.6 56.4 294.6 56.2 294.7 56.4 294.6 55.2 294.0 56.3 294.1 56.2 294.1 56.3 z" fill="#416aaf"/><circle cx="301.7" cy="55.6" r="0.48" fill="#4167ad"/><circle cx="309.0" cy="55.4" r="0.48" fill="#4167ad"/><circle cx="316.3" cy="55.3" r="0.48" fill="#4167ad"/><circle cx="323.6" cy="55.1" r="0.48" fill="#4167ad"/><circle cx="330.9" cy="55.0" r="0.48" fill="#4167ad"/><circle cx="338.2" cy="54.8" r="0.48" fill="#4167ad"/><circle cx="345.5" cy="54.7" r="0.48" fill="#4167ad"/><circle cx="352.7" cy="54.5" r="0.48" fill="#4167ad"/><circle cx="360.0" cy="54.4" r="0.48" fill="#4167ad"/><circle cx="367.3" cy="54.2" r="0.48" fill="#4065ac"/><circle cx="374.6" cy="54.1" r="0.48" fill="#4065ac"/><circle cx="381.9" cy="53.9" r="0.48" fill="#4065ac"/><circle cx="389.2" cy="53.8" r="0.48" fill="#4065ac"/><circle cx="396.5" cy="53.6" r="0.48" fill="#4065ac"/><circle cx="403.7" cy="53.5" r="0.48" fill="#4065ac"/><circle cx="411.0" cy="53.3" r="0.48" fill="#4065ac"/><path d="M103.2 68.7 104.1 68.3 104.1 69.2 107.3 66.4 103.0 67.0 103.8 67.5 102.9 67.9 z" fill="#6ea6ce"/><path d="M110.4 68.6 111.5 68.1 111.5 69.0 114.7 66.2 110.4 66.8 111.2 67.4 110.1 67.8 z" fill="#72abd0"/><path d="M117.6 68.5 118.9 67.9 118.9 68.8 122.1 66.0 117.8 66.6 118.6 67.2 117.3 67.8 z" fill="#76afd2"/><path d="M124.8 68.4 126.3 67.7 126.3 68.6 129.5 65.7 125.2 66.4 126.0 67.0 124.4 67.7 z" fill="#78b0d3"/><path d="M132.0 68.4 133.7 67.5 133.7 68.4 136.8 65.5 132.6 66.2 133.4 66.8 131.6 67.6 z" fill="#7db4d5"/><path d="M139.7 68.1 140.6 67.6 140.6 68.5 143.7 65.5 139.5 66.3 140.3 66.9 139.3 67.3 z" fill="#70a9cf"/><path d="M147.4 67.7 147.8 67.5 147.8 68.4 150.6 65.5 146.7 66.4 147.4 66.9 147.0 67.1 z" fill="#6399c7"/><path d="M155.1 67.3 155.4 67.2 155.4 67.8 157.4 65.5 154.5 66.4 155.0 66.7 154.8 66.9 z" fill="#578abf"/><path d="M162.8 67.0 163.0 66.9 163.1 67.3 164.3 65.5 162.3 66.3 162.7 66.5 162.5 66.6 z" fill="#4a7ab7"/><path d="M170.2 66.8 170.3 66.7 170.4 67.1 171.5 65.4 169.7 66.2 170.0 66.3 169.9 66.5 z" fill="#4878b6"/><path d="M177.5 66.6 177.7 66.5 177.7 66.8 178.7 65.3 177.0 66.1 177.4 66.2 177.2 66.3 z" fill="#4676b5"/><path d="M184.9 66.4 185.0 66.3 185.1 66.6 185.9 65.2 184.4 65.9 184.7 66.0 184.6 66.1 z" fill="#4574b3"/><path d="M192.2 66.3 192.3 66.2 192.4 66.4 193.2 65.1 191.8 65.8 192.0 65.8 191.9 65.9 z" fill="#4471b2"/><path d="M199.1 66.4 199.3 66.3 199.5 66.8 200.9 64.6 198.5 65.7 199.0 65.9 198.8 66.1 z" fill="#5183bb"/><path d="M206.0 66.7 206.3 66.5 206.5 67.3 208.6 64.2 205.1 65.6 205.9 65.9 205.6 66.2 z" fill="#6095c4"/><path d="M212.9 66.9 213.7 66.3 213.9 67.2 216.3 63.7 212.3 65.3 213.2 65.7 212.4 66.3 z" fill="#6ea6ce"/><path d="M219.8 67.1 221.4 65.8 221.6 66.7 224.0 63.2 220.0 64.8 220.8 65.2 219.3 66.5 z" fill="#7fb6d6"/><path d="M226.9 67.1 228.8 65.6 229.0 66.5 231.4 63.0 227.4 64.6 228.3 64.9 226.4 66.4 z" fill="#85bbd9"/><path d="M234.1 67.0 236.2 65.3 236.4 66.2 238.8 62.7 234.9 64.3 235.7 64.7 233.6 66.4 z" fill="#8abeda"/><path d="M241.3 67.0 243.6 65.1 243.8 66.0 246.2 62.5 242.3 64.1 243.1 64.5 240.8 66.3 z" fill="#97c9e0"/><path d="M248.4 66.9 251.0 64.8 251.2 65.7 253.7 62.2 249.7 63.8 250.5 64.2 247.9 66.3 z" fill="#a6d5e7"/><path d="M256.0 66.6 258.1 64.9 258.3 65.8 260.7 62.3 256.7 63.9 257.5 64.3 255.5 66.0 z" fill="#8abeda"/><path d="M263.6 66.2 265.1 65.0 265.3 65.9 267.6 62.3 263.7 64.0 264.5 64.4 263.1 65.6 z" fill="#7db4d5"/><path d="M271.2 65.9 272.1 65.1 272.3 66.0 274.6 62.4 270.7 64.1 271.6 64.5 270.7 65.3 z" fill="#72abd0"/><path d="M278.8 65.5 279.1 65.2 279.4 66.1 281.6 62.4 277.7 64.3 278.6 64.6 278.2 64.9 z" fill="#679ec9"/><path d="M286.9 64.7 287.0 64.5 287.2 65.0 288.0 62.8 286.1 64.2 286.6 64.3 286.5 64.5 z" fill="#4b7db8"/><path d="M294.7 64.2 294.7 64.1 294.8 64.2 294.8 63.0 294.1 64.0 294.3 63.9 294.2 64.0 z" fill="#416aaf"/><circle cx="301.9" cy="63.4" r="0.48" fill="#4167ad"/><circle cx="309.2" cy="63.2" r="0.48" fill="#4167ad"/><circle cx="316.5" cy="63.1" r="0.48" fill="#4167ad"/><circle cx="323.8" cy="63.0" r="0.48" fill="#4167ad"/><circle cx="331.1" cy="62.8" r="0.48" fill="#4167ad"/><circle cx="338.3" cy="62.7" r="0.48" fill="#4167ad"/><circle cx="345.6" cy="62.5" r="0.48" fill="#4167ad"/><circle cx="352.9" cy="62.4" r="0.48" fill="#4167ad"/><circle cx="360.2" cy="62.2" r="0.48" fill="#4167ad"/><circle cx="367.5" cy="62.1" r="0.48" fill="#4065ac"/><circle cx="374.8" cy="61.9" r="0.48" fill="#4065ac"/><circle cx="382.1" cy="61.8" r="0.48" fill="#4065ac"/><circle cx="389.4" cy="61.6" r="0.48" fill="#4065ac"/><circle cx="396.6" cy="61.5" r="0.48" fill="#4065ac"/><circle cx="403.9" cy="61.3" r="0.48" fill="#4065ac"/><circle cx="411.2" cy="61.2" r="0.48" fill="#4065ac"/><path d="M103.4 76.3 104.3 75.9 104.3 76.8 107.5 74.0 103.3 74.6 104.0 75.2 103.0 75.6 z" fill="#70a9cf"/><path d="M110.6 76.3 111.7 75.7 111.7 76.6 114.9 73.8 110.7 74.4 111.4 75.0 110.2 75.5 z" fill="#74add1"/><path d="M117.7 76.2 119.1 75.5 119.1 76.4 122.3 73.6 118.1 74.2 118.8 74.8 117.4 75.5 z" fill="#78b0d3"/><path d="M124.9 76.1 126.5 75.3 126.5 76.3 129.7 73.4 125.5 74.1 126.2 74.6 124.6 75.4 z" fill="#7ab2d4"/><path d="M132.1 76.1 134.0 75.2 134.0 76.1 137.1 73.1 132.9 73.9 133.6 74.4 131.8 75.3 z" fill="#7fb6d6"/><path d="M139.8 75.8 140.9 75.2 140.9 76.1 143.9 73.2 139.7 74.0 140.5 74.5 139.5 75.0 z" fill="#70a9cf"/><path d="M147.6 75.4 147.9 75.2 148.0 76.1 150.8 73.2 146.8 74.1 147.5 74.6 147.2 74.8 z" fill="#6399c7"/><path d="M155.3 75.0 155.5 74.9 155.6 75.5 157.6 73.2 154.6 74.0 155.2 74.4 155.0 74.5 z" fill="#578abf"/><path d="M163.0 74.7 163.1 74.5 163.2 75.0 164.5 73.2 162.5 74.0 162.9 74.2 162.7 74.3 z" fill="#4a7ab7"/><path d="M170.3 74.5 170.5 74.4 170.6 74.7 171.7 73.1 169.9 73.9 170.2 74.0 170.1 74.1 z" fill="#4878b6"/><path d="M177.7 74.3 177.8 74.2 177.9 74.5 178.9 73.0 177.2 73.7 177.5 73.9 177.4 74.0 z" fill="#4676b5"/><path d="M185.0 74.1 185.2 74.0 185.2 74.3 186.1 72.9 184.6 73.6 184.9 73.7 184.8 73.8 z" fill="#4574b3"/><path d="M192.4 74.0 192.5 73.9 192.5 74.1 193.4 72.8 191.9 73.5 192.2 73.5 192.1 73.6 z" fill="#4471b2"/><path d="M199.3 74.2 199.5 74.0 199.6 74.6 201.1 72.3 198.6 73.4 199.1 73.6 198.9 73.8 z" fill="#5183bb"/><path d="M206.2 74.5 206.4 74.2 206.6 75.0 208.8 71.9 205.2 73.3 206.0 73.6 205.7 73.9 z" fill="#6297c6"/><path d="M213.0 74.7 213.9 74.0 214.1 74.9 216.6 71.4 212.6 72.9 213.4 73.3 212.5 74.0 z" fill="#70a9cf"/><path d="M219.8 74.9 221.6 73.5 221.8 74.4 224.3 70.9 220.3 72.4 221.1 72.8 219.3 74.2 z" fill="#83b9d8"/><path d="M227.0 74.8 229.0 73.3 229.2 74.2 231.7 70.7 227.7 72.2 228.5 72.6 226.5 74.2 z" fill="#87bdd9"/><path d="M234.2 74.8 236.4 73.0 236.6 73.9 239.1 70.5 235.1 72.0 235.9 72.4 233.7 74.1 z" fill="#8ec2dc"/><path d="M241.4 74.7 243.8 72.8 244.0 73.7 246.5 70.3 242.5 71.8 243.3 72.2 240.9 74.1 z" fill="#9bcce2"/><path d="M248.5 74.7 251.2 72.6 251.4 73.5 253.9 70.0 249.9 71.5 250.7 71.9 248.0 74.0 z" fill="#aad8e9"/><path d="M256.1 74.3 258.3 72.7 258.4 73.6 260.9 70.1 256.9 71.6 257.8 72.0 255.6 73.7 z" fill="#8cc0db"/><path d="M263.7 74.0 265.3 72.7 265.4 73.6 267.9 70.1 263.9 71.7 264.8 72.1 263.2 73.3 z" fill="#7fb6d6"/><path d="M271.3 73.6 272.3 72.8 272.5 73.7 274.9 70.2 270.9 71.8 271.8 72.2 270.7 73.0 z" fill="#74add1"/><path d="M278.8 73.3 279.3 72.9 279.5 73.8 281.9 70.3 277.9 71.9 278.8 72.3 278.3 72.7 z" fill="#69a0ca"/><path d="M286.9 72.5 287.1 72.4 287.3 72.8 288.3 70.6 286.2 71.9 286.7 72.1 286.6 72.2 z" fill="#4d7fb9"/><path d="M294.8 72.0 294.8 71.9 294.9 72.0 295.1 70.8 294.2 71.7 294.4 71.7 294.4 71.8 z" fill="#426cb0"/><circle cx="302.1" cy="71.2" r="0.48" fill="#4167ad"/><circle cx="309.4" cy="71.1" r="0.48" fill="#4065ac"/><circle cx="316.7" cy="70.9" r="0.48" fill="#4065ac"/><circle cx="324.0" cy="70.8" r="0.48" fill="#4065ac"/><circle cx="331.2" cy="70.6" r="0.48" fill="#4065ac"/><circle cx="338.5" cy="70.5" r="0.48" fill="#4065ac"/><circle cx="345.8" cy="70.4" r="0.48" fill="#4065ac"/><circle cx="353.1" cy="70.2" r="0.48" fill="#4167ad"/><circle cx="360.4" cy="70.1" r="0.48" fill="#4167ad"/><circle cx="367.7" cy="69.9" r="0.48" fill="#4065ac"/><circle cx="375.0" cy="69.8" r="0.48" fill="#4065ac"/><circle cx="382.3" cy="69.7" r="0.48" fill="#4065ac"/><circle cx="389.5" cy="69.5" r="0.48" fill="#4065ac"/><circle cx="396.8" cy="69.4" r="0.48" fill="#4065ac"/><circle cx="404.1" cy="69.2" r="0.48" fill="#4065ac"/><path d="M410.8 70.5 411.0 70.2 411.3 70.8 412.3 67.9 409.8 69.8 410.5 69.9 410.3 70.1 z" fill="#578abf"/><path d="M103.5 84.0 104.6 83.5 104.5 84.4 107.8 81.6 103.5 82.2 104.2 82.8 103.2 83.3 z" fill="#72abd0"/><path d="M110.7 84.0 112.0 83.3 112.0 84.3 115.1 81.4 110.9 82.0 111.6 82.6 110.3 83.2 z" fill="#76afd2"/><path d="M117.9 83.9 119.4 83.2 119.4 84.1 122.5 81.2 118.3 81.9 119.0 82.4 117.5 83.2 z" fill="#78b0d3"/><path d="M125.1 83.8 126.8 83.0 126.8 83.9 129.9 81.0 125.7 81.7 126.4 82.2 124.7 83.1 z" fill="#7db4d5"/><path d="M132.3 83.8 134.2 82.8 134.2 83.7 137.3 80.8 133.1 81.5 133.8 82.1 131.9 83.0 z" fill="#81b7d7"/><path d="M140.0 83.5 141.1 82.9 141.1 83.8 144.2 80.8 140.0 81.6 140.7 82.2 139.6 82.7 z" fill="#72abd0"/><path d="M147.7 83.1 148.1 82.9 148.1 83.8 151.0 80.9 146.9 81.7 147.7 82.2 147.3 82.4 z" fill="#659bc8"/><path d="M155.4 82.7 155.7 82.6 155.7 83.2 157.8 80.9 154.8 81.7 155.4 82.1 155.1 82.2 z" fill="#578abf"/><path d="M163.1 82.3 163.3 82.2 163.4 82.6 164.7 81.0 162.6 81.7 163.0 81.8 162.9 82.0 z" fill="#4a7ab7"/><path d="M170.5 82.2 170.7 82.0 170.7 82.4 171.9 80.8 170.0 81.5 170.4 81.7 170.2 81.8 z" fill="#4878b6"/><path d="M177.9 82.0 178.0 81.9 178.0 82.2 179.1 80.7 177.4 81.4 177.7 81.5 177.6 81.6 z" fill="#4676b5"/><path d="M185.2 81.8 185.3 81.7 185.4 82.0 186.3 80.6 184.8 81.3 185.0 81.4 184.9 81.5 z" fill="#4574b3"/><path d="M192.6 81.7 192.7 81.6 192.7 81.8 193.5 80.5 192.1 81.2 192.4 81.2 192.3 81.3 z" fill="#4471b2"/><path d="M199.4 81.9 199.6 81.7 199.7 82.3 201.3 80.1 198.7 81.1 199.3 81.3 199.1 81.5 z" fill="#5183bb"/><path d="M206.3 82.2 206.6 82.0 206.7 82.8 209.1 79.6 205.3 81.0 206.1 81.4 205.8 81.6 z" fill="#6399c7"/><path d="M213.1 82.4 214.1 81.6 214.3 82.6 216.9 79.1 212.8 80.6 213.6 81.0 212.6 81.8 z" fill="#74add1"/><path d="M219.9 82.6 221.9 81.2 222.0 82.1 224.6 78.7 220.6 80.1 221.4 80.5 219.4 82.0 z" fill="#87bdd9"/><path d="M227.0 82.6 229.3 80.9 229.4 81.8 232.0 78.4 228.0 79.9 228.8 80.3 226.6 81.9 z" fill="#8cc0db"/><path d="M234.2 82.5 236.7 80.7 236.8 81.6 239.4 78.2 235.4 79.7 236.2 80.1 233.8 81.9 z" fill="#97c9e0"/><path d="M241.4 82.4 244.0 80.5 244.2 81.5 246.8 78.0 242.7 79.5 243.6 79.9 241.0 81.8 z" fill="#a1d1e5"/><path d="M248.6 82.4 251.4 80.3 251.6 81.3 254.2 77.8 250.1 79.3 250.9 79.7 248.2 81.7 z" fill="#acdae9"/><path d="M256.2 82.1 258.4 80.4 258.6 81.3 261.2 77.9 257.1 79.3 258.0 79.7 255.7 81.4 z" fill="#8cc0db"/><path d="M263.8 81.7 265.5 80.5 265.6 81.4 268.2 78.0 264.2 79.4 265.0 79.8 263.3 81.1 z" fill="#81b7d7"/><path d="M271.3 81.4 272.5 80.6 272.6 81.5 275.2 78.0 271.2 79.5 272.0 79.9 270.8 80.7 z" fill="#76afd2"/><path d="M278.9 81.1 279.5 80.6 279.7 81.5 282.2 78.1 278.2 79.6 279.0 80.0 278.4 80.4 z" fill="#6ba2cb"/><path d="M287.0 80.4 287.2 80.2 287.4 80.7 288.6 78.4 286.3 79.7 286.8 79.8 286.7 80.0 z" fill="#4f81ba"/><path d="M294.9 79.8 294.9 79.7 295.0 79.9 295.3 78.6 294.3 79.5 294.5 79.5 294.5 79.6 z" fill="#426cb0"/><circle cx="302.3" cy="79.0" r="0.48" fill="#4167ad"/><circle cx="309.6" cy="78.9" r="0.48" fill="#4065ac"/><circle cx="316.9" cy="78.7" r="0.48" fill="#4065ac"/><circle cx="324.1" cy="78.6" r="0.48" fill="#4065ac"/><circle cx="331.4" cy="78.5" r="0.48" fill="#4065ac"/><circle cx="338.7" cy="78.3" r="0.48" fill="#4065ac"/><circle cx="346.0" cy="78.2" r="0.48" fill="#4065ac"/><circle cx="353.3" cy="78.1" r="0.48" fill="#4167ad"/><circle cx="360.6" cy="77.9" r="0.48" fill="#4167ad"/><circle cx="367.9" cy="77.8" r="0.48" fill="#4065ac"/><circle cx="375.2" cy="77.7" r="0.48" fill="#4065ac"/><circle cx="382.4" cy="77.5" r="0.48" fill="#4065ac"/><circle cx="389.7" cy="77.4" r="0.48" fill="#4065ac"/><circle cx="397.0" cy="77.3" r="0.48" fill="#4065ac"/><path d="M403.7 78.5 403.9 78.3 404.2 78.9 405.2 75.9 402.7 77.8 403.4 77.9 403.2 78.2 z" fill="#578abf"/><path d="M410.8 78.8 411.0 78.5 411.4 79.2 412.7 75.4 409.5 77.9 410.4 78.0 410.2 78.4 z" fill="#6399c7"/><path d="M103.6 91.7 104.8 91.1 104.8 92.1 108.0 89.2 103.7 89.8 104.5 90.4 103.3 90.9 z" fill="#74add1"/><path d="M110.8 91.6 112.2 91.0 112.2 91.9 115.4 89.0 111.1 89.7 111.9 90.2 110.5 90.9 z" fill="#78b0d3"/><path d="M118.0 91.6 119.6 90.8 119.6 91.7 122.8 88.8 118.5 89.5 119.3 90.1 117.6 90.8 z" fill="#7ab2d4"/><path d="M125.2 91.5 127.0 90.6 127.0 91.5 130.1 88.6 125.9 89.3 126.7 89.9 124.8 90.8 z" fill="#7fb6d6"/><path d="M132.4 91.5 134.4 90.4 134.4 91.3 137.5 88.4 133.3 89.2 134.1 89.7 132.0 90.7 z" fill="#83b9d8"/><path d="M140.1 91.2 141.3 90.5 141.3 91.4 144.4 88.4 140.2 89.3 140.9 89.8 139.7 90.4 z" fill="#74add1"/><path d="M147.9 90.8 148.2 90.6 148.3 91.5 151.2 88.5 147.1 89.4 147.8 89.9 147.5 90.1 z" fill="#659bc8"/><path d="M155.6 90.4 155.8 90.2 155.9 90.9 158.0 88.6 155.0 89.4 155.5 89.7 155.3 89.9 z" fill="#588cc0"/><path d="M163.3 90.0 163.5 89.9 163.5 90.3 164.9 88.7 162.8 89.3 163.2 89.5 163.0 89.6 z" fill="#4a7ab7"/><path d="M170.7 89.8 170.8 89.7 170.9 90.1 172.1 88.6 170.2 89.2 170.6 89.4 170.4 89.5 z" fill="#4878b6"/><path d="M178.0 89.7 178.2 89.6 178.2 89.9 179.3 88.5 177.6 89.1 177.9 89.2 177.8 89.3 z" fill="#4676b5"/><path d="M185.4 89.5 185.5 89.4 185.5 89.7 186.5 88.4 184.9 89.0 185.2 89.1 185.1 89.2 z" fill="#4574b3"/><path d="M192.7 89.4 192.8 89.3 192.9 89.6 193.7 88.2 192.3 88.9 192.6 88.9 192.4 89.0 z" fill="#4471b2"/><path d="M199.5 89.6 199.8 89.5 199.9 90.1 201.5 87.8 198.9 88.8 199.4 89.0 199.2 89.2 z" fill="#5385bd"/><path d="M206.4 89.9 206.7 89.7 206.8 90.6 209.3 87.3 205.5 88.7 206.2 89.1 205.9 89.3 z" fill="#659bc8"/><path d="M213.1 90.2 214.4 89.3 214.5 90.2 217.1 86.8 213.1 88.2 213.9 88.6 212.7 89.5 z" fill="#76afd2"/><path d="M219.9 90.4 222.2 88.8 222.3 89.7 224.9 86.4 220.9 87.7 221.7 88.2 219.4 89.7 z" fill="#8cc0db"/><path d="M227.1 90.3 229.5 88.6 229.7 89.5 232.3 86.2 228.3 87.5 229.1 88.0 226.6 89.7 z" fill="#94c7df"/><path d="M234.3 90.3 236.9 88.5 237.0 89.4 239.7 86.0 235.6 87.3 236.4 87.8 233.8 89.6 z" fill="#9dcee3"/><path d="M241.5 90.2 244.3 88.3 244.4 89.2 247.0 85.8 243.0 87.2 243.8 87.6 241.1 89.5 z" fill="#a6d5e7"/><path d="M248.7 90.1 251.6 88.1 251.7 89.0 254.4 85.7 250.3 87.0 251.1 87.4 248.3 89.4 z" fill="#aedbea"/><path d="M256.3 89.8 258.6 88.2 258.8 89.1 261.4 85.7 257.4 87.0 258.2 87.5 255.8 89.1 z" fill="#90c3dd"/><path d="M263.9 89.5 265.7 88.2 265.8 89.1 268.4 85.8 264.4 87.1 265.2 87.5 263.4 88.8 z" fill="#81b7d7"/><path d="M271.4 89.1 272.7 88.3 272.8 89.2 275.5 85.8 271.4 87.2 272.2 87.6 270.9 88.5 z" fill="#76afd2"/><path d="M279.0 88.8 279.7 88.3 279.8 89.3 282.5 85.9 278.4 87.2 279.2 87.7 278.5 88.2 z" fill="#6da4cc"/><path d="M287.1 88.2 287.3 88.0 287.5 88.5 288.8 86.2 286.4 87.4 287.0 87.6 286.8 87.8 z" fill="#5183bb"/><path d="M295.0 87.6 295.0 87.5 295.1 87.7 295.6 86.4 294.5 87.2 294.7 87.2 294.6 87.3 z" fill="#426cb0"/><circle cx="302.5" cy="86.8" r="0.48" fill="#4167ad"/><circle cx="309.8" cy="86.7" r="0.48" fill="#4065ac"/><circle cx="317.0" cy="86.6" r="0.48" fill="#3f62ab"/><circle cx="324.3" cy="86.4" r="0.48" fill="#3f62ab"/><circle cx="331.6" cy="86.3" r="0.48" fill="#3f62ab"/><circle cx="338.9" cy="86.2" r="0.48" fill="#3f62ab"/><circle cx="346.2" cy="86.0" r="0.48" fill="#4065ac"/><circle cx="353.5" cy="85.9" r="0.48" fill="#4167ad"/><path d="M360.7 86.4 360.8 86.3 360.8 86.4 361.0 85.3 360.3 86.1 360.4 86.1 360.3 86.2 z" fill="#4167ad"/><circle cx="368.1" cy="85.7" r="0.48" fill="#4065ac"/><circle cx="375.3" cy="85.5" r="0.48" fill="#4065ac"/><circle cx="382.6" cy="85.4" r="0.48" fill="#4065ac"/><circle cx="389.9" cy="85.3" r="0.48" fill="#4065ac"/><path d="M396.6 86.6 396.8 86.3 397.1 86.9 398.1 83.9 395.6 85.9 396.3 86.0 396.1 86.2 z" fill="#588cc0"/><path d="M403.7 86.8 403.9 86.5 404.3 87.3 405.6 83.4 402.4 85.9 403.3 86.1 403.1 86.4 z" fill="#6399c7"/><path d="M410.8 87.1 411.3 86.2 411.8 87.0 413.1 83.0 409.8 85.6 410.7 85.8 410.1 86.6 z" fill="#70a9cf"/><path d="M103.8 99.3 105.0 98.8 105.0 99.7 108.2 96.8 103.9 97.5 104.6 98.0 103.5 98.6 z" fill="#74add1"/><path d="M111.0 99.3 112.4 98.6 112.4 99.5 115.5 96.6 111.3 97.3 112.0 97.9 110.7 98.5 z" fill="#76afd2"/><path d="M118.2 99.2 119.8 98.5 119.8 99.4 122.9 96.5 118.7 97.2 119.4 97.7 117.9 98.5 z" fill="#7ab2d4"/><path d="M125.4 99.2 127.2 98.3 127.2 99.2 130.3 96.3 126.1 97.0 126.8 97.6 125.1 98.4 z" fill="#7fb6d6"/><path d="M132.6 99.1 134.6 98.1 134.6 99.0 137.7 96.1 133.4 96.8 134.2 97.4 132.2 98.4 z" fill="#81b7d7"/><path d="M140.4 98.8 141.4 98.2 141.4 99.1 144.5 96.2 140.3 97.0 141.0 97.5 140.0 98.1 z" fill="#72abd0"/><path d="M148.1 98.5 148.4 98.3 148.5 99.1 151.3 96.2 147.3 97.1 148.1 97.6 147.7 97.8 z" fill="#6399c7"/><path d="M155.8 98.0 156.1 97.9 156.1 98.5 158.2 96.3 155.2 97.0 155.8 97.4 155.5 97.5 z" fill="#578abf"/><path d="M163.5 97.6 163.7 97.5 163.7 97.9 165.0 96.4 163.1 97.0 163.4 97.2 163.3 97.3 z" fill="#4878b6"/><path d="M170.9 97.5 171.0 97.4 171.1 97.7 172.2 96.3 170.5 96.9 170.8 97.0 170.6 97.1 z" fill="#4676b5"/><path d="M178.2 97.4 178.4 97.3 178.4 97.6 179.4 96.2 177.8 96.8 178.1 96.9 178.0 97.0 z" fill="#4574b3"/><path d="M185.6 97.2 185.7 97.1 185.7 97.4 186.7 96.1 185.2 96.7 185.4 96.8 185.3 96.9 z" fill="#4471b2"/><path d="M192.9 97.1 193.1 97.0 193.1 97.2 193.9 96.0 192.5 96.6 192.8 96.6 192.7 96.7 z" fill="#436fb1"/><path d="M199.7 97.3 199.9 97.2 200.0 97.7 201.7 95.5 199.1 96.5 199.6 96.7 199.4 96.9 z" fill="#5183bb"/><path d="M206.5 97.6 206.9 97.4 207.0 98.3 209.5 95.1 205.7 96.4 206.4 96.8 206.1 97.0 z" fill="#6399c7"/><path d="M213.3 97.9 214.5 97.0 214.6 97.9 217.3 94.6 213.3 95.9 214.1 96.4 212.8 97.2 z" fill="#76afd2"/><path d="M220.0 98.1 222.3 96.6 222.4 97.5 225.2 94.2 221.1 95.4 221.9 95.9 219.6 97.4 z" fill="#8cc0db"/><path d="M227.2 98.0 229.7 96.4 229.8 97.3 232.5 94.0 228.5 95.2 229.2 95.7 226.8 97.3 z" fill="#94c7df"/><path d="M234.5 97.9 237.1 96.2 237.2 97.1 239.9 93.8 235.8 95.1 236.6 95.5 234.0 97.2 z" fill="#9bcce2"/><path d="M241.7 97.8 244.4 96.0 244.5 97.0 247.3 93.7 243.2 94.9 244.0 95.4 241.2 97.2 z" fill="#a3d3e6"/><path d="M248.9 97.8 251.8 95.9 251.9 96.8 254.6 93.5 250.5 94.7 251.3 95.2 248.4 97.1 z" fill="#acdae9"/><path d="M256.4 97.5 258.8 95.9 258.9 96.9 261.6 93.6 257.5 94.8 258.3 95.3 256.0 96.8 z" fill="#8cc0db"/><path d="M264.0 97.1 265.8 96.0 265.9 96.9 268.6 93.7 264.5 94.9 265.3 95.3 263.6 96.5 z" fill="#81b7d7"/><path d="M271.6 96.8 272.8 96.1 272.9 97.0 275.6 93.7 271.5 94.9 272.3 95.4 271.1 96.1 z" fill="#74add1"/><path d="M279.2 96.5 279.7 96.1 279.8 97.0 282.6 93.8 278.5 95.0 279.3 95.4 278.7 95.8 z" fill="#6ba2cb"/><path d="M287.2 95.9 287.4 95.7 287.5 96.3 289.1 94.1 286.6 95.0 287.1 95.3 286.9 95.4 z" fill="#5183bb"/><path d="M295.0 95.3 295.1 95.2 295.1 95.4 295.8 94.3 294.7 94.9 294.8 94.9 294.8 95.0 z" fill="#426cb0"/><circle cx="302.7" cy="94.6" r="0.48" fill="#4065ac"/><circle cx="309.9" cy="94.5" r="0.48" fill="#3f62ab"/><circle cx="317.2" cy="94.4" r="0.48" fill="#3e60aa"/><circle cx="324.5" cy="94.3" r="0.48" fill="#3e60aa"/><circle cx="331.8" cy="94.1" r="0.48" fill="#3e60aa"/><circle cx="339.1" cy="94.0" r="0.48" fill="#3e60aa"/><circle cx="346.4" cy="93.9" r="0.48" fill="#3f62ab"/><circle cx="353.7" cy="93.8" r="0.48" fill="#4065ac"/><circle cx="360.9" cy="93.7" r="0.48" fill="#4167ad"/><circle cx="368.2" cy="93.5" r="0.48" fill="#4065ac"/><circle cx="375.5" cy="93.4" r="0.48" fill="#4065ac"/><circle cx="382.8" cy="93.3" r="0.48" fill="#4065ac"/><path d="M389.5 94.6 389.6 94.3 390.0 94.9 391.0 91.9 388.5 93.9 389.1 94.0 389.0 94.2 z" fill="#588cc0"/><path d="M396.6 94.9 396.8 94.5 397.2 95.3 398.5 91.4 395.3 94.0 396.2 94.1 395.9 94.4 z" fill="#6399c7"/><path d="M403.6 95.1 404.3 94.2 404.7 95.0 406.0 91.0 402.7 93.6 403.6 93.8 403.0 94.6 z" fill="#70a9cf"/><path d="M410.7 95.3 411.8 93.8 412.2 94.6 413.6 90.5 410.2 93.2 411.1 93.3 410.0 94.9 z" fill="#7db4d5"/><path d="M104.0 107.0 105.2 106.4 105.2 107.3 108.3 104.4 104.1 105.1 104.8 105.7 103.7 106.3 z" fill="#74add1"/><path d="M111.2 106.9 112.6 106.3 112.6 107.2 115.7 104.3 111.5 105.0 112.2 105.5 110.9 106.2 z" fill="#76afd2"/><path d="M118.4 106.9 119.9 106.1 119.9 107.0 123.1 104.1 118.8 104.8 119.6 105.4 118.1 106.1 z" fill="#7ab2d4"/><path d="M125.6 106.8 127.3 106.0 127.3 106.9 130.4 103.9 126.2 104.7 126.9 105.2 125.3 106.1 z" fill="#7db4d5"/><path d="M132.9 106.7 134.7 105.8 134.7 106.7 137.8 103.8 133.6 104.5 134.3 105.1 132.5 106.0 z" fill="#7fb6d6"/><path d="M140.6 106.4 141.6 105.9 141.6 106.8 144.6 103.9 140.4 104.7 141.2 105.2 140.2 105.7 z" fill="#70a9cf"/><path d="M148.3 106.1 148.6 105.9 148.7 106.7 151.5 104.0 147.6 104.7 148.3 105.2 148.0 105.4 z" fill="#6297c6"/><path d="M156.0 105.7 156.3 105.5 156.3 106.1 158.3 104.0 155.5 104.7 156.0 105.0 155.7 105.2 z" fill="#5588be"/><path d="M163.7 105.3 163.9 105.2 163.9 105.5 165.1 104.1 163.3 104.6 163.7 104.8 163.5 104.9 z" fill="#4676b5"/><path d="M171.1 105.2 171.2 105.1 171.3 105.4 172.3 104.0 170.7 104.6 171.0 104.7 170.9 104.8 z" fill="#4574b3"/><path d="M178.5 105.0 178.6 104.9 178.6 105.2 179.6 103.9 178.1 104.5 178.3 104.6 178.2 104.7 z" fill="#4471b2"/><path d="M185.8 104.9 185.9 104.8 185.9 105.1 186.8 103.8 185.4 104.4 185.6 104.4 185.5 104.5 z" fill="#436fb1"/><path d="M193.2 104.8 193.3 104.7 193.3 104.9 194.0 103.7 192.7 104.3 193.0 104.3 192.9 104.4 z" fill="#436fb1"/><path d="M199.9 105.0 200.1 104.8 200.2 105.4 201.9 103.3 199.3 104.2 199.8 104.4 199.6 104.6 z" fill="#5183bb"/><path d="M206.7 105.3 207.0 105.1 207.1 106.0 209.7 102.9 205.9 104.0 206.6 104.5 206.3 104.7 z" fill="#6399c7"/><path d="M213.5 105.6 214.7 104.8 214.8 105.7 217.5 102.4 213.4 103.6 214.2 104.1 213.0 104.9 z" fill="#76afd2"/><path d="M220.2 105.8 222.5 104.3 222.6 105.2 225.4 102.0 221.3 103.1 222.1 103.6 219.7 105.1 z" fill="#8cc0db"/><path d="M227.4 105.7 229.9 104.1 230.0 105.0 232.8 101.8 228.6 103.0 229.4 103.4 226.9 105.0 z" fill="#92c5de"/><path d="M234.6 105.6 237.2 104.0 237.3 104.9 240.1 101.7 236.0 102.8 236.8 103.3 234.2 104.9 z" fill="#9bcce2"/><path d="M241.8 105.5 244.6 103.8 244.6 104.7 247.5 101.5 243.3 102.6 244.1 103.1 241.4 104.8 z" fill="#a1d1e5"/><path d="M249.0 105.4 251.9 103.7 252.0 104.6 254.8 101.4 250.7 102.5 251.5 103.0 248.6 104.7 z" fill="#a8d6e8"/><path d="M256.6 105.1 258.9 103.7 259.0 104.6 261.9 101.5 257.7 102.5 258.5 103.0 256.2 104.4 z" fill="#8cc0db"/><path d="M264.2 104.8 265.9 103.8 266.0 104.7 268.8 101.5 264.7 102.6 265.5 103.1 263.7 104.1 z" fill="#7fb6d6"/><path d="M271.7 104.5 272.9 103.9 272.9 104.8 275.8 101.6 271.7 102.6 272.4 103.1 271.3 103.8 z" fill="#74add1"/><path d="M279.3 104.2 279.8 103.9 279.9 104.8 282.8 101.7 278.7 102.7 279.4 103.2 278.9 103.5 z" fill="#69a0ca"/><path d="M287.3 103.5 287.5 103.4 287.6 104.0 289.3 102.0 286.8 102.7 287.3 103.0 287.0 103.1 z" fill="#5183bb"/><path d="M295.1 103.0 295.2 103.0 295.2 103.2 296.1 102.2 294.8 102.5 295.0 102.6 294.9 102.6 z" fill="#426cb0"/><circle cx="302.8" cy="102.4" r="0.48" fill="#4065ac"/><circle cx="310.1" cy="102.3" r="0.48" fill="#3f62ab"/><circle cx="317.4" cy="102.2" r="0.48" fill="#3e60aa"/><circle cx="324.7" cy="102.1" r="0.48" fill="#3e60aa"/><circle cx="332.0" cy="102.0" r="0.48" fill="#3e60aa"/><circle cx="339.3" cy="101.9" r="0.48" fill="#3e60aa"/><circle cx="346.6" cy="101.7" r="0.48" fill="#3f62ab"/><circle cx="353.8" cy="101.6" r="0.48" fill="#4065ac"/><circle cx="361.1" cy="101.5" r="0.48" fill="#4167ad"/><circle cx="368.4" cy="101.4" r="0.48" fill="#4065ac"/><circle cx="375.7" cy="101.3" r="0.48" fill="#4065ac"/><path d="M382.4 102.6 382.5 102.3 382.9 102.9 383.9 99.9 381.4 101.9 382.0 102.0 381.9 102.2 z" fill="#588cc0"/><path d="M389.5 102.9 389.7 102.6 390.1 103.3 391.4 99.4 388.2 102.0 389.1 102.1 388.8 102.4 z" fill="#6399c7"/><path d="M396.5 103.1 397.2 102.2 397.6 103.0 398.9 99.0 395.6 101.6 396.5 101.8 395.9 102.7 z" fill="#70a9cf"/><path d="M403.6 103.4 404.7 101.8 405.1 102.6 406.5 98.5 403.1 101.2 404.0 101.3 402.9 102.9 z" fill="#7fb6d6"/><path d="M410.6 103.6 412.2 101.3 412.7 102.1 414.0 98.0 410.6 100.7 411.6 100.8 409.9 103.1 z" fill="#8cc0db"/><path d="M104.2 114.7 105.4 114.1 105.4 115.0 108.5 112.1 104.3 112.8 105.0 113.3 103.8 113.9 z" fill="#74add1"/><path d="M111.4 114.6 112.7 113.9 112.7 114.9 115.8 111.9 111.6 112.7 112.4 113.2 111.1 113.9 z" fill="#76afd2"/><path d="M118.6 114.5 120.1 113.8 120.1 114.7 123.2 111.8 119.0 112.5 119.7 113.1 118.3 113.8 z" fill="#78b0d3"/><path d="M125.9 114.5 127.4 113.7 127.5 114.6 130.6 111.6 126.3 112.4 127.1 112.9 125.5 113.7 z" fill="#7ab2d4"/><path d="M133.1 114.4 134.8 113.5 134.8 114.4 137.9 111.5 133.7 112.2 134.4 112.8 132.7 113.7 z" fill="#7db4d5"/><path d="M140.8 114.1 141.7 113.6 141.7 114.5 144.8 111.6 140.6 112.4 141.3 112.9 140.4 113.3 z" fill="#6ea6ce"/><path d="M148.5 113.7 148.9 113.5 148.9 114.4 151.6 111.7 147.9 112.4 148.5 112.9 148.2 113.1 z" fill="#6095c4"/><path d="M156.2 113.3 156.5 113.2 156.5 113.8 158.4 111.8 155.7 112.4 156.2 112.7 156.0 112.8 z" fill="#5385bd"/><path d="M164.0 112.9 164.1 112.8 164.1 113.2 165.3 111.9 163.6 112.3 163.9 112.5 163.7 112.5 z" fill="#4574b3"/><path d="M171.3 112.8 171.5 112.7 171.5 113.0 172.5 111.8 171.0 112.2 171.2 112.3 171.1 112.4 z" fill="#4471b2"/><path d="M178.7 112.7 178.8 112.6 178.8 112.9 179.7 111.7 178.3 112.2 178.5 112.2 178.4 112.3 z" fill="#436fb1"/><path d="M186.0 112.6 186.1 112.5 186.1 112.7 187.0 111.6 185.6 112.1 185.9 112.1 185.7 112.2 z" fill="#436fb1"/><path d="M193.4 112.5 193.5 112.4 193.5 112.6 194.2 111.5 193.0 112.0 193.2 112.0 193.1 112.1 z" fill="#426cb0"/><path d="M200.1 112.7 200.3 112.5 200.4 113.1 202.0 111.1 199.5 111.9 200.0 112.1 199.8 112.3 z" fill="#5183bb"/><path d="M206.9 113.0 207.2 112.8 207.3 113.6 209.9 110.6 206.1 111.7 206.8 112.2 206.5 112.4 z" fill="#6399c7"/><path d="M213.6 113.2 214.8 112.5 214.9 113.4 217.7 110.2 213.6 111.3 214.4 111.8 213.2 112.5 z" fill="#76afd2"/><path d="M220.3 113.4 222.7 112.0 222.7 112.9 225.6 109.8 221.5 110.8 222.2 111.3 219.9 112.7 z" fill="#8cc0db"/><path d="M227.5 113.4 230.0 111.9 230.1 112.8 233.0 109.6 228.8 110.7 229.6 111.2 227.1 112.7 z" fill="#92c5de"/><path d="M234.7 113.3 237.4 111.7 237.4 112.6 240.3 109.5 236.2 110.5 237.0 111.0 234.3 112.6 z" fill="#99cae1"/><path d="M241.9 113.2 244.7 111.6 244.8 112.5 247.7 109.4 243.5 110.4 244.3 110.9 241.5 112.5 z" fill="#9fd0e4"/><path d="M249.2 113.1 252.1 111.4 252.1 112.4 255.1 109.3 250.9 110.2 251.6 110.7 248.7 112.4 z" fill="#a6d5e7"/><path d="M256.7 112.8 259.0 111.5 259.1 112.4 262.1 109.3 257.9 110.3 258.6 110.8 256.3 112.1 z" fill="#8abeda"/><path d="M264.3 112.5 266.0 111.6 266.0 112.5 269.0 109.4 264.9 110.3 265.6 110.8 263.9 111.8 z" fill="#7db4d5"/><path d="M271.9 112.2 273.0 111.6 273.0 112.5 276.0 109.5 271.8 110.4 272.6 110.9 271.5 111.5 z" fill="#72abd0"/><path d="M279.5 111.9 279.9 111.7 279.9 112.6 283.0 109.6 278.8 110.4 279.5 110.9 279.1 111.1 z" fill="#679ec9"/><path d="M287.4 111.2 287.6 111.1 287.6 111.7 289.6 109.9 287.0 110.3 287.4 110.7 287.2 110.8 z" fill="#5183bb"/><path d="M295.2 110.7 295.3 110.7 295.2 110.9 296.3 110.2 295.0 110.2 295.2 110.3 295.1 110.3 z" fill="#426cb0"/><circle cx="303.0" cy="110.2" r="0.48" fill="#4065ac"/><circle cx="310.3" cy="110.1" r="0.48" fill="#4065ac"/><circle cx="317.6" cy="110.0" r="0.48" fill="#3f62ab"/><circle cx="324.9" cy="109.9" r="0.48" fill="#3e60aa"/><circle cx="332.2" cy="109.8" r="0.48" fill="#3e60aa"/><circle cx="339.5" cy="109.7" r="0.48" fill="#3e60aa"/><circle cx="346.7" cy="109.6" r="0.48" fill="#3f62ab"/><circle cx="354.0" cy="109.5" r="0.48" fill="#3f62ab"/><circle cx="361.3" cy="109.4" r="0.48" fill="#4065ac"/><circle cx="368.6" cy="109.3" r="0.48" fill="#4065ac"/><path d="M375.3 110.6 375.4 110.3 375.8 110.9 376.8 107.9 374.2 109.9 374.9 110.0 374.8 110.2 z" fill="#588cc0"/><path d="M382.4 110.9 382.6 110.6 383.0 111.3 384.3 107.4 381.1 110.0 382.0 110.1 381.7 110.4 z" fill="#659bc8"/><path d="M389.4 111.1 390.1 110.2 390.5 111.0 391.8 107.0 388.5 109.6 389.4 109.7 388.8 110.7 z" fill="#70a9cf"/><path d="M396.5 111.4 397.6 109.8 398.0 110.6 399.4 106.5 396.0 109.2 396.9 109.3 395.8 110.9 z" fill="#7fb6d6"/><path d="M410.8 111.5 412.4 109.2 412.8 110.0 414.2 105.9 410.8 108.6 411.7 108.7 410.1 111.0 z" fill="#8cc0db"/><path d="M104.4 122.3 105.6 121.7 105.6 122.6 108.7 119.7 104.5 120.4 105.2 121.0 104.0 121.6 z" fill="#74add1"/><path d="M111.6 122.2 112.9 121.6 112.9 122.5 116.0 119.6 111.8 120.3 112.5 120.9 111.3 121.5 z" fill="#76afd2"/><path d="M118.9 122.2 120.2 121.5 120.3 122.4 123.3 119.4 119.1 120.2 119.9 120.7 118.5 121.4 z" fill="#78b0d3"/><path d="M126.1 122.1 127.6 121.3 127.6 122.2 130.7 119.3 126.5 120.1 127.2 120.6 125.7 121.4 z" fill="#7ab2d4"/><path d="M133.3 122.0 134.9 121.2 134.9 122.1 138.0 119.2 133.8 119.9 134.6 120.5 133.0 121.3 z" fill="#7ab2d4"/><path d="M141.1 121.7 141.8 121.3 141.8 122.2 144.9 119.3 140.7 120.1 141.4 120.6 140.7 121.0 z" fill="#6da4cc"/><path d="M148.8 121.3 149.1 121.2 149.1 122.0 151.7 119.4 148.1 120.1 148.8 120.5 148.4 120.7 z" fill="#5e93c3"/><path d="M156.5 120.9 156.7 120.8 156.7 121.4 158.6 119.5 156.0 120.0 156.4 120.4 156.2 120.5 z" fill="#5183bb"/><path d="M164.2 120.6 164.3 120.5 164.3 120.8 165.4 119.6 163.8 120.0 164.1 120.1 164.0 120.2 z" fill="#4471b2"/><path d="M171.5 120.5 171.7 120.4 171.6 120.6 172.6 119.5 171.2 119.9 171.4 120.0 171.3 120.1 z" fill="#436fb1"/><path d="M178.9 120.4 179.0 120.3 179.0 120.5 179.9 119.4 178.5 119.8 178.7 119.9 178.6 120.0 z" fill="#436fb1"/><path d="M186.2 120.2 186.3 120.2 186.3 120.4 187.1 119.3 185.9 119.8 186.1 119.8 186.0 119.9 z" fill="#426cb0"/><path d="M193.6 120.1 193.7 120.1 193.7 120.2 194.3 119.2 193.2 119.7 193.4 119.7 193.3 119.8 z" fill="#416aaf"/><path d="M200.3 120.4 200.5 120.2 200.6 120.8 202.2 118.8 199.8 119.5 200.2 119.8 200.0 119.9 z" fill="#4f81ba"/><path d="M207.1 120.7 207.4 120.5 207.5 121.3 210.1 118.4 206.3 119.4 207.0 119.8 206.7 120.0 z" fill="#6297c6"/><path d="M213.8 120.9 214.9 120.2 215.0 121.1 217.9 118.0 213.8 119.0 214.5 119.5 213.4 120.2 z" fill="#74add1"/><path d="M220.5 121.1 222.8 119.8 222.8 120.7 225.8 117.6 221.6 118.6 222.4 119.1 220.1 120.4 z" fill="#8abeda"/><path d="M227.7 121.0 230.1 119.6 230.2 120.6 233.2 117.5 229.0 118.4 229.7 118.9 227.3 120.3 z" fill="#8cc0db"/><path d="M234.9 120.9 237.5 119.5 237.5 120.4 240.5 117.4 236.3 118.3 237.1 118.8 234.5 120.2 z" fill="#92c5de"/><path d="M242.1 120.8 244.8 119.4 244.8 120.3 247.9 117.3 243.7 118.1 244.4 118.7 241.8 120.1 z" fill="#97c9e0"/><path d="M249.4 120.7 252.1 119.3 252.2 120.2 255.2 117.2 251.0 118.0 251.8 118.5 249.0 120.0 z" fill="#9dcee3"/><path d="M256.9 120.4 259.1 119.3 259.1 120.2 262.2 117.3 258.0 118.0 258.7 118.6 256.6 119.7 z" fill="#85bbd9"/><path d="M264.5 120.1 266.1 119.4 266.1 120.3 269.2 117.3 265.0 118.1 265.7 118.6 264.2 119.4 z" fill="#7ab2d4"/><path d="M272.1 119.8 273.0 119.4 273.0 120.3 276.1 117.4 271.9 118.1 272.6 118.7 271.8 119.1 z" fill="#6ea6ce"/><path d="M279.7 119.5 280.1 119.4 280.0 120.2 283.1 117.5 279.1 118.1 279.7 118.6 279.4 118.8 z" fill="#6399c7"/><path d="M287.5 118.9 287.8 118.8 287.7 119.4 289.8 117.8 287.2 118.0 287.6 118.4 287.3 118.4 z" fill="#5183bb"/><path d="M295.3 118.5 295.4 118.4 295.3 118.6 296.6 118.1 295.2 117.8 295.4 118.0 295.2 118.0 z" fill="#426cb0"/><circle cx="303.2" cy="118.0" r="0.48" fill="#4167ad"/><circle cx="310.5" cy="117.9" r="0.48" fill="#4167ad"/><circle cx="317.8" cy="117.8" r="0.48" fill="#4065ac"/><circle cx="325.1" cy="117.7" r="0.48" fill="#4065ac"/><circle cx="332.4" cy="117.6" r="0.48" fill="#4065ac"/><circle cx="339.6" cy="117.5" r="0.48" fill="#4065ac"/><circle cx="346.9" cy="117.4" r="0.48" fill="#4065ac"/><circle cx="354.2" cy="117.3" r="0.48" fill="#4065ac"/><circle cx="361.5" cy="117.2" r="0.48" fill="#4065ac"/><path d="M368.2 118.6 368.3 118.3 368.7 118.9 369.7 115.8 367.1 117.9 367.8 118.0 367.6 118.2 z" fill="#588cc0"/><path d="M375.3 118.9 375.5 118.5 375.9 119.3 377.2 115.4 374.0 118.0 374.8 118.1 374.6 118.4 z" fill="#659bc8"/><path d="M382.3 119.1 383.0 118.2 383.4 119.0 384.7 114.9 381.4 117.6 382.3 117.7 381.6 118.7 z" fill="#70a9cf"/><path d="M104.9 129.8 105.4 129.5 105.4 130.4 108.5 127.5 104.3 128.2 105.0 128.8 104.5 129.1 z" fill="#69a0ca"/><path d="M112.2 129.7 112.7 129.4 112.7 130.3 115.8 127.4 111.6 128.1 112.4 128.7 111.8 129.0 z" fill="#6ba2cb"/><path d="M119.4 129.6 120.0 129.3 120.0 130.2 123.1 127.3 118.9 128.0 119.7 128.6 119.1 128.9 z" fill="#6ba2cb"/><path d="M126.7 129.5 127.3 129.2 127.3 130.1 130.5 127.2 126.2 127.9 127.0 128.5 126.3 128.8 z" fill="#6ba2cb"/><path d="M133.9 129.4 134.7 129.1 134.7 130.0 137.8 127.1 133.6 127.8 134.3 128.4 133.6 128.7 z" fill="#6da4cc"/><path d="M141.6 129.1 141.9 129.0 141.9 129.8 144.7 127.2 140.9 127.8 141.6 128.3 141.2 128.5 z" fill="#6297c6"/><path d="M149.2 128.8 149.4 128.7 149.4 129.3 151.7 127.2 148.6 127.7 149.2 128.1 148.9 128.3 z" fill="#578abf"/><path d="M156.8 128.4 157.0 128.4 156.9 128.8 158.6 127.3 156.4 127.7 156.8 128.0 156.6 128.0 z" fill="#4b7db8"/><path d="M164.4 128.2 164.5 128.1 164.5 128.3 165.5 127.4 164.1 127.6 164.3 127.7 164.2 127.8 z" fill="#436fb1"/><path d="M171.7 128.1 171.8 128.0 171.8 128.2 172.8 127.3 171.5 127.5 171.6 127.6 171.5 127.7 z" fill="#426cb0"/><path d="M179.1 128.0 179.2 127.9 179.1 128.1 180.0 127.2 178.8 127.4 179.0 127.5 178.8 127.6 z" fill="#426cb0"/><path d="M186.4 127.9 186.5 127.8 186.4 128.0 187.3 127.1 186.1 127.4 186.3 127.4 186.2 127.5 z" fill="#416aaf"/><path d="M193.7 127.8 193.8 127.7 193.8 127.9 194.5 127.0 193.4 127.3 193.6 127.3 193.5 127.4 z" fill="#416aaf"/><path d="M200.6 127.9 200.7 127.8 200.8 128.3 202.3 126.7 200.1 127.2 200.5 127.4 200.3 127.5 z" fill="#4a7ab7"/><path d="M207.4 128.1 207.7 128.0 207.7 128.7 210.0 126.3 206.8 127.1 207.4 127.4 207.1 127.6 z" fill="#588cc0"/><path d="M214.3 128.4 214.7 128.2 214.8 129.1 217.7 126.0 213.6 126.9 214.3 127.4 213.9 127.7 z" fill="#679ec9"/><path d="M221.2 128.5 222.5 127.8 222.5 128.7 225.5 125.7 221.3 126.6 222.1 127.1 220.8 127.8 z" fill="#76afd2"/><path d="M228.4 128.4 229.8 127.7 229.8 128.6 232.9 125.6 228.7 126.4 229.4 126.9 228.0 127.7 z" fill="#78b0d3"/><path d="M235.6 128.3 237.1 127.5 237.1 128.4 240.2 125.5 236.0 126.3 236.7 126.8 235.2 127.6 z" fill="#7ab2d4"/><path d="M242.8 128.3 244.5 127.4 244.5 128.3 247.6 125.4 243.3 126.1 244.1 126.7 242.4 127.5 z" fill="#7db4d5"/><path d="M250.0 128.2 251.8 127.3 251.8 128.2 254.9 125.3 250.7 126.0 251.4 126.5 249.6 127.4 z" fill="#7fb6d6"/><path d="M257.5 127.9 258.8 127.3 258.8 128.2 262.0 125.3 257.7 126.0 258.5 126.6 257.2 127.2 z" fill="#74add1"/><path d="M265.1 127.6 265.8 127.3 265.8 128.2 269.0 125.4 264.7 126.0 265.5 126.6 264.7 126.9 z" fill="#6da4cc"/><path d="M272.6 127.4 273.0 127.2 272.9 128.1 276.0 125.5 272.0 125.9 272.7 126.5 272.3 126.6 z" fill="#6399c7"/><path d="M280.1 127.0 280.4 126.9 280.4 127.7 283.0 125.5 279.6 125.8 280.2 126.3 279.9 126.4 z" fill="#5a8ec1"/><path d="M287.8 126.6 288.0 126.5 287.9 127.0 289.9 125.7 287.6 125.7 287.9 126.1 287.7 126.1 z" fill="#4b7db8"/><path d="M295.5 126.2 295.6 126.2 295.5 126.4 296.8 125.9 295.4 125.6 295.5 125.8 295.4 125.8 z" fill="#436fb1"/><path d="M302.8 126.1 302.9 126.1 302.8 126.2 303.9 125.8 302.8 125.5 302.9 125.6 302.8 125.6 z" fill="#416aaf"/><path d="M310.1 126.0 310.2 126.0 310.1 126.1 311.2 125.8 310.1 125.4 310.2 125.5 310.1 125.5 z" fill="#416aaf"/><circle cx="318.0" cy="125.7" r="0.48" fill="#4167ad"/><circle cx="325.2" cy="125.6" r="0.48" fill="#4167ad"/><circle cx="332.5" cy="125.5" r="0.48" fill="#4167ad"/><circle cx="339.8" cy="125.4" r="0.48" fill="#4167ad"/><circle cx="347.1" cy="125.3" r="0.48" fill="#4065ac"/><circle cx="354.4" cy="125.2" r="0.48" fill="#4065ac"/><circle cx="361.7" cy="125.1" r="0.48" fill="#4065ac"/><circle cx="369.0" cy="125.0" r="0.48" fill="#4065ac"/><path d="M376.0 125.5 376.1 125.4 376.2 125.6 376.7 124.4 375.6 125.1 375.8 125.1 375.7 125.2 z" fill="#426cb0"/><path d="M412.6 125.9 412.7 125.6 413.1 126.1 413.1 123.0 411.4 125.6 412.1 125.5 412.0 125.7 z" fill="#578abf"/><path d="M105.4 137.2 105.7 137.0 105.7 137.8 108.4 135.3 104.7 135.9 105.4 136.4 105.1 136.6 z" fill="#5e93c3"/><path d="M112.7 137.1 113.0 136.9 113.0 137.7 115.7 135.2 112.0 135.8 112.7 136.3 112.4 136.5 z" fill="#5e93c3"/><path d="M120.0 137.0 120.3 136.8 120.3 137.6 122.9 135.2 119.3 135.7 120.0 136.2 119.6 136.4 z" fill="#5e93c3"/><path d="M127.2 136.9 127.6 136.7 127.5 137.5 130.2 135.1 126.6 135.6 127.2 136.1 126.9 136.3 z" fill="#5e93c3"/><path d="M134.5 136.8 134.8 136.7 134.8 137.4 137.5 135.0 133.9 135.5 134.5 136.0 134.2 136.2 z" fill="#5e93c3"/><path d="M142.0 136.5 142.3 136.4 142.3 137.1 144.6 135.0 141.5 135.5 142.1 135.9 141.8 136.0 z" fill="#578abf"/><path d="M149.5 136.2 149.8 136.1 149.7 136.7 151.6 135.1 149.2 135.4 149.6 135.7 149.4 135.8 z" fill="#4d7fb9"/><path d="M157.1 136.0 157.2 135.9 157.2 136.3 158.6 135.1 156.8 135.3 157.1 135.5 156.9 135.6 z" fill="#4676b5"/><path d="M164.6 135.8 164.7 135.7 164.6 135.9 165.7 135.2 164.4 135.2 164.6 135.3 164.4 135.3 z" fill="#426cb0"/><path d="M171.9 135.7 172.0 135.6 171.9 135.8 172.9 135.1 171.7 135.1 171.9 135.2 171.8 135.3 z" fill="#416aaf"/><path d="M179.2 135.6 179.3 135.6 179.3 135.7 180.2 135.0 179.0 135.1 179.2 135.1 179.1 135.2 z" fill="#416aaf"/><path d="M186.5 135.5 186.6 135.5 186.6 135.6 187.5 134.9 186.3 135.0 186.5 135.0 186.4 135.1 z" fill="#416aaf"/><circle cx="194.2" cy="135.0" r="0.48" fill="#4167ad"/><path d="M200.8 135.5 201.0 135.4 201.0 135.8 202.3 134.6 200.5 134.8 200.8 135.0 200.6 135.1 z" fill="#4676b5"/><path d="M207.8 135.6 208.0 135.5 208.0 136.1 210.0 134.3 207.4 134.7 207.8 135.1 207.6 135.2 z" fill="#5183bb"/><path d="M214.8 135.8 215.1 135.6 215.1 136.4 217.6 134.0 214.2 134.6 214.8 135.0 214.5 135.2 z" fill="#5c90c2"/><path d="M221.8 135.9 222.1 135.8 222.2 136.7 225.2 133.7 221.0 134.5 221.8 135.0 221.4 135.2 z" fill="#659bc8"/><path d="M229.0 135.9 229.4 135.6 229.4 136.6 232.6 133.6 228.3 134.4 229.1 134.9 228.6 135.1 z" fill="#679ec9"/><path d="M236.2 135.8 236.8 135.5 236.8 136.4 239.9 133.5 235.7 134.2 236.4 134.8 235.9 135.0 z" fill="#69a0ca"/><path d="M243.4 135.7 244.1 135.4 244.1 136.3 247.3 133.5 243.0 134.1 243.7 134.6 243.1 134.9 z" fill="#6ba2cb"/><path d="M250.7 135.6 251.4 135.2 251.4 136.2 254.6 133.4 250.4 133.9 251.1 134.5 250.3 134.8 z" fill="#6da4cc"/><path d="M258.1 135.4 258.5 135.2 258.4 136.1 261.7 133.4 257.5 133.9 258.2 134.5 257.8 134.6 z" fill="#679ec9"/><path d="M265.6 135.1 265.9 135.0 265.9 135.8 268.8 133.5 265.1 133.8 265.7 134.3 265.3 134.4 z" fill="#6095c4"/><path d="M273.1 134.8 273.3 134.7 273.3 135.4 275.9 133.5 272.6 133.7 273.1 134.1 272.8 134.2 z" fill="#588cc0"/><path d="M280.5 134.6 280.8 134.5 280.7 135.1 283.0 133.5 280.2 133.6 280.6 134.0 280.4 134.1 z" fill="#5385bd"/><path d="M288.1 134.3 288.3 134.2 288.2 134.6 289.9 133.6 287.9 133.5 288.2 133.8 288.0 133.8 z" fill="#4878b6"/><path d="M295.6 134.0 295.8 134.0 295.6 134.2 297.0 133.7 295.6 133.4 295.7 133.6 295.6 133.6 z" fill="#436fb1"/><path d="M303.0 133.9 303.1 133.9 303.0 134.0 304.2 133.7 303.0 133.3 303.1 133.4 303.0 133.4 z" fill="#426cb0"/><path d="M310.3 133.8 310.4 133.8 310.3 133.9 311.5 133.6 310.3 133.2 310.4 133.3 310.3 133.3 z" fill="#416aaf"/><path d="M317.6 133.7 317.7 133.7 317.6 133.8 318.7 133.5 317.6 133.1 317.7 133.3 317.6 133.3 z" fill="#416aaf"/><path d="M324.9 133.6 325.0 133.6 324.9 133.7 326.0 133.4 324.9 133.0 325.0 133.2 324.9 133.2 z" fill="#416aaf"/><path d="M332.2 133.5 332.3 133.5 332.2 133.6 333.3 133.3 332.2 133.0 332.3 133.1 332.2 133.1 z" fill="#416aaf"/><path d="M339.5 133.4 339.6 133.4 339.5 133.5 340.6 133.2 339.5 132.9 339.6 133.0 339.5 133.0 z" fill="#416aaf"/><circle cx="347.3" cy="133.1" r="0.48" fill="#4167ad"/><circle cx="354.6" cy="133.0" r="0.48" fill="#4167ad"/><circle cx="361.9" cy="132.9" r="0.48" fill="#4167ad"/><circle cx="369.2" cy="132.8" r="0.48" fill="#4065ac"/><path d="M412.9 134.2 413.0 133.8 413.7 134.3 413.2 130.5 411.5 133.9 412.3 133.7 412.2 134.1 z" fill="#6297c6"/><path d="M105.9 144.6 106.1 144.5 106.1 145.1 108.2 143.1 105.4 143.6 105.9 144.0 105.6 144.1 z" fill="#5588be"/><path d="M113.2 144.5 113.4 144.4 113.4 145.0 115.5 143.1 112.7 143.5 113.2 143.9 112.9 144.0 z" fill="#5385bd"/><path d="M120.5 144.4 120.7 144.3 120.7 144.8 122.7 143.0 120.0 143.4 120.5 143.8 120.2 143.9 z" fill="#5183bb"/><path d="M127.8 144.2 128.0 144.1 128.0 144.7 130.0 143.0 127.4 143.3 127.8 143.7 127.6 143.8 z" fill="#5183bb"/><path d="M135.1 144.1 135.3 144.0 135.3 144.6 137.3 142.9 134.7 143.2 135.1 143.6 134.9 143.7 z" fill="#4f81ba"/><path d="M142.5 143.9 142.7 143.8 142.7 144.3 144.4 142.9 142.2 143.1 142.5 143.4 142.3 143.5 z" fill="#4b7db8"/><path d="M149.9 143.7 150.1 143.7 150.0 144.0 151.5 142.9 149.7 143.0 150.0 143.3 149.8 143.3 z" fill="#4676b5"/><path d="M157.4 143.6 157.5 143.5 157.4 143.8 158.7 143.0 157.2 142.9 157.4 143.1 157.2 143.1 z" fill="#436fb1"/><path d="M164.8 143.4 164.9 143.4 164.8 143.5 165.8 143.0 164.7 142.8 164.8 142.9 164.7 142.9 z" fill="#416aaf"/><path d="M172.1 143.3 172.2 143.3 172.1 143.4 173.1 142.9 172.0 142.8 172.1 142.8 172.0 142.8 z" fill="#4167ad"/><circle cx="179.9" cy="142.9" r="0.48" fill="#4167ad"/><circle cx="187.1" cy="142.8" r="0.48" fill="#4167ad"/><circle cx="194.4" cy="142.7" r="0.48" fill="#4167ad"/><path d="M201.1 143.1 201.2 143.0 201.2 143.3 202.4 142.4 200.9 142.4 201.1 142.6 201.0 142.6 z" fill="#4471b2"/><path d="M208.2 143.1 208.4 143.0 208.3 143.5 209.9 142.2 207.9 142.4 208.2 142.6 208.0 142.7 z" fill="#4878b6"/><path d="M215.3 143.2 215.5 143.1 215.5 143.6 217.4 142.0 214.9 142.3 215.3 142.6 215.1 142.7 z" fill="#4f81ba"/><path d="M222.4 143.3 222.6 143.1 222.6 143.8 224.9 141.8 221.9 142.2 222.4 142.6 222.1 142.7 z" fill="#578abf"/><path d="M229.6 143.2 229.9 143.1 229.8 143.8 232.3 141.7 229.1 142.1 229.6 142.5 229.4 142.6 z" fill="#588cc0"/><path d="M236.8 143.1 237.1 143.0 237.1 143.7 239.6 141.6 236.3 141.9 236.9 142.4 236.6 142.5 z" fill="#5a8ec1"/><path d="M244.0 143.0 244.3 142.9 244.3 143.6 247.0 141.5 243.6 141.8 244.1 142.3 243.8 142.4 z" fill="#5a8ec1"/><path d="M251.3 143.0 251.6 142.8 251.5 143.6 254.3 141.5 250.8 141.7 251.4 142.2 251.0 142.3 z" fill="#5c90c2"/><path d="M258.7 142.7 259.0 142.6 258.9 143.3 261.5 141.5 258.3 141.6 258.8 142.1 258.5 142.2 z" fill="#588cc0"/><path d="M266.1 142.5 266.4 142.4 266.2 143.0 268.6 141.5 265.8 141.5 266.2 141.9 265.9 142.0 z" fill="#5385bd"/><path d="M273.5 142.3 273.7 142.2 273.6 142.8 275.7 141.5 273.3 141.4 273.6 141.8 273.4 141.8 z" fill="#4d7fb9"/><path d="M280.9 142.1 281.1 142.1 281.0 142.5 282.9 141.5 280.8 141.3 281.0 141.6 280.8 141.7 z" fill="#4a7ab7"/><path d="M288.4 141.9 288.6 141.9 288.4 142.2 290.0 141.5 288.3 141.2 288.5 141.5 288.4 141.5 z" fill="#4574b3"/><path d="M295.8 141.8 295.9 141.8 295.8 142.0 297.2 141.5 295.8 141.2 295.9 141.3 295.8 141.3 z" fill="#436fb1"/><path d="M303.1 141.7 303.2 141.7 303.1 141.9 304.4 141.5 303.1 141.1 303.2 141.2 303.1 141.2 z" fill="#426cb0"/><path d="M310.4 141.6 310.5 141.6 310.4 141.8 311.7 141.4 310.4 141.0 310.5 141.2 310.4 141.2 z" fill="#426cb0"/><path d="M317.7 141.5 317.8 141.5 317.7 141.7 319.0 141.3 317.7 140.9 317.8 141.1 317.7 141.1 z" fill="#426cb0"/><path d="M325.0 141.4 325.1 141.4 325.0 141.6 326.3 141.2 325.0 140.8 325.1 141.0 325.0 141.0 z" fill="#426cb0"/><path d="M332.3 141.4 332.4 141.4 332.3 141.5 333.5 141.1 332.3 140.8 332.4 140.9 332.3 140.9 z" fill="#426cb0"/><path d="M339.6 141.3 339.7 141.3 339.6 141.4 340.8 141.0 339.6 140.7 339.7 140.8 339.6 140.8 z" fill="#426cb0"/><path d="M346.9 141.2 347.0 141.2 346.9 141.3 348.1 140.9 346.9 140.6 347.0 140.7 346.9 140.7 z" fill="#416aaf"/><path d="M354.2 141.1 354.3 141.1 354.2 141.2 355.3 140.8 354.2 140.6 354.3 140.7 354.2 140.7 z" fill="#416aaf"/><circle cx="362.1" cy="140.8" r="0.48" fill="#4167ad"/><path d="M413.2 142.5 413.3 141.7 414.1 142.2 413.3 137.9 411.6 141.9 412.5 141.6 412.4 142.4 z" fill="#6da4cc"/><path d="M106.3 152.0 106.5 151.9 106.5 152.4 108.1 151.0 106.0 151.3 106.3 151.5 106.1 151.6 z" fill="#4a7ab7"/><path d="M113.7 151.9 113.8 151.8 113.8 152.2 115.3 150.9 113.3 151.2 113.7 151.4 113.5 151.5 z" fill="#4878b6"/><path d="M121.0 151.8 121.2 151.7 121.1 152.0 122.5 150.9 120.7 151.1 121.0 151.3 120.8 151.4 z" fill="#4676b5"/><path d="M128.3 151.7 128.5 151.6 128.4 151.9 129.8 150.8 128.1 151.0 128.3 151.2 128.2 151.2 z" fill="#4574b3"/><path d="M135.7 151.5 135.8 151.5 135.8 151.7 137.0 150.8 135.4 150.9 135.7 151.1 135.5 151.1 z" fill="#4471b2"/><path d="M143.0 151.4 143.1 151.4 143.1 151.6 144.2 150.8 142.8 150.8 143.0 150.9 142.9 151.0 z" fill="#436fb1"/><path d="M150.3 151.3 150.4 151.2 150.4 151.4 151.5 150.8 150.2 150.7 150.4 150.8 150.2 150.8 z" fill="#426cb0"/><path d="M157.6 151.1 157.8 151.1 157.7 151.2 158.7 150.8 157.6 150.6 157.7 150.7 157.6 150.7 z" fill="#416aaf"/><circle cx="165.5" cy="150.8" r="0.48" fill="#4167ad"/><circle cx="172.7" cy="150.7" r="0.48" fill="#4167ad"/><circle cx="180.0" cy="150.6" r="0.48" fill="#4167ad"/><circle cx="187.3" cy="150.5" r="0.48" fill="#4167ad"/><circle cx="194.6" cy="150.4" r="0.48" fill="#4167ad"/><path d="M201.3 150.6 201.4 150.6 201.3 150.8 202.5 150.3 201.3 150.1 201.4 150.2 201.3 150.2 z" fill="#426cb0"/><path d="M208.5 150.6 208.7 150.6 208.6 150.8 209.9 150.1 208.4 150.0 208.6 150.2 208.4 150.2 z" fill="#436fb1"/><path d="M215.7 150.6 215.9 150.6 215.8 150.9 217.3 150.0 215.5 149.9 215.8 150.2 215.6 150.2 z" fill="#4574b3"/><path d="M222.9 150.6 223.1 150.6 223.0 151.0 224.7 149.8 222.7 149.9 223.0 150.2 222.8 150.2 z" fill="#4878b6"/><path d="M230.1 150.6 230.3 150.5 230.3 150.9 232.0 149.8 229.9 149.8 230.2 150.1 230.0 150.1 z" fill="#4a7ab7"/><path d="M237.4 150.5 237.6 150.4 237.5 150.9 239.4 149.7 237.1 149.6 237.5 150.0 237.2 150.0 z" fill="#4b7db8"/><path d="M244.6 150.4 244.8 150.3 244.7 150.8 246.7 149.6 244.4 149.5 244.7 149.9 244.5 150.0 z" fill="#4d7fb9"/><path d="M251.8 150.3 252.0 150.3 251.9 150.8 254.1 149.5 251.6 149.4 251.9 149.8 251.7 149.9 z" fill="#4f81ba"/><path d="M259.2 150.2 259.4 150.1 259.3 150.6 261.3 149.5 259.0 149.3 259.3 149.7 259.1 149.7 z" fill="#4b7db8"/><path d="M266.5 150.0 266.7 150.0 266.6 150.4 268.5 149.5 266.4 149.2 266.7 149.5 266.5 149.6 z" fill="#4878b6"/><path d="M273.9 149.9 274.1 149.9 273.9 150.2 275.7 149.5 273.9 149.1 274.1 149.4 273.9 149.4 z" fill="#4676b5"/><path d="M281.3 149.7 281.4 149.7 281.3 150.0 282.9 149.5 281.3 149.0 281.4 149.3 281.3 149.3 z" fill="#4574b3"/><path d="M288.6 149.6 288.8 149.6 288.6 149.8 290.1 149.5 288.7 149.0 288.8 149.2 288.7 149.2 z" fill="#436fb1"/><path d="M295.9 149.5 296.1 149.6 295.9 149.7 297.3 149.4 296.0 148.9 296.1 149.1 296.0 149.1 z" fill="#436fb1"/><path d="M303.2 149.5 303.4 149.5 303.2 149.7 304.6 149.3 303.3 148.8 303.4 149.0 303.2 149.0 z" fill="#436fb1"/><path d="M310.5 149.4 310.7 149.4 310.5 149.6 311.9 149.2 310.5 148.7 310.7 148.9 310.5 148.9 z" fill="#436fb1"/><path d="M317.8 149.3 317.9 149.3 317.8 149.5 319.2 149.1 317.8 148.7 318.0 148.9 317.8 148.9 z" fill="#436fb1"/><path d="M325.1 149.2 325.2 149.2 325.1 149.4 326.5 149.1 325.1 148.6 325.3 148.8 325.1 148.8 z" fill="#436fb1"/><path d="M332.4 149.2 332.5 149.2 332.4 149.3 333.8 149.0 332.4 148.5 332.6 148.7 332.4 148.7 z" fill="#436fb1"/><path d="M339.7 149.1 339.8 149.1 339.7 149.2 341.0 148.9 339.7 148.5 339.9 148.6 339.7 148.6 z" fill="#426cb0"/><path d="M347.0 149.0 347.2 149.0 347.0 149.1 348.3 148.8 347.1 148.4 347.2 148.6 347.1 148.6 z" fill="#426cb0"/><path d="M354.4 148.9 354.5 148.9 354.4 149.1 355.5 148.7 354.4 148.4 354.5 148.5 354.4 148.5 z" fill="#416aaf"/><path d="M361.7 148.9 361.8 148.9 361.7 149.0 362.8 148.7 361.7 148.3 361.8 148.4 361.7 148.4 z" fill="#416aaf"/><path d="M406.2 150.7 406.3 149.4 407.1 149.9 406.2 145.7 404.6 149.6 405.5 149.3 405.3 150.7 z" fill="#74add1"/><path d="M413.4 150.7 413.6 149.3 414.3 149.8 413.5 145.6 411.9 149.6 412.7 149.2 412.6 150.6 z" fill="#74add1"/><path d="M106.6 159.5 106.8 159.5 106.7 159.8 108.1 158.7 106.3 158.9 106.6 159.1 106.4 159.1 z" fill="#4676b5"/><path d="M113.9 159.4 114.1 159.4 114.0 159.7 115.4 158.7 113.7 158.8 113.9 159.0 113.8 159.0 z" fill="#4574b3"/><path d="M121.2 159.3 121.4 159.3 121.3 159.5 122.6 158.7 121.0 158.7 121.3 158.8 121.1 158.9 z" fill="#4471b2"/><path d="M128.6 159.2 128.7 159.2 128.6 159.4 129.9 158.6 128.4 158.6 128.6 158.7 128.5 158.8 z" fill="#436fb1"/><path d="M135.9 159.1 136.0 159.0 135.9 159.2 137.1 158.6 135.8 158.5 135.9 158.6 135.8 158.6 z" fill="#436fb1"/><path d="M143.2 158.9 143.3 158.9 143.2 159.1 144.4 158.6 143.1 158.3 143.3 158.5 143.1 158.5 z" fill="#426cb0"/><path d="M150.5 158.8 150.6 158.8 150.5 158.9 151.6 158.6 150.5 158.2 150.6 158.4 150.5 158.4 z" fill="#416aaf"/><path d="M157.8 158.7 157.9 158.7 157.8 158.8 158.9 158.6 157.8 158.1 157.9 158.2 157.8 158.2 z" fill="#416aaf"/><circle cx="165.6" cy="158.4" r="0.48" fill="#4167ad"/><circle cx="172.9" cy="158.4" r="0.48" fill="#4167ad"/><circle cx="180.2" cy="158.3" r="0.48" fill="#4167ad"/><circle cx="187.5" cy="158.2" r="0.48" fill="#4167ad"/><circle cx="194.8" cy="158.2" r="0.48" fill="#4167ad"/><path d="M201.5 158.2 201.6 158.2 201.5 158.3 202.6 158.2 201.6 157.6 201.7 157.8 201.6 157.7 z" fill="#416aaf"/><path d="M208.7 158.2 208.9 158.2 208.7 158.3 210.0 158.1 208.8 157.6 208.9 157.7 208.8 157.7 z" fill="#426cb0"/><path d="M216.0 158.2 216.1 158.2 216.0 158.4 217.4 157.9 216.0 157.5 216.1 157.7 216.0 157.7 z" fill="#436fb1"/><path d="M223.2 158.1 223.3 158.1 223.2 158.4 224.7 157.8 223.1 157.5 223.3 157.7 223.2 157.7 z" fill="#4471b2"/><path d="M230.4 158.1 230.6 158.1 230.4 158.3 232.1 157.8 230.4 157.4 230.6 157.6 230.4 157.6 z" fill="#4574b3"/><path d="M237.7 158.0 237.8 158.0 237.7 158.3 239.4 157.7 237.6 157.2 237.8 157.5 237.7 157.5 z" fill="#4676b5"/><path d="M244.9 157.9 245.1 157.9 244.9 158.2 246.7 157.6 244.9 157.1 245.1 157.5 244.9 157.5 z" fill="#4676b5"/><path d="M252.2 157.8 252.3 157.8 252.2 158.2 254.1 157.6 252.1 157.0 252.3 157.4 252.1 157.4 z" fill="#4878b6"/><path d="M259.5 157.7 259.7 157.7 259.5 158.0 261.3 157.5 259.5 157.0 259.7 157.3 259.5 157.3 z" fill="#4676b5"/><path d="M266.8 157.6 267.0 157.6 266.8 157.9 268.5 157.5 266.9 156.9 267.0 157.2 266.8 157.2 z" fill="#4574b3"/><path d="M274.1 157.5 274.3 157.5 274.1 157.8 275.8 157.4 274.2 156.8 274.3 157.1 274.2 157.1 z" fill="#4574b3"/><path d="M281.5 157.4 281.6 157.4 281.4 157.6 283.0 157.4 281.6 156.7 281.7 157.0 281.5 157.0 z" fill="#4471b2"/><path d="M288.8 157.3 289.0 157.3 288.8 157.5 290.2 157.3 288.9 156.7 289.0 156.9 288.9 156.9 z" fill="#436fb1"/><path d="M296.1 157.2 296.2 157.3 296.1 157.4 297.5 157.3 296.2 156.6 296.3 156.8 296.2 156.8 z" fill="#436fb1"/><path d="M303.4 157.2 303.5 157.2 303.4 157.4 304.8 157.2 303.5 156.5 303.6 156.8 303.5 156.7 z" fill="#436fb1"/><path d="M310.7 157.1 310.8 157.1 310.7 157.3 312.1 157.1 310.8 156.5 310.9 156.7 310.8 156.7 z" fill="#436fb1"/><path d="M318.0 157.0 318.1 157.1 318.0 157.2 319.4 157.1 318.1 156.4 318.2 156.6 318.1 156.6 z" fill="#436fb1"/><path d="M325.3 157.0 325.4 157.0 325.3 157.1 326.6 157.0 325.4 156.3 325.5 156.5 325.4 156.5 z" fill="#436fb1"/><path d="M332.6 156.9 332.7 156.9 332.6 157.1 333.9 156.9 332.7 156.3 332.8 156.5 332.7 156.5 z" fill="#426cb0"/><path d="M339.9 156.8 340.0 156.8 339.9 157.0 341.2 156.8 340.0 156.2 340.1 156.4 340.0 156.4 z" fill="#426cb0"/><path d="M347.2 156.8 347.3 156.8 347.2 156.9 348.5 156.7 347.3 156.2 347.4 156.4 347.3 156.3 z" fill="#426cb0"/><path d="M354.5 156.7 354.7 156.7 354.5 156.9 355.7 156.6 354.6 156.2 354.7 156.3 354.6 156.3 z" fill="#416aaf"/><path d="M361.9 156.7 362.0 156.7 361.9 156.8 363.0 156.5 361.9 156.1 362.0 156.3 361.9 156.2 z" fill="#416aaf"/><path d="M406.3 158.7 406.5 157.2 407.2 157.7 406.4 153.5 404.8 157.5 405.7 157.1 405.5 158.6 z" fill="#76afd2"/><path d="M413.6 158.6 413.8 157.1 414.5 157.6 413.7 153.4 412.1 157.4 412.9 157.1 412.8 158.5 z" fill="#76afd2"/><path d="M106.9 167.1 107.0 167.0 106.9 167.3 108.2 166.4 106.7 166.5 106.9 166.6 106.7 166.7 z" fill="#4471b2"/><path d="M114.2 167.0 114.3 166.9 114.2 167.2 115.5 166.4 114.0 166.3 114.2 166.5 114.1 166.5 z" fill="#436fb1"/><path d="M121.5 166.8 121.6 166.8 121.5 167.0 122.7 166.4 121.4 166.2 121.5 166.4 121.4 166.4 z" fill="#436fb1"/><path d="M128.8 166.7 128.9 166.7 128.8 166.9 130.0 166.4 128.7 166.1 128.9 166.3 128.7 166.3 z" fill="#426cb0"/><path d="M136.0 166.6 136.2 166.6 136.0 166.7 137.3 166.4 136.1 166.0 136.2 166.2 136.1 166.1 z" fill="#426cb0"/><path d="M143.3 166.5 143.5 166.5 143.3 166.6 144.5 166.4 143.4 165.9 143.5 166.0 143.4 166.0 z" fill="#416aaf"/><path d="M150.6 166.4 150.7 166.4 150.6 166.5 151.8 166.4 150.8 165.8 150.8 165.9 150.7 165.9 z" fill="#416aaf"/><path d="M157.9 166.2 158.0 166.3 157.9 166.3 159.1 166.4 158.1 165.7 158.2 165.8 158.1 165.8 z" fill="#416aaf"/><path d="M165.2 166.1 165.3 166.2 165.2 166.2 166.3 166.4 165.4 165.6 165.5 165.7 165.4 165.7 z" fill="#416aaf"/><path d="M172.5 166.0 172.6 166.1 172.5 166.1 173.6 166.3 172.8 165.5 172.8 165.7 172.7 165.6 z" fill="#416aaf"/><path d="M179.8 165.9 179.9 166.0 179.8 166.0 180.9 166.3 180.1 165.4 180.1 165.6 180.0 165.5 z" fill="#416aaf"/><path d="M187.1 165.8 187.2 165.9 187.1 165.9 188.1 166.2 187.4 165.4 187.5 165.5 187.4 165.5 z" fill="#416aaf"/><path d="M194.4 165.7 194.5 165.8 194.4 165.8 195.4 166.2 194.7 165.3 194.8 165.4 194.7 165.4 z" fill="#4167ad"/><path d="M201.7 165.7 201.8 165.8 201.6 165.8 202.7 166.1 202.0 165.2 202.0 165.4 201.9 165.3 z" fill="#416aaf"/><path d="M208.9 165.7 209.0 165.7 208.9 165.8 210.1 166.0 209.2 165.2 209.2 165.3 209.1 165.3 z" fill="#416aaf"/><path d="M216.2 165.7 216.3 165.7 216.1 165.8 217.4 165.9 216.4 165.1 216.5 165.3 216.3 165.2 z" fill="#426cb0"/><path d="M223.4 165.6 223.6 165.7 223.4 165.8 224.8 165.8 223.6 165.0 223.7 165.2 223.6 165.2 z" fill="#426cb0"/><path d="M230.7 165.6 230.8 165.6 230.6 165.7 232.1 165.7 230.9 164.9 231.0 165.2 230.8 165.1 z" fill="#436fb1"/><path d="M238.0 165.5 238.1 165.5 237.9 165.7 239.4 165.7 238.1 164.9 238.2 165.1 238.1 165.1 z" fill="#436fb1"/><path d="M245.2 165.4 245.4 165.5 245.2 165.6 246.7 165.6 245.4 164.8 245.5 165.0 245.3 165.0 z" fill="#4471b2"/><path d="M252.5 165.3 252.6 165.4 252.4 165.6 254.0 165.6 252.7 164.7 252.8 165.0 252.6 164.9 z" fill="#4471b2"/><path d="M259.8 165.3 259.9 165.3 259.7 165.5 261.3 165.5 260.0 164.6 260.1 164.9 259.9 164.8 z" fill="#4471b2"/><path d="M267.1 165.2 267.2 165.3 267.0 165.4 268.6 165.4 267.3 164.6 267.3 164.8 267.2 164.8 z" fill="#4471b2"/><path d="M274.4 165.1 274.5 165.2 274.3 165.4 275.9 165.4 274.6 164.5 274.6 164.8 274.5 164.7 z" fill="#4471b2"/><path d="M281.7 165.1 281.8 165.1 281.6 165.3 283.2 165.3 281.9 164.4 281.9 164.7 281.8 164.7 z" fill="#4471b2"/><path d="M289.0 165.0 289.1 165.1 288.9 165.2 290.4 165.2 289.2 164.4 289.3 164.6 289.1 164.6 z" fill="#436fb1"/><path d="M296.3 164.9 296.4 165.0 296.2 165.1 297.7 165.2 296.5 164.3 296.5 164.6 296.4 164.5 z" fill="#436fb1"/><path d="M303.6 164.9 303.7 164.9 303.5 165.1 305.0 165.1 303.8 164.3 303.8 164.5 303.7 164.5 z" fill="#436fb1"/><path d="M310.9 164.8 311.0 164.9 310.8 165.0 312.3 165.0 311.1 164.2 311.1 164.4 311.0 164.4 z" fill="#436fb1"/><path d="M318.2 164.8 318.3 164.8 318.1 164.9 319.5 165.0 318.4 164.2 318.4 164.4 318.3 164.3 z" fill="#436fb1"/><path d="M325.5 164.7 325.6 164.7 325.4 164.9 326.8 164.9 325.7 164.1 325.7 164.3 325.6 164.3 z" fill="#436fb1"/><path d="M332.8 164.6 332.9 164.7 332.7 164.8 334.1 164.8 332.9 164.0 333.0 164.2 332.9 164.2 z" fill="#436fb1"/><path d="M340.0 164.6 340.2 164.6 340.0 164.7 341.4 164.8 340.2 164.0 340.3 164.2 340.2 164.1 z" fill="#426cb0"/><path d="M347.4 164.5 347.5 164.6 347.3 164.7 348.6 164.7 347.5 164.0 347.6 164.1 347.5 164.1 z" fill="#426cb0"/><path d="M354.7 164.5 354.8 164.6 354.7 164.7 355.9 164.5 354.8 164.0 354.9 164.1 354.8 164.1 z" fill="#416aaf"/><path d="M406.5 166.6 406.7 165.0 407.4 165.5 406.6 161.3 405.0 165.3 405.8 165.0 405.7 166.6 z" fill="#78b0d3"/><path d="M413.8 166.6 413.9 165.0 414.7 165.4 413.9 161.3 412.3 165.2 413.1 164.9 413.0 166.5 z" fill="#78b0d3"/><path d="M107.1 174.6 107.2 174.6 107.2 174.8 108.3 174.2 107.0 174.0 107.2 174.2 107.0 174.2 z" fill="#426cb0"/><path d="M114.4 174.5 114.5 174.5 114.4 174.6 115.6 174.2 114.4 173.9 114.5 174.0 114.4 174.1 z" fill="#416aaf"/><path d="M121.7 174.4 121.8 174.4 121.7 174.5 122.9 174.2 121.7 173.8 121.8 173.9 121.7 173.9 z" fill="#416aaf"/><path d="M128.9 174.2 129.1 174.3 128.9 174.4 130.1 174.2 129.0 173.7 129.1 173.8 129.0 173.8 z" fill="#416aaf"/><path d="M136.2 174.1 136.3 174.1 136.2 174.2 137.4 174.2 136.4 173.6 136.5 173.7 136.3 173.7 z" fill="#416aaf"/><path d="M143.5 174.0 143.6 174.0 143.5 174.1 144.7 174.2 143.7 173.5 143.8 173.6 143.7 173.6 z" fill="#416aaf"/><path d="M150.8 173.9 150.9 173.9 150.7 174.0 152.0 174.2 151.0 173.4 151.1 173.5 151.0 173.5 z" fill="#426cb0"/><path d="M158.1 173.8 158.2 173.8 158.0 173.9 159.3 174.2 158.4 173.3 158.4 173.4 158.3 173.4 z" fill="#426cb0"/><path d="M165.4 173.7 165.5 173.7 165.3 173.8 166.5 174.2 165.7 173.2 165.7 173.4 165.6 173.3 z" fill="#426cb0"/><path d="M172.7 173.6 172.8 173.6 172.6 173.7 173.8 174.1 173.0 173.1 173.0 173.3 172.9 173.2 z" fill="#426cb0"/><path d="M180.0 173.5 180.1 173.5 179.9 173.6 181.0 174.1 180.4 173.0 180.4 173.2 180.3 173.1 z" fill="#426cb0"/><path d="M187.3 173.4 187.4 173.4 187.2 173.5 188.3 174.1 187.7 173.0 187.7 173.1 187.6 173.0 z" fill="#426cb0"/><path d="M194.6 173.3 194.7 173.3 194.5 173.3 195.5 174.1 195.1 172.9 195.0 173.1 194.9 173.0 z" fill="#426cb0"/><path d="M201.9 173.2 201.9 173.3 201.8 173.3 202.9 174.0 202.3 172.8 202.3 173.0 202.2 172.9 z" fill="#426cb0"/><path d="M209.1 173.2 209.2 173.2 209.0 173.3 210.2 173.9 209.6 172.7 209.5 172.9 209.5 172.8 z" fill="#426cb0"/><path d="M216.4 173.1 216.5 173.2 216.3 173.2 217.5 173.9 216.8 172.7 216.8 172.9 216.7 172.8 z" fill="#426cb0"/><path d="M223.7 173.1 223.8 173.2 223.6 173.2 224.8 173.8 224.1 172.6 224.1 172.8 224.0 172.7 z" fill="#436fb1"/><path d="M230.9 173.0 231.0 173.1 230.8 173.1 232.1 173.7 231.4 172.5 231.4 172.8 231.3 172.7 z" fill="#436fb1"/><path d="M238.2 172.9 238.3 173.0 238.1 173.1 239.4 173.7 238.7 172.5 238.6 172.7 238.5 172.6 z" fill="#436fb1"/><path d="M245.5 172.9 245.6 173.0 245.4 173.0 246.7 173.6 245.9 172.4 245.9 172.6 245.8 172.5 z" fill="#436fb1"/><path d="M252.8 172.8 252.9 172.9 252.7 173.0 254.0 173.6 253.2 172.3 253.2 172.6 253.1 172.5 z" fill="#436fb1"/><path d="M260.1 172.8 260.2 172.9 259.9 173.0 261.3 173.5 260.5 172.3 260.4 172.5 260.3 172.4 z" fill="#436fb1"/><path d="M267.3 172.8 267.4 172.9 267.2 173.0 268.6 173.4 267.7 172.2 267.7 172.5 267.6 172.4 z" fill="#436fb1"/><path d="M274.6 172.8 274.7 172.8 274.5 173.0 276.0 173.3 274.9 172.2 274.9 172.5 274.8 172.4 z" fill="#436fb1"/><path d="M281.9 172.8 282.0 172.8 281.8 173.0 283.3 173.2 282.1 172.2 282.2 172.4 282.0 172.4 z" fill="#4471b2"/><path d="M289.2 172.7 289.3 172.8 289.1 172.9 290.6 173.1 289.4 172.1 289.5 172.4 289.3 172.3 z" fill="#4471b2"/><path d="M296.4 172.6 296.6 172.7 296.4 172.8 297.9 173.1 296.7 172.0 296.8 172.3 296.6 172.2 z" fill="#436fb1"/><path d="M303.7 172.6 303.9 172.6 303.6 172.8 305.1 173.0 304.0 172.0 304.1 172.2 303.9 172.2 z" fill="#436fb1"/><path d="M311.0 172.5 311.2 172.6 310.9 172.7 312.4 172.9 311.3 171.9 311.4 172.2 311.2 172.1 z" fill="#436fb1"/><path d="M318.3 172.5 318.5 172.5 318.3 172.6 319.7 172.9 318.6 171.9 318.7 172.1 318.5 172.1 z" fill="#436fb1"/><path d="M325.6 172.4 325.8 172.5 325.6 172.6 327.0 172.8 325.9 171.8 326.0 172.1 325.8 172.0 z" fill="#436fb1"/><path d="M332.9 172.4 333.0 172.4 332.8 172.5 334.3 172.8 333.2 171.8 333.2 172.0 333.1 172.0 z" fill="#436fb1"/><path d="M340.2 172.3 340.3 172.4 340.1 172.5 341.5 172.7 340.5 171.7 340.5 172.0 340.4 171.9 z" fill="#436fb1"/><path d="M347.5 172.3 347.7 172.4 347.5 172.5 348.8 172.6 347.8 171.8 347.8 171.9 347.7 171.9 z" fill="#426cb0"/><path d="M354.9 172.3 355.0 172.4 354.9 172.5 356.1 172.4 355.0 171.8 355.1 171.9 355.0 171.9 z" fill="#416aaf"/><path d="M406.7 174.6 406.8 172.9 407.6 173.3 406.8 169.1 405.2 173.1 406.0 172.8 405.9 174.5 z" fill="#7ab2d4"/><path d="M414.0 174.5 414.1 172.8 414.9 173.3 414.1 169.1 412.5 173.1 413.3 172.7 413.2 174.5 z" fill="#7ab2d4"/><circle cx="107.9" cy="181.9" r="0.48" fill="#4167ad"/><circle cx="115.2" cy="181.9" r="0.48" fill="#4167ad"/><path d="M121.9 181.9 122.0 181.9 121.9 182.0 123.0 182.0 122.0 181.4 122.1 181.5 122.0 181.5 z" fill="#4167ad"/><path d="M129.1 181.8 129.2 181.8 129.1 181.9 130.3 182.0 129.4 181.3 129.4 181.4 129.3 181.4 z" fill="#416aaf"/><path d="M136.4 181.6 136.5 181.7 136.3 181.7 137.5 182.0 136.7 181.1 136.7 181.3 136.6 181.2 z" fill="#416aaf"/><path d="M143.7 181.5 143.8 181.6 143.6 181.7 144.8 182.0 144.0 181.0 144.0 181.2 143.9 181.2 z" fill="#426cb0"/><path d="M151.0 181.4 151.1 181.5 150.9 181.6 152.1 182.0 151.3 180.9 151.3 181.1 151.2 181.1 z" fill="#426cb0"/><path d="M158.2 181.4 158.3 181.4 158.1 181.5 159.4 182.0 158.6 180.9 158.6 181.1 158.5 181.0 z" fill="#426cb0"/><path d="M165.5 181.3 165.6 181.3 165.4 181.4 166.7 181.9 165.9 180.8 165.9 181.0 165.8 180.9 z" fill="#426cb0"/><path d="M172.9 181.2 172.9 181.3 172.7 181.3 173.9 181.9 173.3 180.7 173.3 180.9 173.2 180.8 z" fill="#426cb0"/><path d="M180.2 181.1 180.3 181.2 180.1 181.2 181.2 181.9 180.6 180.7 180.6 180.9 180.5 180.8 z" fill="#426cb0"/><path d="M187.5 181.0 187.6 181.1 187.4 181.0 188.4 181.9 188.0 180.6 187.9 180.8 187.9 180.7 z" fill="#426cb0"/><path d="M194.8 180.8 194.9 181.0 194.7 180.9 195.6 181.9 195.4 180.5 195.3 180.7 195.2 180.6 z" fill="#426cb0"/><path d="M202.1 180.8 202.2 180.9 202.0 180.9 202.9 181.8 202.7 180.5 202.6 180.7 202.5 180.6 z" fill="#436fb1"/><path d="M209.4 180.7 209.5 180.8 209.2 180.8 210.2 181.8 210.0 180.4 209.8 180.6 209.8 180.5 z" fill="#436fb1"/><path d="M216.7 180.6 216.7 180.7 216.5 180.7 217.5 181.8 217.2 180.3 217.1 180.5 217.1 180.4 z" fill="#436fb1"/><path d="M223.9 180.5 224.0 180.7 223.7 180.6 224.8 181.7 224.5 180.2 224.4 180.5 224.3 180.3 z" fill="#4471b2"/><path d="M231.2 180.5 231.3 180.6 231.0 180.6 232.1 181.7 231.8 180.2 231.7 180.4 231.6 180.3 z" fill="#4471b2"/><path d="M238.5 180.4 238.6 180.6 238.3 180.5 239.4 181.6 239.1 180.1 239.0 180.3 238.9 180.2 z" fill="#4471b2"/><path d="M245.8 180.4 245.9 180.5 245.6 180.5 246.7 181.6 246.4 180.1 246.3 180.3 246.2 180.2 z" fill="#4471b2"/><path d="M253.1 180.3 253.2 180.4 252.9 180.4 254.0 181.5 253.7 180.0 253.6 180.2 253.5 180.1 z" fill="#4471b2"/><path d="M260.3 180.3 260.4 180.5 260.2 180.5 261.4 181.4 260.9 180.0 260.8 180.2 260.7 180.1 z" fill="#4471b2"/><path d="M267.6 180.4 267.7 180.5 267.4 180.5 268.7 181.3 268.1 179.9 268.0 180.2 267.9 180.1 z" fill="#436fb1"/><path d="M274.8 180.4 274.9 180.5 274.7 180.6 276.1 181.2 275.2 179.9 275.2 180.2 275.1 180.1 z" fill="#436fb1"/><path d="M282.1 180.4 282.2 180.5 281.9 180.6 283.4 181.1 282.4 179.9 282.4 180.1 282.3 180.1 z" fill="#4471b2"/><path d="M289.3 180.4 289.5 180.5 289.2 180.6 290.8 181.0 289.6 179.9 289.7 180.1 289.5 180.1 z" fill="#4471b2"/><path d="M296.6 180.4 296.7 180.5 296.5 180.6 298.0 180.9 296.9 179.8 297.0 180.1 296.8 180.0 z" fill="#4471b2"/><path d="M303.9 180.4 304.0 180.4 303.8 180.6 305.3 180.8 304.2 179.8 304.2 180.0 304.1 180.0 z" fill="#4471b2"/><path d="M311.2 180.3 311.3 180.4 311.1 180.5 312.6 180.8 311.5 179.7 311.5 180.0 311.4 179.9 z" fill="#436fb1"/><path d="M318.5 180.3 318.6 180.3 318.4 180.4 319.9 180.7 318.8 179.7 318.9 179.9 318.7 179.9 z" fill="#436fb1"/><path d="M325.8 180.2 325.9 180.3 325.7 180.4 327.1 180.7 326.1 179.7 326.1 179.9 326.0 179.8 z" fill="#436fb1"/><path d="M333.1 180.2 333.2 180.2 333.0 180.3 334.4 180.6 333.4 179.6 333.4 179.8 333.3 179.8 z" fill="#436fb1"/><path d="M340.4 180.1 340.5 180.2 340.3 180.3 341.7 180.5 340.7 179.6 340.7 179.8 340.6 179.7 z" fill="#436fb1"/><path d="M347.7 180.2 347.8 180.2 347.7 180.3 349.0 180.4 348.0 179.6 348.0 179.8 347.9 179.7 z" fill="#426cb0"/><path d="M399.6 182.4 399.7 181.0 400.5 181.5 399.7 177.3 398.1 181.2 398.9 180.9 398.8 182.3 z" fill="#76afd2"/><path d="M406.9 182.4 407.0 180.9 407.8 181.4 406.9 177.2 405.4 181.1 406.2 180.8 406.1 182.3 z" fill="#76afd2"/><path d="M414.2 182.3 414.3 180.8 415.1 181.3 414.2 177.1 412.6 181.1 413.5 180.8 413.4 182.3 z" fill="#76afd2"/><circle cx="108.1" cy="189.6" r="0.48" fill="#4065ac"/><circle cx="115.3" cy="189.5" r="0.48" fill="#4065ac"/><circle cx="122.6" cy="189.5" r="0.48" fill="#4065ac"/><circle cx="129.9" cy="189.4" r="0.48" fill="#4167ad"/><path d="M136.6 189.4 136.7 189.4 136.5 189.5 137.7 189.6 136.8 188.8 136.9 189.0 136.8 189.0 z" fill="#416aaf"/><circle cx="144.5" cy="189.3" r="0.48" fill="#4167ad"/><circle cx="151.8" cy="189.3" r="0.48" fill="#4065ac"/><circle cx="159.1" cy="189.2" r="0.48" fill="#3e60aa"/><circle cx="166.4" cy="189.2" r="0.48" fill="#3e5ea8"/><circle cx="173.7" cy="189.2" r="0.48" fill="#3e5ea8"/><circle cx="180.9" cy="189.1" r="0.48" fill="#3e5ea8"/><circle cx="188.2" cy="189.1" r="0.48" fill="#3e60aa"/><circle cx="195.5" cy="189.0" r="0.48" fill="#3e60aa"/><circle cx="202.8" cy="189.0" r="0.48" fill="#4065ac"/><circle cx="210.1" cy="188.9" r="0.48" fill="#4167ad"/><path d="M217.0 188.3 217.0 188.5 216.8 188.4 217.6 189.5 217.5 188.1 217.4 188.3 217.4 188.2 z" fill="#426cb0"/><path d="M224.2 188.2 224.3 188.3 224.0 188.3 224.9 189.5 224.8 188.0 224.7 188.2 224.6 188.0 z" fill="#4471b2"/><path d="M231.5 188.1 231.5 188.3 231.3 188.2 232.2 189.5 232.1 187.9 232.0 188.1 231.9 188.0 z" fill="#4471b2"/><path d="M238.8 188.1 238.8 188.2 238.6 188.2 239.5 189.4 239.4 187.9 239.3 188.1 239.2 187.9 z" fill="#4471b2"/><path d="M246.1 188.0 246.1 188.2 245.9 188.1 246.8 189.4 246.7 187.8 246.5 188.0 246.5 187.9 z" fill="#4471b2"/><path d="M253.4 188.0 253.4 188.1 253.1 188.1 254.1 189.4 254.0 187.8 253.8 188.0 253.8 187.8 z" fill="#4471b2"/><path d="M260.6 188.0 260.7 188.2 260.4 188.1 261.4 189.2 261.2 187.7 261.1 188.0 261.0 187.8 z" fill="#4471b2"/><path d="M267.8 188.1 267.9 188.2 267.7 188.2 268.8 189.1 268.4 187.7 268.3 187.9 268.2 187.8 z" fill="#436fb1"/><path d="M275.1 188.1 275.1 188.2 274.9 188.2 276.2 189.0 275.5 187.7 275.5 187.9 275.4 187.8 z" fill="#436fb1"/><path d="M282.3 188.1 282.4 188.2 282.2 188.3 283.5 188.9 282.7 187.6 282.7 187.9 282.6 187.8 z" fill="#436fb1"/><path d="M289.5 188.3 289.6 188.4 289.4 188.5 291.0 188.7 289.8 187.7 289.8 188.0 289.7 187.9 z" fill="#4471b2"/><path d="M296.8 188.3 296.9 188.3 296.7 188.5 298.3 188.6 297.0 187.6 297.1 187.9 297.0 187.9 z" fill="#4471b2"/><path d="M304.1 188.3 304.2 188.3 304.0 188.5 305.5 188.6 304.3 187.6 304.4 187.9 304.2 187.8 z" fill="#4471b2"/><path d="M311.4 188.2 311.5 188.3 311.3 188.4 312.8 188.5 311.6 187.6 311.7 187.9 311.5 187.8 z" fill="#436fb1"/><path d="M318.7 188.2 318.8 188.2 318.6 188.4 320.1 188.4 318.9 187.6 319.0 187.8 318.9 187.8 z" fill="#436fb1"/><path d="M326.0 188.2 326.1 188.2 325.9 188.3 327.4 188.4 326.2 187.6 326.3 187.8 326.2 187.7 z" fill="#436fb1"/><path d="M333.3 188.1 333.4 188.2 333.2 188.3 334.6 188.3 333.5 187.5 333.6 187.7 333.5 187.7 z" fill="#436fb1"/><path d="M340.6 188.1 340.7 188.1 340.5 188.2 341.9 188.3 340.8 187.5 340.9 187.7 340.7 187.6 z" fill="#426cb0"/><path d="M347.9 188.1 348.0 188.1 347.9 188.2 349.2 188.2 348.1 187.5 348.2 187.7 348.1 187.6 z" fill="#426cb0"/><path d="M399.8 190.0 399.9 189.1 400.7 189.6 399.8 185.4 398.2 189.4 399.1 189.0 399.0 190.0 z" fill="#6ea6ce"/><path d="M407.1 190.0 407.2 189.0 408.0 189.5 407.1 185.3 405.5 189.3 406.4 189.0 406.3 189.9 z" fill="#6ea6ce"/><path d="M414.4 190.0 414.5 189.0 415.3 189.5 414.4 185.3 412.8 189.2 413.7 188.9 413.6 189.9 z" fill="#6ea6ce"/><circle cx="108.2" cy="197.2" r="0.48" fill="#3f62ab"/><circle cx="115.5" cy="197.2" r="0.48" fill="#3f62ab"/><circle cx="122.8" cy="197.1" r="0.48" fill="#4065ac"/><circle cx="130.1" cy="197.1" r="0.48" fill="#4167ad"/><path d="M136.8 197.1 136.9 197.2 136.7 197.2 137.9 197.2 136.9 196.6 137.0 196.7 136.9 196.7 z" fill="#416aaf"/><circle cx="144.7" cy="197.0" r="0.48" fill="#3f62ab"/><circle cx="152.0" cy="197.0" r="0.48" fill="#3e5ea8"/><circle cx="159.3" cy="196.9" r="0.48" fill="#3b56a5"/><circle cx="166.5" cy="196.9" r="0.48" fill="#3d5ba7"/><circle cx="173.8" cy="196.9" r="0.48" fill="#3d5ba7"/><circle cx="181.1" cy="196.8" r="0.48" fill="#3d5ba7"/><circle cx="188.4" cy="196.8" r="0.48" fill="#3d5ba7"/><circle cx="195.7" cy="196.7" r="0.48" fill="#3e5ea8"/><circle cx="203.0" cy="196.7" r="0.48" fill="#3e5ea8"/><circle cx="210.3" cy="196.6" r="0.48" fill="#3f62ab"/><path d="M217.3 196.1 217.3 196.2 217.2 196.1 217.6 197.2 217.8 196.0 217.7 196.1 217.7 196.0 z" fill="#416aaf"/><path d="M224.5 195.9 224.5 196.0 224.2 195.9 225.0 197.3 225.1 195.7 224.9 195.9 224.9 195.8 z" fill="#4471b2"/><path d="M231.8 195.8 231.8 196.0 231.5 195.9 232.3 197.3 232.4 195.7 232.2 195.9 232.2 195.7 z" fill="#4471b2"/><path d="M239.1 195.8 239.1 195.9 238.8 195.8 239.6 197.2 239.7 195.6 239.5 195.8 239.5 195.7 z" fill="#4471b2"/><path d="M246.3 195.7 246.4 195.9 246.1 195.8 246.9 197.2 247.0 195.6 246.8 195.8 246.8 195.6 z" fill="#4471b2"/><path d="M253.6 195.7 253.7 195.8 253.4 195.7 254.2 197.2 254.3 195.5 254.1 195.7 254.1 195.6 z" fill="#4471b2"/><path d="M260.9 195.7 260.9 195.9 260.6 195.8 261.5 197.1 261.5 195.5 261.3 195.7 261.3 195.6 z" fill="#4471b2"/><path d="M268.1 195.8 268.1 195.9 267.9 195.9 268.9 197.0 268.7 195.5 268.5 195.7 268.5 195.6 z" fill="#436fb1"/><path d="M275.3 195.8 275.4 195.9 275.1 195.9 276.3 196.9 275.8 195.4 275.7 195.7 275.7 195.6 z" fill="#436fb1"/><path d="M282.5 195.8 282.6 196.0 282.4 196.0 283.7 196.8 283.0 195.4 283.0 195.7 282.9 195.5 z" fill="#436fb1"/><path d="M289.7 196.2 289.8 196.2 289.6 196.4 291.2 196.4 289.9 195.5 290.0 195.8 289.8 195.7 z" fill="#4471b2"/><path d="M296.9 196.1 297.1 196.2 296.9 196.4 298.5 196.4 297.2 195.5 297.2 195.8 297.1 195.7 z" fill="#4471b2"/><path d="M304.3 196.2 304.4 196.2 304.2 196.4 305.8 196.3 304.4 195.5 304.5 195.8 304.4 195.7 z" fill="#4471b2"/><path d="M311.6 196.2 311.7 196.2 311.5 196.3 313.0 196.2 311.7 195.5 311.8 195.7 311.7 195.7 z" fill="#436fb1"/><path d="M318.9 196.1 319.0 196.1 318.9 196.3 320.3 196.2 319.0 195.5 319.1 195.7 319.0 195.7 z" fill="#436fb1"/><path d="M326.2 196.1 326.3 196.1 326.2 196.3 327.6 196.1 326.3 195.5 326.4 195.7 326.3 195.6 z" fill="#436fb1"/><path d="M333.5 196.0 333.6 196.1 333.5 196.2 334.8 196.1 333.6 195.4 333.7 195.6 333.6 195.6 z" fill="#426cb0"/><path d="M340.8 196.0 340.9 196.0 340.8 196.2 342.1 196.0 340.9 195.4 341.0 195.6 340.9 195.6 z" fill="#426cb0"/><path d="M407.3 197.7 407.4 197.2 408.1 197.7 407.3 193.5 405.7 197.4 406.5 197.1 406.5 197.6 z" fill="#679ec9"/><path d="M414.6 197.6 414.6 197.1 415.4 197.6 414.6 193.4 413.0 197.4 413.8 197.1 413.8 197.5 z" fill="#679ec9"/><circle cx="108.4" cy="204.9" r="0.48" fill="#4065ac"/><circle cx="115.7" cy="204.8" r="0.48" fill="#3f62ab"/><circle cx="123.0" cy="204.8" r="0.48" fill="#3f62ab"/><circle cx="130.3" cy="204.8" r="0.48" fill="#4065ac"/><path d="M137.0 204.9 137.1 204.9 136.9 205.0 138.1 204.8 137.0 204.3 137.1 204.4 137.0 204.4 z" fill="#416aaf"/><circle cx="144.9" cy="204.7" r="0.48" fill="#3e60aa"/><circle cx="152.1" cy="204.7" r="0.48" fill="#3d5ba7"/><circle cx="159.4" cy="204.6" r="0.48" fill="#3f62ab"/><path d="M167.3 204.8 167.2 204.7 167.4 204.7 166.3 204.2 167.0 205.3 167.0 205.1 167.0 205.2 z" fill="#426cb0"/><path d="M174.6 204.7 174.5 204.6 174.7 204.6 173.5 204.2 174.3 205.2 174.3 205.0 174.4 205.1 z" fill="#416aaf"/><path d="M181.9 204.6 181.8 204.6 182.0 204.5 180.8 204.2 181.6 205.1 181.6 204.9 181.7 205.0 z" fill="#416aaf"/><path d="M189.2 204.5 189.1 204.5 189.2 204.4 188.1 204.2 188.9 205.0 188.9 204.9 189.0 204.9 z" fill="#416aaf"/><circle cx="195.9" cy="204.4" r="0.48" fill="#4167ad"/><circle cx="203.2" cy="204.4" r="0.48" fill="#3f62ab"/><circle cx="210.5" cy="204.4" r="0.48" fill="#3f62ab"/><path d="M217.6 203.8 217.6 203.9 217.5 203.7 217.7 204.9 218.2 203.8 218.0 203.9 218.0 203.8 z" fill="#416aaf"/><path d="M224.8 203.5 224.8 203.7 224.5 203.5 225.1 205.1 225.5 203.5 225.2 203.6 225.2 203.5 z" fill="#4574b3"/><path d="M232.0 203.5 232.0 203.6 231.8 203.5 232.4 205.1 232.7 203.4 232.5 203.6 232.5 203.4 z" fill="#4574b3"/><path d="M239.3 203.4 239.3 203.6 239.1 203.5 239.7 205.0 240.0 203.4 239.8 203.6 239.8 203.4 z" fill="#4574b3"/><path d="M246.6 203.4 246.6 203.6 246.4 203.4 247.0 205.0 247.3 203.3 247.1 203.5 247.1 203.4 z" fill="#4574b3"/><path d="M253.9 203.4 253.9 203.5 253.6 203.4 254.3 205.0 254.6 203.3 254.4 203.5 254.4 203.3 z" fill="#4574b3"/><path d="M261.1 203.4 261.1 203.6 260.9 203.5 261.6 204.9 261.8 203.3 261.6 203.5 261.6 203.3 z" fill="#4471b2"/><path d="M268.3 203.5 268.4 203.6 268.1 203.5 269.0 204.8 269.0 203.2 268.8 203.5 268.8 203.3 z" fill="#4471b2"/><path d="M275.5 203.5 275.6 203.6 275.3 203.6 276.4 204.7 276.1 203.2 276.0 203.4 275.9 203.3 z" fill="#4471b2"/><path d="M282.8 203.5 282.8 203.7 282.6 203.7 283.8 204.6 283.3 203.2 283.2 203.4 283.1 203.3 z" fill="#4471b2"/><path d="M289.8 204.0 290.0 204.1 289.8 204.2 291.4 204.2 290.0 203.3 290.1 203.6 290.0 203.6 z" fill="#4471b2"/><path d="M297.1 204.0 297.3 204.0 297.1 204.2 298.7 204.1 297.3 203.3 297.4 203.6 297.2 203.6 z" fill="#4471b2"/><path d="M304.4 204.1 304.6 204.1 304.4 204.3 306.0 204.0 304.5 203.4 304.6 203.6 304.5 203.6 z" fill="#4471b2"/><path d="M311.8 204.1 311.9 204.1 311.8 204.3 313.2 203.9 311.8 203.4 311.9 203.6 311.8 203.6 z" fill="#436fb1"/><path d="M319.1 204.0 319.2 204.0 319.1 204.2 320.5 203.9 319.1 203.4 319.3 203.6 319.1 203.6 z" fill="#436fb1"/><path d="M326.4 204.0 326.5 204.0 326.4 204.2 327.8 203.9 326.4 203.4 326.6 203.6 326.4 203.5 z" fill="#436fb1"/><path d="M333.7 204.0 333.8 204.0 333.7 204.1 335.0 203.8 333.7 203.3 333.9 203.5 333.7 203.5 z" fill="#426cb0"/><path d="M341.0 203.9 341.1 203.9 341.0 204.1 342.3 203.8 341.0 203.3 341.2 203.5 341.0 203.5 z" fill="#426cb0"/><path d="M407.5 205.3 407.5 204.9 408.2 205.4 407.4 201.6 406.0 205.2 406.8 204.9 406.7 205.2 z" fill="#6095c4"/><path d="M414.8 205.2 414.8 204.9 415.5 205.3 414.7 201.6 413.3 205.1 414.1 204.8 414.0 205.2 z" fill="#6095c4"/><path d="M108.8 213.1 108.8 213.0 108.9 213.1 108.6 211.9 108.2 213.1 108.4 213.0 108.4 213.1 z" fill="#416aaf"/><circle cx="115.9" cy="212.5" r="0.48" fill="#4167ad"/><circle cx="123.2" cy="212.4" r="0.48" fill="#4065ac"/><circle cx="130.5" cy="212.4" r="0.48" fill="#4167ad"/><path d="M137.2 212.6 137.3 212.6 137.2 212.8 138.3 212.4 137.1 212.0 137.3 212.2 137.1 212.2 z" fill="#426cb0"/><circle cx="145.0" cy="212.4" r="0.48" fill="#3e60aa"/><circle cx="152.3" cy="212.3" r="0.48" fill="#3f62ab"/><path d="M160.2 212.6 160.1 212.5 160.3 212.5 159.2 211.8 159.7 213.0 159.8 212.8 159.9 212.9 z" fill="#426cb0"/><path d="M167.8 212.7 167.7 212.6 168.1 212.5 166.1 211.6 167.3 213.4 167.4 213.0 167.5 213.1 z" fill="#4a7ab7"/><path d="M175.1 212.7 174.9 212.5 175.3 212.4 173.4 211.7 174.6 213.3 174.7 212.9 174.8 213.0 z" fill="#4878b6"/><path d="M182.3 212.6 182.2 212.5 182.5 212.3 180.8 211.7 181.9 213.2 181.9 212.8 182.1 212.9 z" fill="#4676b5"/><path d="M189.6 212.5 189.5 212.4 189.8 212.2 188.1 211.7 189.2 213.1 189.2 212.7 189.4 212.8 z" fill="#4574b3"/><path d="M196.9 212.4 196.7 212.3 197.0 212.1 195.4 211.8 196.5 213.0 196.5 212.7 196.6 212.8 z" fill="#4574b3"/><path d="M203.9 212.0 203.8 212.0 203.9 211.9 202.8 212.0 203.8 212.6 203.7 212.5 203.8 212.5 z" fill="#4167ad"/><circle cx="210.6" cy="212.1" r="0.48" fill="#3f62ab"/><circle cx="217.9" cy="212.1" r="0.48" fill="#4065ac"/><path d="M224.9 211.4 225.0 211.5 224.8 211.4 225.3 212.7 225.6 211.3 225.4 211.5 225.4 211.3 z" fill="#436fb1"/><path d="M232.2 211.4 232.2 211.5 232.0 211.4 232.6 212.7 232.8 211.3 232.7 211.5 232.7 211.3 z" fill="#436fb1"/><path d="M239.5 211.3 239.5 211.5 239.3 211.4 239.9 212.6 240.1 211.3 240.0 211.4 239.9 211.3 z" fill="#436fb1"/><path d="M246.8 211.3 246.8 211.5 246.6 211.4 247.2 212.6 247.4 211.3 247.2 211.4 247.2 211.3 z" fill="#426cb0"/><path d="M254.1 211.3 254.1 211.5 253.9 211.4 254.5 212.6 254.7 211.2 254.5 211.4 254.5 211.3 z" fill="#426cb0"/><path d="M261.3 211.4 261.3 211.5 261.1 211.4 261.9 212.5 261.8 211.2 261.7 211.4 261.7 211.2 z" fill="#426cb0"/><path d="M268.5 211.4 268.5 211.5 268.3 211.5 269.2 212.4 269.0 211.2 268.9 211.3 268.9 211.2 z" fill="#426cb0"/><path d="M275.7 211.5 275.8 211.6 275.6 211.6 276.6 212.3 276.2 211.1 276.1 211.3 276.0 211.2 z" fill="#426cb0"/><path d="M282.9 211.5 283.0 211.6 282.8 211.7 284.0 212.3 283.3 211.1 283.3 211.3 283.2 211.2 z" fill="#436fb1"/><path d="M289.9 211.8 290.0 211.9 289.8 212.2 291.7 212.0 290.0 211.1 290.1 211.4 289.9 211.4 z" fill="#4878b6"/><path d="M297.1 211.8 297.3 211.8 297.0 212.1 299.1 211.9 297.3 211.0 297.4 211.4 297.2 211.3 z" fill="#4878b6"/><path d="M304.6 211.9 304.7 211.9 304.5 212.2 306.2 211.8 304.6 211.2 304.8 211.4 304.6 211.4 z" fill="#4574b3"/><path d="M311.9 211.9 312.1 211.9 311.9 212.1 313.4 211.7 312.0 211.2 312.1 211.5 312.0 211.5 z" fill="#4471b2"/><path d="M319.3 211.9 319.4 211.9 319.3 212.1 320.7 211.7 319.3 211.3 319.4 211.4 319.3 211.4 z" fill="#436fb1"/><path d="M326.6 211.9 326.7 211.9 326.6 212.0 327.9 211.6 326.6 211.2 326.7 211.4 326.6 211.4 z" fill="#426cb0"/><path d="M333.9 211.8 334.0 211.8 333.9 212.0 335.2 211.6 333.9 211.2 334.0 211.4 333.9 211.4 z" fill="#426cb0"/><path d="M341.2 211.8 341.3 211.8 341.2 212.0 342.5 211.6 341.2 211.2 341.3 211.4 341.2 211.4 z" fill="#426cb0"/><path d="M108.9 220.9 108.9 220.7 109.1 220.9 108.9 219.5 108.3 220.8 108.5 220.7 108.5 220.8 z" fill="#436fb1"/><path d="M116.0 220.8 116.1 220.7 116.2 220.9 116.3 219.5 115.5 220.6 115.7 220.5 115.6 220.6 z" fill="#426cb0"/><path d="M123.1 220.8 123.2 220.7 123.3 220.9 123.7 219.6 122.6 220.4 122.9 220.4 122.8 220.5 z" fill="#426cb0"/><path d="M130.2 220.7 130.3 220.6 130.4 220.9 131.2 219.6 129.8 220.2 130.1 220.3 129.9 220.4 z" fill="#436fb1"/><path d="M137.3 220.6 137.5 220.6 137.5 220.9 138.6 219.7 137.0 220.0 137.3 220.2 137.1 220.2 z" fill="#4574b3"/><path d="M145.1 220.6 145.1 220.5 145.2 220.7 145.6 219.6 144.6 220.3 144.8 220.3 144.7 220.4 z" fill="#416aaf"/><path d="M152.8 220.5 152.8 220.4 152.9 220.5 152.5 219.5 152.2 220.6 152.3 220.5 152.3 220.6 z" fill="#416aaf"/><path d="M160.4 220.5 160.3 220.4 160.6 220.4 159.4 219.4 159.8 220.9 159.9 220.6 160.0 220.7 z" fill="#4471b2"/><path d="M168.0 220.5 167.9 220.4 168.3 220.2 166.3 219.3 167.4 221.1 167.6 220.7 167.7 220.8 z" fill="#4b7db8"/><path d="M175.3 220.4 175.1 220.3 175.5 220.1 173.6 219.3 174.8 221.0 174.8 220.6 175.0 220.7 z" fill="#4a7ab7"/><path d="M182.5 220.3 182.4 220.2 182.7 220.0 180.9 219.4 182.1 220.9 182.1 220.5 182.3 220.7 z" fill="#4878b6"/><path d="M189.8 220.2 189.6 220.1 190.0 219.9 188.2 219.4 189.4 220.8 189.4 220.5 189.5 220.6 z" fill="#4574b3"/><path d="M197.0 220.1 196.9 220.0 197.2 219.9 195.6 219.5 196.7 220.7 196.7 220.4 196.8 220.5 z" fill="#4471b2"/><path d="M204.1 219.9 204.0 219.9 204.1 219.8 203.1 219.6 203.8 220.4 203.8 220.3 203.9 220.3 z" fill="#4167ad"/><circle cx="210.8" cy="219.8" r="0.48" fill="#3e5ea8"/><circle cx="218.1" cy="219.8" r="0.48" fill="#3b56a5"/><circle cx="225.4" cy="219.8" r="0.48" fill="#3e60aa"/><circle cx="232.7" cy="219.8" r="0.48" fill="#3e60aa"/><circle cx="240.0" cy="219.7" r="0.48" fill="#3e60aa"/><circle cx="247.3" cy="219.7" r="0.48" fill="#3f62ab"/><circle cx="254.6" cy="219.7" r="0.48" fill="#3f62ab"/><circle cx="261.8" cy="219.7" r="0.48" fill="#4167ad"/><path d="M268.6 219.9 268.7 219.9 268.6 220.0 269.7 219.6 268.5 219.3 268.7 219.4 268.5 219.4 z" fill="#416aaf"/><path d="M275.8 219.9 275.9 219.9 275.8 220.1 277.1 219.6 275.7 219.2 275.9 219.4 275.7 219.4 z" fill="#436fb1"/><path d="M282.9 219.9 283.1 219.9 283.0 220.1 284.5 219.6 282.9 219.2 283.1 219.4 282.9 219.4 z" fill="#4471b2"/><path d="M289.7 219.6 289.9 219.7 289.6 220.1 292.3 219.8 289.9 218.6 290.0 219.2 289.8 219.1 z" fill="#5183bb"/><path d="M296.9 219.5 297.1 219.6 296.7 220.1 299.7 219.9 297.1 218.4 297.3 219.0 297.0 219.0 z" fill="#5588be"/><path d="M304.6 219.6 304.8 219.6 304.5 220.0 306.6 219.7 304.7 218.8 304.8 219.2 304.6 219.2 z" fill="#4878b6"/><path d="M312.1 219.7 312.3 219.7 312.1 219.9 313.6 219.6 312.2 219.0 312.3 219.2 312.1 219.2 z" fill="#4471b2"/><path d="M319.5 219.7 319.6 219.7 319.5 219.9 320.8 219.5 319.5 219.1 319.6 219.3 319.5 219.3 z" fill="#426cb0"/><path d="M326.8 219.7 327.0 219.7 326.8 219.8 328.1 219.5 326.8 219.1 327.0 219.2 326.8 219.2 z" fill="#426cb0"/><path d="M334.1 219.7 334.3 219.7 334.1 219.8 335.3 219.4 334.1 219.1 334.3 219.2 334.1 219.2 z" fill="#426cb0"/><path d="M341.4 219.6 341.6 219.6 341.4 219.8 342.6 219.4 341.4 219.1 341.6 219.2 341.4 219.2 z" fill="#416aaf"/><path d="M109.0 228.6 109.0 228.4 109.2 228.6 109.1 227.0 108.3 228.4 108.6 228.3 108.6 228.5 z" fill="#4471b2"/><path d="M116.1 228.6 116.2 228.5 116.4 228.7 116.6 227.0 115.5 228.3 115.8 228.3 115.7 228.4 z" fill="#4574b3"/><path d="M123.2 228.6 123.3 228.5 123.5 228.8 124.0 227.0 122.6 228.2 123.0 228.2 122.9 228.4 z" fill="#4676b5"/><path d="M130.3 228.6 130.5 228.5 130.6 228.9 131.5 227.0 129.7 228.1 130.1 228.2 130.0 228.3 z" fill="#4878b6"/><path d="M137.5 228.6 137.6 228.5 137.7 228.9 138.9 227.0 136.9 228.0 137.3 228.1 137.2 228.3 z" fill="#4b7db8"/><path d="M145.2 228.6 145.3 228.4 145.4 228.7 145.8 226.9 144.5 228.2 144.9 228.2 144.8 228.3 z" fill="#4574b3"/><path d="M152.9 228.4 152.9 228.3 153.1 228.4 152.7 226.9 152.2 228.4 152.5 228.3 152.5 228.4 z" fill="#4471b2"/><path d="M160.6 228.3 160.5 228.2 160.8 228.2 159.6 226.9 159.9 228.7 160.1 228.4 160.2 228.5 z" fill="#4676b5"/><path d="M168.2 228.3 168.1 228.1 168.5 227.9 166.5 226.9 167.6 228.9 167.8 228.4 167.9 228.6 z" fill="#4d7fb9"/><path d="M175.5 228.1 175.3 228.0 175.8 227.8 173.8 227.0 174.9 228.8 175.0 228.3 175.2 228.5 z" fill="#4a7ab7"/><path d="M182.7 228.0 182.6 227.9 182.9 227.8 181.1 227.0 182.2 228.7 182.3 228.3 182.5 228.4 z" fill="#4878b6"/><path d="M190.0 227.9 189.8 227.8 190.1 227.7 188.4 227.1 189.6 228.5 189.6 228.2 189.7 228.3 z" fill="#4676b5"/><path d="M197.2 227.8 197.1 227.7 197.3 227.6 195.8 227.2 196.9 228.4 196.8 228.1 197.0 228.2 z" fill="#4471b2"/><path d="M204.3 227.8 204.2 227.7 204.3 227.7 203.3 227.2 203.9 228.2 203.9 228.1 203.9 228.1 z" fill="#416aaf"/><circle cx="211.0" cy="227.6" r="0.48" fill="#4065ac"/><circle cx="218.3" cy="227.5" r="0.48" fill="#4167ad"/><path d="M225.3 228.2 225.4 228.1 225.4 228.3 226.1 227.0 224.8 227.7 225.0 227.8 224.9 227.9 z" fill="#436fb1"/><path d="M232.5 228.2 232.6 228.1 232.7 228.4 233.4 227.0 232.0 227.7 232.3 227.8 232.2 227.9 z" fill="#4471b2"/><path d="M239.7 228.2 239.8 228.1 239.9 228.4 240.8 226.9 239.2 227.7 239.5 227.8 239.4 227.9 z" fill="#4574b3"/><path d="M247.0 228.2 247.1 228.1 247.2 228.5 248.1 226.9 246.5 227.7 246.8 227.8 246.7 227.9 z" fill="#4676b5"/><path d="M254.2 228.2 254.4 228.1 254.4 228.5 255.4 226.8 253.7 227.7 254.0 227.8 253.9 227.9 z" fill="#4878b6"/><path d="M261.4 228.2 261.5 228.1 261.6 228.5 262.8 226.8 260.9 227.6 261.3 227.8 261.1 227.9 z" fill="#4878b6"/><path d="M268.6 228.2 268.7 228.1 268.8 228.5 270.2 226.8 268.1 227.5 268.5 227.7 268.3 227.8 z" fill="#4b7db8"/><path d="M275.7 228.2 275.9 228.1 276.0 228.6 277.6 226.8 275.3 227.4 275.7 227.7 275.5 227.8 z" fill="#4d7fb9"/><path d="M282.9 228.1 283.1 228.0 283.1 228.6 285.0 226.9 282.5 227.3 282.9 227.6 282.7 227.7 z" fill="#4f81ba"/><path d="M289.5 227.5 289.8 227.5 289.4 228.1 292.8 227.6 289.7 226.1 289.9 226.8 289.6 226.8 z" fill="#5c90c2"/><path d="M296.6 227.3 297.0 227.4 296.5 228.0 300.3 227.8 297.0 225.9 297.1 226.7 296.8 226.6 z" fill="#6095c4"/><path d="M304.6 227.3 304.8 227.4 304.5 227.8 306.9 227.6 304.8 226.4 304.9 226.9 304.7 226.9 z" fill="#4d7fb9"/><path d="M312.3 227.4 312.4 227.5 312.2 227.7 313.8 227.4 312.4 226.8 312.5 227.0 312.3 227.0 z" fill="#4471b2"/><path d="M319.7 227.5 319.9 227.5 319.7 227.7 321.0 227.3 319.7 226.9 319.9 227.1 319.7 227.1 z" fill="#426cb0"/><path d="M327.1 227.5 327.2 227.5 327.1 227.6 328.2 227.3 327.1 227.0 327.2 227.1 327.1 227.1 z" fill="#416aaf"/><path d="M334.4 227.5 334.5 227.5 334.4 227.6 335.5 227.3 334.4 226.9 334.5 227.1 334.4 227.1 z" fill="#416aaf"/><path d="M415.2 228.2 415.2 228.0 415.6 228.2 415.3 226.1 414.4 228.1 414.8 227.9 414.8 228.1 z" fill="#4a7ab7"/><path d="M109.1 236.3 109.1 236.2 109.4 236.4 109.4 234.6 108.4 236.1 108.7 236.0 108.7 236.2 z" fill="#4676b5"/><path d="M116.2 236.4 116.3 236.2 116.5 236.6 116.8 234.5 115.5 236.1 115.9 236.0 115.8 236.2 z" fill="#4a7ab7"/><path d="M123.3 236.5 123.4 236.3 123.7 236.7 124.3 234.4 122.5 236.0 123.1 236.1 122.9 236.3 z" fill="#4d7fb9"/><path d="M130.5 236.6 130.6 236.4 130.9 236.9 131.7 234.4 129.6 236.0 130.2 236.1 130.1 236.3 z" fill="#5183bb"/><path d="M137.6 236.7 137.8 236.4 138.0 237.0 139.2 234.3 136.7 235.9 137.3 236.1 137.2 236.3 z" fill="#5588be"/><path d="M145.3 236.5 145.4 236.3 145.7 236.7 146.1 234.3 144.5 236.1 145.0 236.1 144.9 236.3 z" fill="#4d7fb9"/><path d="M153.1 236.3 153.1 236.1 153.4 236.4 152.9 234.4 152.2 236.3 152.6 236.1 152.6 236.3 z" fill="#4878b6"/><path d="M160.8 236.2 160.7 236.0 161.1 236.0 159.8 234.4 160.0 236.5 160.3 236.2 160.4 236.3 z" fill="#4a7ab7"/><path d="M168.5 236.0 168.3 235.8 168.8 235.7 166.6 234.5 167.8 236.7 168.0 236.2 168.1 236.3 z" fill="#4f81ba"/><path d="M175.7 235.9 175.5 235.7 176.0 235.6 173.9 234.6 175.1 236.5 175.2 236.1 175.4 236.2 z" fill="#4b7db8"/><path d="M182.9 235.8 182.8 235.6 183.2 235.5 181.3 234.7 182.4 236.4 182.5 236.0 182.6 236.1 z" fill="#4878b6"/><path d="M190.2 235.6 190.0 235.5 190.3 235.4 188.6 234.8 189.7 236.2 189.8 235.9 189.9 236.0 z" fill="#4676b5"/><path d="M197.4 235.5 197.2 235.4 197.5 235.3 195.9 234.9 197.0 236.1 197.0 235.8 197.2 235.9 z" fill="#4471b2"/><path d="M204.4 235.7 204.4 235.6 204.6 235.6 203.6 234.7 203.9 236.0 204.0 235.8 204.0 236.0 z" fill="#426cb0"/><path d="M211.4 236.0 211.4 235.9 211.6 236.0 211.2 234.6 210.7 236.0 210.9 235.9 210.9 236.0 z" fill="#436fb1"/><path d="M218.3 236.3 218.4 236.1 218.7 236.4 218.8 234.4 217.6 236.0 218.0 235.9 217.9 236.1 z" fill="#4878b6"/><path d="M225.3 236.5 225.4 236.3 225.7 236.8 226.5 234.2 224.4 235.9 225.0 236.0 224.8 236.2 z" fill="#5183bb"/><path d="M232.5 236.6 232.7 236.3 233.0 236.9 233.8 234.1 231.6 235.9 232.2 236.0 232.0 236.2 z" fill="#5588be"/><path d="M239.7 236.6 239.9 236.4 240.2 236.9 241.2 234.1 238.8 235.9 239.4 236.0 239.3 236.3 z" fill="#578abf"/><path d="M247.0 236.6 247.2 236.4 247.5 237.0 248.5 234.0 246.0 235.9 246.7 236.0 246.5 236.3 z" fill="#588cc0"/><path d="M254.2 236.7 254.4 236.4 254.7 237.1 255.9 234.0 253.2 235.9 253.9 236.0 253.7 236.3 z" fill="#5a8ec1"/><path d="M261.4 236.6 261.6 236.4 261.9 237.1 263.3 234.0 260.4 235.8 261.1 236.0 260.9 236.2 z" fill="#5a8ec1"/><path d="M268.6 236.6 268.8 236.4 269.0 237.1 270.7 234.0 267.6 235.6 268.3 235.9 268.1 236.1 z" fill="#5c90c2"/><path d="M275.7 236.5 276.0 236.3 276.2 237.0 278.1 234.1 274.9 235.5 275.6 235.8 275.3 236.0 z" fill="#5c90c2"/><path d="M282.9 236.5 283.2 236.3 283.3 237.0 285.5 234.1 282.1 235.4 282.8 235.7 282.5 235.9 z" fill="#5e93c3"/><path d="M289.3 235.3 289.7 235.3 289.2 236.1 293.4 235.5 289.5 233.7 289.8 234.5 289.4 234.5 z" fill="#659bc8"/><path d="M296.4 235.0 297.2 235.2 296.6 235.9 300.8 235.7 297.2 233.5 297.4 234.4 296.6 234.2 z" fill="#6da4cc"/><path d="M304.6 235.1 304.9 235.1 304.5 235.6 307.2 235.5 304.9 234.1 305.0 234.6 304.7 234.6 z" fill="#5183bb"/><path d="M312.4 235.2 312.6 235.2 312.4 235.5 314.0 235.3 312.5 234.5 312.7 234.8 312.5 234.8 z" fill="#4574b3"/><path d="M319.9 235.3 320.1 235.3 319.9 235.4 321.1 235.2 320.0 234.8 320.1 234.9 320.0 234.9 z" fill="#416aaf"/><circle cx="327.8" cy="235.1" r="0.48" fill="#4167ad"/><path d="M408.1 235.8 408.1 235.7 408.3 235.9 408.1 234.2 407.4 235.7 407.7 235.6 407.7 235.8 z" fill="#4471b2"/><path d="M415.4 235.8 415.4 235.7 415.6 235.9 415.4 234.2 414.7 235.7 415.0 235.6 414.9 235.7 z" fill="#4471b2"/><path d="M109.2 244.1 109.2 243.9 109.5 244.2 109.6 242.1 108.4 243.8 108.8 243.7 108.8 243.9 z" fill="#4a7ab7"/><path d="M116.3 244.2 116.4 244.0 116.7 244.4 117.1 242.0 115.5 243.8 116.0 243.8 115.9 244.0 z" fill="#4d7fb9"/><path d="M123.5 244.4 123.6 244.1 123.9 244.6 124.6 241.9 122.5 243.8 123.1 243.9 123.0 244.1 z" fill="#5385bd"/><path d="M130.6 244.5 130.8 244.3 131.1 244.9 132.0 241.7 129.6 243.9 130.2 243.9 130.1 244.2 z" fill="#588cc0"/><path d="M137.8 244.7 138.0 244.4 138.3 245.1 139.5 241.6 136.6 243.9 137.4 244.0 137.2 244.3 z" fill="#5e93c3"/><path d="M145.5 244.5 145.6 244.2 146.0 244.7 146.3 241.7 144.4 244.0 145.1 244.0 144.9 244.2 z" fill="#5588be"/><path d="M153.2 244.2 153.2 244.0 153.7 244.3 153.1 241.9 152.3 244.2 152.7 244.0 152.7 244.2 z" fill="#4d7fb9"/><path d="M160.9 244.0 160.8 243.8 161.3 243.8 160.0 242.0 160.1 244.3 160.4 243.9 160.5 244.1 z" fill="#4b7db8"/><path d="M168.6 243.8 168.5 243.6 169.0 243.4 166.8 242.1 167.9 244.4 168.1 243.9 168.3 244.1 z" fill="#4f81ba"/><path d="M175.8 243.6 175.7 243.5 176.1 243.3 174.1 242.3 175.2 244.2 175.4 243.8 175.5 243.9 z" fill="#4b7db8"/><path d="M183.1 243.5 182.9 243.4 183.3 243.2 181.5 242.4 182.5 244.1 182.6 243.7 182.8 243.8 z" fill="#4878b6"/><path d="M190.3 243.3 190.2 243.2 190.4 243.1 188.8 242.5 189.9 243.9 189.9 243.6 190.0 243.7 z" fill="#4574b3"/><path d="M197.5 243.2 197.4 243.1 197.6 243.0 196.2 242.7 197.2 243.7 197.1 243.5 197.3 243.6 z" fill="#436fb1"/><path d="M204.5 243.6 204.5 243.4 204.7 243.5 203.9 242.4 203.9 243.8 204.0 243.6 204.1 243.7 z" fill="#436fb1"/><path d="M211.4 244.0 211.5 243.8 211.8 244.0 211.5 242.1 210.7 243.8 211.0 243.7 211.0 243.9 z" fill="#4878b6"/><path d="M218.4 244.3 218.5 244.1 218.9 244.5 219.2 241.8 217.4 243.9 218.0 243.9 217.9 244.1 z" fill="#5385bd"/><path d="M225.3 244.7 225.5 244.4 225.9 245.1 226.9 241.5 224.1 244.0 224.9 244.0 224.7 244.3 z" fill="#5e93c3"/><path d="M232.5 244.8 232.7 244.4 233.2 245.2 234.2 241.4 231.3 244.0 232.1 244.0 231.9 244.4 z" fill="#6297c6"/><path d="M239.8 244.8 240.0 244.5 240.4 245.2 241.6 241.4 238.5 243.9 239.3 244.1 239.1 244.4 z" fill="#6399c7"/><path d="M247.0 244.9 247.2 244.5 247.6 245.3 249.0 241.4 245.7 243.9 246.6 244.1 246.3 244.4 z" fill="#659bc8"/><path d="M254.2 244.9 254.5 244.5 254.9 245.3 256.4 241.3 252.9 243.8 253.8 244.0 253.5 244.4 z" fill="#679ec9"/><path d="M261.3 244.8 261.7 244.5 262.0 245.3 263.8 241.4 260.2 243.7 261.0 243.9 260.7 244.3 z" fill="#679ec9"/><path d="M268.5 244.8 268.9 244.4 269.2 245.3 271.2 241.5 267.4 243.5 268.3 243.8 267.9 244.2 z" fill="#69a0ca"/><path d="M275.7 244.7 276.1 244.3 276.3 245.2 278.6 241.6 274.7 243.4 275.5 243.7 275.1 244.1 z" fill="#69a0ca"/><path d="M282.8 244.6 283.3 244.2 283.5 245.1 286.0 241.6 282.0 243.2 282.8 243.6 282.3 244.0 z" fill="#69a0ca"/><path d="M289.2 243.2 290.1 243.3 289.7 244.1 293.8 243.1 289.8 241.6 290.2 242.4 289.3 242.4 z" fill="#6da4cc"/><path d="M296.3 242.9 297.6 243.1 297.1 243.9 301.3 243.5 297.5 241.4 297.8 242.3 296.4 242.1 z" fill="#74add1"/><path d="M304.7 242.9 305.0 243.0 304.6 243.5 307.5 243.3 305.0 241.8 305.1 242.4 304.8 242.4 z" fill="#5588be"/><path d="M312.6 243.0 312.8 243.1 312.5 243.3 314.2 243.1 312.7 242.3 312.8 242.6 312.7 242.6 z" fill="#4574b3"/><path d="M320.1 243.1 320.3 243.2 320.1 243.3 321.3 243.0 320.2 242.6 320.3 242.7 320.2 242.7 z" fill="#416aaf"/><circle cx="328.0" cy="242.9" r="0.48" fill="#4167ad"/><path d="M408.2 243.6 408.2 243.4 408.3 243.6 408.4 242.3 407.6 243.4 407.8 243.3 407.8 243.4 z" fill="#426cb0"/><path d="M415.5 243.6 415.5 243.4 415.6 243.6 415.7 242.3 414.9 243.3 415.1 243.3 415.1 243.4 z" fill="#426cb0"/><path d="M109.3 251.8 109.4 251.6 109.7 252.0 109.9 249.7 108.4 251.5 108.9 251.4 108.8 251.6 z" fill="#4d7fb9"/><path d="M116.4 252.0 116.5 251.7 116.9 252.2 117.4 249.5 115.5 251.5 116.1 251.5 116.0 251.7 z" fill="#5183bb"/><path d="M123.6 252.1 123.7 251.9 124.1 252.4 124.8 249.4 122.6 251.6 123.2 251.6 123.1 251.9 z" fill="#578abf"/><path d="M130.7 252.3 130.9 252.0 131.3 252.7 132.3 249.3 129.6 251.6 130.4 251.7 130.2 252.0 z" fill="#5c90c2"/><path d="M137.9 252.5 138.1 252.2 138.5 252.9 139.7 249.2 136.7 251.6 137.5 251.7 137.3 252.1 z" fill="#6297c6"/><path d="M145.5 252.3 145.7 252.0 146.1 252.5 146.6 249.3 144.4 251.7 145.1 251.7 145.0 252.0 z" fill="#588cc0"/><path d="M153.2 252.0 153.3 251.8 153.7 252.1 153.5 249.5 152.2 251.8 152.8 251.7 152.7 251.9 z" fill="#5183bb"/><path d="M160.8 251.8 160.8 251.6 161.3 251.7 160.4 249.6 160.0 251.9 160.4 251.6 160.4 251.8 z" fill="#4b7db8"/><path d="M168.5 251.5 168.4 251.4 168.8 251.4 167.3 249.8 167.7 251.9 168.0 251.6 168.1 251.7 z" fill="#4a7ab7"/><path d="M175.7 251.4 175.7 251.2 176.0 251.2 174.6 250.0 175.1 251.8 175.3 251.4 175.4 251.6 z" fill="#4676b5"/><path d="M183.0 251.2 182.9 251.1 183.2 251.1 182.0 250.1 182.4 251.6 182.5 251.3 182.6 251.4 z" fill="#436fb1"/><path d="M190.2 251.0 190.1 250.9 190.3 250.9 189.3 250.3 189.8 251.4 189.8 251.2 189.9 251.3 z" fill="#416aaf"/><circle cx="197.0" cy="250.7" r="0.48" fill="#4065ac"/><path d="M204.5 251.3 204.5 251.2 204.6 251.3 204.3 250.2 203.9 251.3 204.0 251.2 204.0 251.3 z" fill="#416aaf"/><path d="M211.4 251.7 211.5 251.5 211.7 251.9 211.9 249.8 210.6 251.4 211.0 251.4 211.0 251.5 z" fill="#4878b6"/><path d="M218.4 252.1 218.5 251.9 218.9 252.4 219.6 249.5 217.4 251.5 218.0 251.6 217.9 251.8 z" fill="#5588be"/><path d="M225.4 252.5 225.6 252.2 226.0 252.9 227.2 249.2 224.1 251.6 225.0 251.8 224.7 252.1 z" fill="#6297c6"/><path d="M232.5 252.6 232.8 252.3 233.2 253.1 234.6 249.1 231.3 251.6 232.1 251.8 231.9 252.1 z" fill="#659bc8"/><path d="M239.7 252.7 240.0 252.2 240.4 253.1 242.0 249.1 238.5 251.5 239.4 251.7 239.1 252.1 z" fill="#69a0ca"/><path d="M246.9 252.7 247.4 252.1 247.7 253.0 249.4 249.0 245.8 251.4 246.7 251.6 246.3 252.2 z" fill="#6ba2cb"/><path d="M254.0 252.8 254.7 252.0 255.0 252.9 256.8 249.0 253.2 251.2 254.1 251.5 253.4 252.2 z" fill="#6ea6ce"/><path d="M261.2 252.7 261.9 252.0 262.2 252.9 264.2 249.1 260.5 251.1 261.3 251.4 260.6 252.1 z" fill="#6ea6ce"/><path d="M268.4 252.6 269.2 251.9 269.4 252.8 271.7 249.2 267.8 251.0 268.6 251.3 267.8 252.0 z" fill="#70a9cf"/><path d="M275.5 252.6 276.4 251.9 276.6 252.8 279.1 249.3 275.1 250.8 275.9 251.2 275.0 251.9 z" fill="#70a9cf"/><path d="M282.7 252.5 283.7 251.8 283.8 252.7 286.5 249.3 282.4 250.7 283.2 251.1 282.2 251.8 z" fill="#72abd0"/><path d="M289.3 251.2 290.5 251.2 290.1 252.0 294.2 250.7 290.1 249.6 290.5 250.4 289.3 250.4 z" fill="#72abd0"/><path d="M296.3 250.9 298.0 251.1 297.5 251.8 301.7 251.1 297.8 249.4 298.1 250.2 296.4 250.0 z" fill="#7ab2d4"/><path d="M304.8 250.8 305.1 250.9 304.8 251.4 307.8 251.0 305.0 249.7 305.2 250.3 304.9 250.3 z" fill="#578abf"/><path d="M312.8 250.9 312.9 250.9 312.8 251.2 314.4 250.9 312.9 250.2 313.0 250.5 312.8 250.4 z" fill="#4574b3"/><path d="M320.3 251.0 320.4 251.0 320.3 251.1 321.5 250.8 320.4 250.4 320.5 250.5 320.3 250.5 z" fill="#416aaf"/><circle cx="415.7" cy="250.8" r="0.48" fill="#4167ad"/><path d="M109.4 259.6 109.5 259.3 109.8 259.8 110.2 257.2 108.5 259.2 109.0 259.1 108.9 259.4 z" fill="#4f81ba"/><path d="M116.5 259.7 116.7 259.5 117.1 260.0 117.6 257.1 115.5 259.2 116.2 259.2 116.0 259.5 z" fill="#5588be"/><path d="M123.7 259.9 123.9 259.6 124.3 260.2 125.1 257.0 122.6 259.3 123.3 259.3 123.2 259.6 z" fill="#5a8ec1"/><path d="M130.9 260.1 131.1 259.8 131.5 260.5 132.5 256.8 129.7 259.3 130.5 259.4 130.3 259.7 z" fill="#6095c4"/><path d="M138.1 260.3 138.3 259.9 138.7 260.7 139.9 256.7 136.7 259.4 137.6 259.5 137.4 259.8 z" fill="#659bc8"/><path d="M145.6 260.0 145.8 259.7 146.2 260.4 146.9 256.9 144.4 259.4 145.2 259.4 145.0 259.7 z" fill="#5c90c2"/><path d="M153.2 259.8 153.3 259.5 153.7 260.0 153.9 257.1 152.1 259.4 152.8 259.4 152.7 259.6 z" fill="#5588be"/><path d="M160.8 259.6 160.8 259.3 161.2 259.6 160.9 257.3 159.9 259.4 160.3 259.3 160.3 259.5 z" fill="#4d7fb9"/><path d="M168.4 259.3 168.3 259.1 168.7 259.3 167.8 257.5 167.6 259.4 167.9 259.2 167.9 259.4 z" fill="#4878b6"/><path d="M175.6 259.1 175.6 259.0 175.9 259.1 175.2 257.7 175.0 259.3 175.2 259.1 175.2 259.2 z" fill="#4471b2"/><path d="M182.9 258.9 182.9 258.8 183.0 258.9 182.5 257.9 182.3 259.1 182.4 258.9 182.5 259.0 z" fill="#416aaf"/><circle cx="189.9" cy="258.4" r="0.48" fill="#3f62ab"/><circle cx="197.2" cy="258.4" r="0.48" fill="#3d5ba7"/><path d="M204.4 259.1 204.4 259.0 204.5 259.1 204.7 257.9 203.9 258.8 204.0 258.8 204.0 258.9 z" fill="#416aaf"/><path d="M211.3 259.5 211.4 259.3 211.7 259.7 212.3 257.6 210.6 259.0 211.1 259.0 211.0 259.2 z" fill="#4a7ab7"/><path d="M218.4 259.9 218.5 259.6 218.8 260.2 219.9 257.2 217.4 259.2 218.0 259.3 217.9 259.5 z" fill="#588cc0"/><path d="M225.4 260.3 225.6 260.0 226.0 260.8 227.5 256.9 224.1 259.3 225.0 259.5 224.8 259.8 z" fill="#659bc8"/><path d="M232.5 260.4 232.9 259.9 233.3 260.8 235.0 256.8 231.4 259.2 232.3 259.4 231.9 259.9 z" fill="#6ba2cb"/><path d="M239.7 260.5 240.3 259.8 240.6 260.7 242.4 256.8 238.8 259.0 239.7 259.3 239.0 259.9 z" fill="#6ea6ce"/><path d="M246.8 260.5 247.6 259.7 247.9 260.6 249.9 256.7 246.1 258.8 247.0 259.1 246.2 260.0 z" fill="#72abd0"/><path d="M253.9 260.6 255.0 259.6 255.3 260.5 257.3 256.7 253.5 258.7 254.4 259.0 253.3 260.0 z" fill="#76afd2"/><path d="M261.1 260.6 262.2 259.5 262.5 260.4 264.7 256.8 260.8 258.6 261.7 258.9 260.5 260.0 z" fill="#78b0d3"/><path d="M268.2 260.5 269.5 259.5 269.7 260.4 272.1 256.9 268.2 258.5 269.0 258.8 267.7 259.9 z" fill="#78b0d3"/><path d="M275.4 260.5 276.8 259.4 276.9 260.3 279.6 257.0 275.5 258.3 276.3 258.8 274.9 259.8 z" fill="#7ab2d4"/><path d="M282.5 260.4 284.1 259.4 284.2 260.3 287.0 257.0 282.9 258.2 283.6 258.7 282.1 259.7 z" fill="#7db4d5"/><path d="M289.3 259.3 291.0 259.1 290.7 259.9 294.6 258.2 290.4 257.5 290.9 258.3 289.2 258.5 z" fill="#78b0d3"/><path d="M296.3 258.8 298.4 258.9 298.0 259.7 302.1 258.7 298.1 257.3 298.4 258.1 296.3 258.0 z" fill="#81b7d7"/><path d="M305.0 258.7 305.3 258.8 304.9 259.3 308.0 258.7 305.1 257.6 305.3 258.2 305.0 258.1 z" fill="#578abf"/><path d="M313.0 258.7 313.1 258.8 313.0 259.0 314.6 258.6 313.0 258.0 313.2 258.3 313.0 258.3 z" fill="#4574b3"/><path d="M109.5 267.3 109.6 267.1 110.0 267.6 110.5 264.8 108.5 266.8 109.1 266.8 109.0 267.1 z" fill="#5385bd"/><path d="M116.7 267.5 116.8 267.2 117.2 267.8 117.9 264.6 115.6 266.9 116.3 266.9 116.1 267.2 z" fill="#588cc0"/><path d="M123.9 267.7 124.0 267.4 124.5 268.0 125.3 264.5 122.6 267.0 123.4 267.0 123.2 267.3 z" fill="#5e93c3"/><path d="M131.0 267.9 131.2 267.5 131.7 268.3 132.7 264.4 129.7 267.1 130.6 267.1 130.4 267.5 z" fill="#6399c7"/><path d="M138.2 268.1 138.5 267.6 139.0 268.4 140.2 264.2 136.9 267.0 137.8 267.1 137.5 267.6 z" fill="#69a0ca"/><path d="M145.7 267.8 145.9 267.5 146.3 268.2 147.2 264.5 144.4 267.1 145.3 267.2 145.1 267.5 z" fill="#6297c6"/><path d="M153.2 267.6 153.3 267.3 153.8 267.9 154.3 264.7 152.1 267.1 152.8 267.1 152.6 267.3 z" fill="#588cc0"/><path d="M160.7 267.4 160.8 267.1 161.2 267.5 161.3 264.9 159.7 267.0 160.3 266.9 160.2 267.2 z" fill="#5183bb"/><path d="M168.2 267.1 168.2 266.9 168.6 267.2 168.4 265.1 167.4 267.0 167.8 266.8 167.8 267.0 z" fill="#4a7ab7"/><path d="M175.5 266.9 175.5 266.8 175.7 267.0 175.7 265.4 174.8 266.8 175.1 266.7 175.0 266.8 z" fill="#4471b2"/><path d="M182.8 266.7 182.8 266.6 182.9 266.8 183.0 265.6 182.2 266.5 182.4 266.5 182.3 266.6 z" fill="#416aaf"/><circle cx="190.0" cy="266.1" r="0.48" fill="#3f62ab"/><circle cx="197.3" cy="266.2" r="0.48" fill="#3e5ea8"/><path d="M204.3 266.8 204.4 266.7 204.4 266.9 205.1 265.7 203.9 266.3 204.1 266.4 204.0 266.5 z" fill="#436fb1"/><path d="M211.3 267.2 211.4 267.0 211.6 267.5 212.7 265.3 210.6 266.5 211.1 266.7 210.9 266.9 z" fill="#4d7fb9"/><path d="M218.4 267.7 218.6 267.4 218.8 268.1 220.3 265.0 217.4 266.8 218.1 267.0 217.9 267.2 z" fill="#5c90c2"/><path d="M225.4 268.1 225.8 267.7 226.2 268.5 227.9 264.6 224.3 266.9 225.2 267.1 224.8 267.6 z" fill="#69a0ca"/><path d="M232.5 268.2 233.2 267.5 233.5 268.4 235.4 264.5 231.7 266.7 232.6 267.0 231.9 267.7 z" fill="#6ea6ce"/><path d="M239.6 268.3 240.5 267.4 240.8 268.3 242.8 264.5 239.1 266.5 239.9 266.8 239.0 267.7 z" fill="#74add1"/><path d="M246.7 268.4 247.9 267.3 248.2 268.1 250.3 264.4 246.5 266.3 247.3 266.7 246.1 267.8 z" fill="#78b0d3"/><path d="M253.8 268.5 255.3 267.1 255.5 268.0 257.8 264.4 253.9 266.2 254.8 266.5 253.2 267.9 z" fill="#7fb6d6"/><path d="M260.9 268.4 262.6 267.1 262.8 268.0 265.2 264.5 261.2 266.1 262.1 266.5 260.4 267.8 z" fill="#81b7d7"/><path d="M268.1 268.4 269.9 267.1 270.0 268.0 272.6 264.6 268.6 266.0 269.4 266.4 267.6 267.7 z" fill="#83b9d8"/><path d="M275.2 268.3 277.2 267.0 277.3 267.9 280.1 264.7 276.0 265.9 276.8 266.3 274.8 267.6 z" fill="#85bbd9"/><path d="M282.4 268.3 284.5 267.0 284.6 267.9 287.5 264.7 283.3 265.8 284.1 266.3 281.9 267.6 z" fill="#87bdd9"/><path d="M289.3 267.3 291.4 266.9 291.2 267.8 295.0 265.8 290.7 265.4 291.3 266.1 289.2 266.5 z" fill="#81b7d7"/><path d="M296.3 266.8 298.8 266.8 298.4 267.6 302.5 266.3 298.4 265.2 298.8 266.0 296.3 266.0 z" fill="#87bdd9"/><path d="M305.1 266.7 305.4 266.7 305.1 267.3 308.2 266.4 305.2 265.4 305.5 266.0 305.1 266.0 z" fill="#588cc0"/><path d="M313.2 266.6 313.3 266.6 313.2 266.9 314.8 266.4 313.2 265.9 313.3 266.2 313.2 266.2 z" fill="#4574b3"/><path d="M109.6 275.1 109.7 274.8 110.1 275.4 110.7 272.3 108.5 274.5 109.2 274.5 109.1 274.8 z" fill="#578abf"/><path d="M116.8 275.3 117.0 275.0 117.4 275.6 118.1 272.2 115.6 274.6 116.4 274.6 116.2 274.9 z" fill="#5c90c2"/><path d="M124.0 275.5 124.2 275.1 124.6 275.8 125.5 272.1 122.7 274.7 123.5 274.8 123.3 275.1 z" fill="#6297c6"/><path d="M131.2 275.6 131.4 275.3 131.9 276.1 133.0 271.9 129.8 274.8 130.7 274.9 130.5 275.2 z" fill="#679ec9"/><path d="M138.4 275.8 138.8 275.2 139.2 275.9 140.4 271.8 137.2 274.6 138.1 274.7 137.7 275.4 z" fill="#6ba2cb"/><path d="M145.8 275.6 146.0 275.3 146.5 276.0 147.5 272.1 144.5 274.8 145.4 274.9 145.2 275.2 z" fill="#6399c7"/><path d="M153.3 275.3 153.4 275.1 153.8 275.7 154.6 272.3 152.1 274.7 152.8 274.7 152.7 275.0 z" fill="#5c90c2"/><path d="M160.7 275.1 160.8 274.9 161.2 275.3 161.7 272.6 159.7 274.6 160.3 274.6 160.2 274.9 z" fill="#5385bd"/><path d="M168.2 274.9 168.2 274.7 168.5 275.0 168.8 272.8 167.4 274.5 167.8 274.5 167.7 274.7 z" fill="#4b7db8"/><path d="M175.5 274.7 175.6 274.5 175.7 274.8 176.0 273.1 174.8 274.3 175.1 274.3 175.1 274.5 z" fill="#4574b3"/><path d="M182.8 274.5 182.9 274.4 182.9 274.5 183.3 273.3 182.3 274.1 182.5 274.1 182.4 274.2 z" fill="#426cb0"/><circle cx="190.2" cy="273.9" r="0.48" fill="#4065ac"/><circle cx="197.5" cy="273.9" r="0.48" fill="#3e60aa"/><path d="M204.5 274.5 204.6 274.4 204.6 274.6 205.3 273.5 204.0 274.0 204.3 274.1 204.2 274.2 z" fill="#436fb1"/><path d="M211.5 274.9 211.7 274.7 211.9 275.2 212.8 273.1 210.9 274.3 211.3 274.4 211.2 274.6 z" fill="#4b7db8"/><path d="M218.7 275.3 218.9 275.1 219.2 275.7 220.3 272.7 217.7 274.6 218.4 274.7 218.2 275.0 z" fill="#588cc0"/><path d="M225.8 275.8 226.0 275.5 226.4 276.3 227.9 272.4 224.5 274.8 225.4 275.0 225.2 275.3 z" fill="#659bc8"/><path d="M232.8 275.9 233.3 275.4 233.7 276.2 235.4 272.3 231.8 274.6 232.7 274.8 232.2 275.4 z" fill="#6ba2cb"/><path d="M239.8 276.0 240.7 275.2 241.0 276.0 243.0 272.2 239.2 274.3 240.1 274.6 239.2 275.5 z" fill="#72abd0"/><path d="M246.8 276.2 248.1 275.0 248.4 275.9 250.5 272.2 246.7 274.1 247.6 274.4 246.3 275.6 z" fill="#7ab2d4"/><path d="M253.8 276.3 255.6 274.8 255.8 275.7 258.1 272.1 254.2 273.8 255.0 274.2 253.3 275.7 z" fill="#83b9d8"/><path d="M261.0 276.3 262.9 274.8 263.0 275.7 265.5 272.2 261.5 273.7 262.4 274.1 260.5 275.6 z" fill="#85bbd9"/><path d="M268.1 276.2 270.2 274.8 270.3 275.7 272.9 272.3 268.9 273.7 269.7 274.1 267.7 275.5 z" fill="#87bdd9"/><path d="M275.3 276.2 277.5 274.7 277.6 275.6 280.4 272.4 276.2 273.6 277.0 274.0 274.8 275.5 z" fill="#8abeda"/><path d="M282.4 276.1 284.8 274.7 284.9 275.6 287.8 272.5 283.6 273.5 284.4 274.0 282.0 275.4 z" fill="#8cc0db"/><path d="M289.5 275.3 291.8 274.7 291.6 275.6 295.2 273.4 290.9 273.2 291.5 273.9 289.3 274.5 z" fill="#85bbd9"/><path d="M296.4 274.8 299.1 274.6 298.8 275.5 302.8 274.0 298.6 273.0 299.1 273.8 296.4 274.0 z" fill="#8abeda"/><path d="M305.0 274.6 305.4 274.6 305.0 275.3 308.7 274.2 305.0 273.1 305.4 273.8 305.0 273.8 z" fill="#6297c6"/><path d="M312.9 274.5 313.2 274.5 312.9 275.0 315.4 274.2 312.9 273.5 313.2 274.0 312.9 274.0 z" fill="#4f81ba"/><path d="M109.8 282.5 109.9 282.3 110.3 282.8 110.8 280.1 108.9 282.0 109.5 282.1 109.4 282.3 z" fill="#5385bd"/><path d="M117.0 282.7 117.2 282.5 117.5 283.0 118.2 280.0 116.0 282.1 116.7 282.2 116.5 282.4 z" fill="#578abf"/><path d="M124.3 282.9 124.4 282.6 124.8 283.2 125.6 279.9 123.1 282.2 123.9 282.3 123.7 282.5 z" fill="#5a8ec1"/><path d="M131.5 283.0 131.7 282.7 132.1 283.4 133.0 279.8 130.3 282.3 131.1 282.4 130.9 282.7 z" fill="#5e93c3"/><path d="M138.7 283.2 138.9 282.9 139.3 283.6 140.4 279.7 137.4 282.4 138.2 282.5 138.0 282.8 z" fill="#6399c7"/><path d="M146.2 283.0 146.3 282.7 146.8 283.3 147.4 280.0 145.0 282.4 145.8 282.4 145.6 282.7 z" fill="#5a8ec1"/><path d="M153.7 282.8 153.8 282.5 154.2 283.0 154.5 280.2 152.7 282.4 153.3 282.3 153.2 282.6 z" fill="#5385bd"/><path d="M161.2 282.6 161.2 282.4 161.6 282.7 161.5 280.4 160.3 282.4 160.8 282.3 160.8 282.5 z" fill="#4b7db8"/><path d="M168.7 282.4 168.7 282.2 169.1 282.4 168.5 280.6 168.0 282.4 168.3 282.2 168.3 282.4 z" fill="#4676b5"/><path d="M176.1 282.2 176.1 282.1 176.3 282.2 175.8 280.8 175.4 282.3 175.6 282.1 175.6 282.3 z" fill="#4471b2"/><path d="M183.4 282.1 183.4 282.0 183.6 282.1 183.0 281.0 182.9 282.2 183.0 282.0 183.0 282.2 z" fill="#416aaf"/><circle cx="190.4" cy="281.6" r="0.48" fill="#4065ac"/><circle cx="197.7" cy="281.6" r="0.48" fill="#3f62ab"/><path d="M205.3 282.2 205.3 282.0 205.4 282.1 204.9 281.0 204.7 282.2 204.8 282.1 204.8 282.2 z" fill="#416aaf"/><path d="M212.4 282.5 212.4 282.3 212.7 282.5 212.4 280.8 211.7 282.5 212.0 282.3 212.0 282.5 z" fill="#4676b5"/><path d="M219.6 282.9 219.6 282.6 220.0 283.0 219.8 280.5 218.6 282.7 219.2 282.5 219.1 282.8 z" fill="#4d7fb9"/><path d="M226.8 283.2 226.8 282.9 227.3 283.3 227.2 280.3 225.6 282.9 226.3 282.8 226.2 283.0 z" fill="#578abf"/><path d="M233.6 283.4 233.8 283.1 234.3 283.8 235.0 280.2 232.4 282.8 233.2 282.8 233.0 283.1 z" fill="#5e93c3"/><path d="M240.5 283.7 240.8 283.2 241.2 284.1 242.7 280.1 239.3 282.6 240.2 282.7 239.8 283.2 z" fill="#69a0ca"/><path d="M247.3 283.9 248.2 282.9 248.5 283.8 250.5 280.0 246.8 282.0 247.6 282.3 246.7 283.3 z" fill="#74add1"/><path d="M254.0 284.1 255.8 282.6 256.0 283.5 258.3 279.9 254.4 281.6 255.2 282.0 253.5 283.4 z" fill="#83b9d8"/><path d="M261.2 284.0 263.1 282.6 263.2 283.5 265.7 279.9 261.7 281.5 262.5 281.9 260.7 283.4 z" fill="#85bbd9"/><path d="M268.4 284.0 270.4 282.5 270.5 283.5 273.1 280.0 269.1 281.5 269.9 281.9 267.9 283.4 z" fill="#87bdd9"/><path d="M275.5 284.0 277.7 282.5 277.8 283.4 280.5 280.1 276.4 281.4 277.2 281.9 275.1 283.3 z" fill="#87bdd9"/><path d="M282.7 283.9 285.0 282.5 285.1 283.4 287.9 280.2 283.8 281.4 284.5 281.8 282.3 283.3 z" fill="#8abeda"/><path d="M289.7 283.3 292.0 282.5 291.9 283.4 295.4 281.0 291.1 281.1 291.8 281.7 289.4 282.5 z" fill="#87bdd9"/><path d="M296.6 282.7 299.3 282.4 299.0 283.3 302.9 281.6 298.7 280.8 299.2 281.6 296.5 281.9 z" fill="#8abeda"/><path d="M304.8 282.5 305.7 282.5 305.3 283.3 309.3 281.9 305.2 280.8 305.6 281.6 304.8 281.7 z" fill="#6da4cc"/><path d="M312.5 282.4 312.9 282.4 312.5 283.2 316.2 282.0 312.5 280.9 312.8 281.7 312.5 281.7 z" fill="#6297c6"/><path d="M110.0 290.0 110.2 289.8 110.4 290.2 110.9 287.9 109.3 289.6 109.8 289.6 109.6 289.8 z" fill="#4d7fb9"/><path d="M117.3 290.1 117.4 289.9 117.7 290.4 118.3 287.9 116.4 289.6 117.0 289.7 116.8 289.9 z" fill="#4f81ba"/><path d="M124.5 290.3 124.7 290.0 125.0 290.6 125.7 287.8 123.6 289.7 124.2 289.8 124.0 290.0 z" fill="#5385bd"/><path d="M131.8 290.4 131.9 290.2 132.3 290.7 133.0 287.7 130.7 289.8 131.4 289.9 131.2 290.1 z" fill="#578abf"/><path d="M139.0 290.6 139.2 290.3 139.5 290.9 140.4 287.7 137.9 289.9 138.6 290.0 138.4 290.2 z" fill="#5a8ec1"/><path d="M146.5 290.4 146.7 290.2 147.0 290.6 147.4 287.8 145.6 290.0 146.2 289.9 146.1 290.2 z" fill="#5385bd"/><path d="M154.1 290.2 154.2 290.0 154.5 290.3 154.4 288.0 153.2 290.0 153.7 289.9 153.7 290.1 z" fill="#4b7db8"/><path d="M161.7 290.1 161.7 289.9 162.1 290.0 161.4 288.2 160.9 290.1 161.3 289.9 161.3 290.1 z" fill="#4878b6"/><path d="M169.3 289.9 169.2 289.7 169.6 289.7 168.3 288.4 168.6 290.2 168.8 289.9 168.9 290.1 z" fill="#4676b5"/><path d="M176.7 289.8 176.6 289.7 176.9 289.6 175.5 288.5 176.0 290.2 176.2 289.9 176.3 290.0 z" fill="#4574b3"/><path d="M184.0 289.7 183.9 289.6 184.2 289.6 182.8 288.6 183.4 290.2 183.6 289.9 183.7 290.0 z" fill="#4574b3"/><path d="M191.4 289.7 191.2 289.6 191.5 289.5 190.0 288.7 190.9 290.2 190.9 289.9 191.1 290.0 z" fill="#4574b3"/><path d="M198.7 289.6 198.6 289.5 198.9 289.4 197.2 288.8 198.3 290.2 198.3 289.9 198.4 290.0 z" fill="#4676b5"/><path d="M206.0 289.9 205.8 289.7 206.2 289.6 204.5 288.6 205.4 290.4 205.5 290.0 205.6 290.2 z" fill="#4878b6"/><path d="M213.2 290.1 213.1 290.0 213.6 289.9 211.9 288.5 212.5 290.6 212.7 290.2 212.8 290.4 z" fill="#4a7ab7"/><path d="M220.5 290.4 220.4 290.2 220.9 290.2 219.2 288.3 219.6 290.8 219.9 290.4 220.0 290.6 z" fill="#4f81ba"/><path d="M227.7 290.6 227.6 290.4 228.2 290.4 226.6 288.2 226.7 291.0 227.1 290.5 227.2 290.8 z" fill="#5385bd"/><path d="M234.4 290.9 234.5 290.7 235.0 291.0 234.5 288.0 233.3 290.8 233.9 290.6 233.9 290.9 z" fill="#578abf"/><path d="M241.1 291.3 241.3 291.0 241.7 291.6 242.5 287.9 239.8 290.6 240.6 290.6 240.4 290.9 z" fill="#6095c4"/><path d="M247.7 291.6 248.4 290.8 248.7 291.7 250.4 287.7 246.8 290.1 247.7 290.3 247.1 291.1 z" fill="#70a9cf"/><path d="M254.2 291.8 255.9 290.3 256.2 291.2 258.4 287.6 254.5 289.4 255.4 289.7 253.7 291.2 z" fill="#83b9d8"/><path d="M261.4 291.8 263.2 290.3 263.4 291.2 265.8 287.7 261.9 289.3 262.7 289.7 260.9 291.2 z" fill="#85bbd9"/><path d="M268.6 291.8 270.5 290.3 270.7 291.2 273.2 287.8 269.2 289.3 270.0 289.7 268.1 291.2 z" fill="#85bbd9"/><path d="M275.8 291.8 277.8 290.3 278.0 291.2 280.6 287.9 276.6 289.2 277.4 289.7 275.3 291.1 z" fill="#87bdd9"/><path d="M283.0 291.8 285.1 290.3 285.2 291.3 288.0 288.0 283.9 289.2 284.7 289.7 282.5 291.1 z" fill="#8abeda"/><path d="M289.9 291.3 292.3 290.3 292.2 291.2 295.6 288.6 291.3 288.9 292.0 289.6 289.6 290.5 z" fill="#8abeda"/><path d="M296.8 290.6 299.5 290.2 299.2 291.1 303.1 289.3 298.9 288.7 299.4 289.4 296.7 289.8 z" fill="#8cc0db"/><path d="M304.6 290.3 306.3 290.3 305.9 291.1 309.9 289.7 305.8 288.6 306.2 289.4 304.5 289.5 z" fill="#7ab2d4"/><path d="M312.0 290.3 313.4 290.3 313.0 291.1 317.0 289.8 312.9 288.6 313.3 289.4 312.0 289.5 z" fill="#74add1"/><path d="M110.3 297.5 110.4 297.3 110.6 297.6 111.0 295.7 109.6 297.1 110.0 297.1 109.9 297.3 z" fill="#4878b6"/><path d="M117.5 297.6 117.6 297.4 117.9 297.8 118.4 295.7 116.8 297.2 117.3 297.2 117.2 297.4 z" fill="#4a7ab7"/><path d="M124.8 297.7 124.9 297.5 125.2 297.9 125.7 295.7 124.0 297.2 124.5 297.3 124.4 297.5 z" fill="#4b7db8"/><path d="M132.0 297.8 132.2 297.6 132.4 298.1 133.0 295.6 131.2 297.3 131.7 297.4 131.6 297.6 z" fill="#4f81ba"/><path d="M139.3 297.9 139.4 297.7 139.7 298.2 140.4 295.6 138.4 297.4 139.0 297.4 138.9 297.7 z" fill="#5183bb"/><path d="M146.9 297.8 147.0 297.6 147.3 297.9 147.3 295.7 146.1 297.6 146.6 297.5 146.5 297.7 z" fill="#4a7ab7"/><path d="M154.6 297.7 154.6 297.5 154.9 297.6 154.3 295.9 153.8 297.7 154.1 297.5 154.1 297.7 z" fill="#4676b5"/><path d="M162.2 297.5 162.1 297.4 162.5 297.4 161.2 296.0 161.5 297.9 161.7 297.6 161.8 297.7 z" fill="#4676b5"/><path d="M169.8 297.4 169.7 297.3 170.1 297.1 168.1 296.2 169.2 298.0 169.4 297.6 169.5 297.7 z" fill="#4a7ab7"/><path d="M177.2 297.4 177.0 297.3 177.5 297.1 175.3 296.2 176.6 298.1 176.7 297.6 176.9 297.8 z" fill="#4b7db8"/><path d="M184.6 297.4 184.4 297.3 184.9 297.1 182.5 296.2 184.0 298.2 184.1 297.7 184.3 297.8 z" fill="#4f81ba"/><path d="M192.0 297.5 191.8 297.3 192.3 297.0 189.7 296.3 191.4 298.3 191.5 297.8 191.7 297.9 z" fill="#5183bb"/><path d="M199.4 297.5 199.1 297.4 199.7 297.0 196.9 296.3 198.8 298.4 198.9 297.8 199.1 298.0 z" fill="#5588be"/><path d="M206.7 297.6 206.5 297.5 207.0 297.2 204.1 296.2 206.1 298.6 206.1 298.0 206.4 298.1 z" fill="#578abf"/><path d="M214.0 297.8 213.8 297.6 214.4 297.3 211.4 296.2 213.3 298.7 213.4 298.1 213.7 298.3 z" fill="#588cc0"/><path d="M221.4 297.9 221.1 297.7 221.8 297.4 218.7 296.1 220.6 298.9 220.7 298.2 221.0 298.4 z" fill="#5a8ec1"/><path d="M228.7 298.0 228.4 297.8 229.1 297.5 226.0 296.1 227.8 299.0 228.0 298.3 228.3 298.5 z" fill="#5c90c2"/><path d="M235.2 298.4 235.1 298.2 235.7 298.3 234.1 295.9 234.2 298.8 234.6 298.3 234.7 298.6 z" fill="#5588be"/><path d="M241.7 298.9 241.8 298.6 242.3 299.0 242.2 295.7 240.5 298.5 241.2 298.4 241.1 298.7 z" fill="#5a8ec1"/><path d="M248.1 299.3 248.5 298.7 248.9 299.6 250.4 295.5 247.0 298.1 247.9 298.2 247.5 298.8 z" fill="#6ba2cb"/><path d="M254.5 299.6 256.1 298.1 256.4 299.0 258.6 295.3 254.7 297.2 255.6 297.5 253.9 299.0 z" fill="#83b9d8"/><path d="M261.6 299.6 263.4 298.1 263.6 299.0 266.0 295.4 262.1 297.1 262.9 297.5 261.1 299.0 z" fill="#85bbd9"/><path d="M268.8 299.6 270.7 298.1 270.9 299.0 273.4 295.5 269.4 297.1 270.2 297.5 268.3 299.0 z" fill="#85bbd9"/><path d="M276.0 299.6 278.0 298.1 278.2 299.0 280.7 295.6 276.7 297.1 277.5 297.5 275.5 298.9 z" fill="#87bdd9"/><path d="M283.2 299.6 285.3 298.2 285.4 299.1 288.1 295.7 284.0 297.0 284.8 297.5 282.8 298.9 z" fill="#87bdd9"/><path d="M290.1 299.2 292.6 298.1 292.5 299.0 295.8 296.2 291.5 296.8 292.2 297.4 289.7 298.5 z" fill="#8cc0db"/><path d="M297.0 298.6 299.7 298.1 299.5 298.9 303.3 297.0 299.0 296.5 299.6 297.3 296.9 297.8 z" fill="#8cc0db"/><path d="M304.3 298.2 306.9 298.0 306.5 298.9 310.5 297.4 306.4 296.4 306.8 297.2 304.3 297.4 z" fill="#87bdd9"/><path d="M311.6 298.1 314.2 298.1 313.8 298.9 317.9 297.6 313.7 296.4 314.2 297.2 311.6 297.3 z" fill="#8abeda"/><path d="M318.8 298.1 321.5 298.1 321.1 298.9 325.2 297.7 321.1 296.5 321.5 297.3 318.8 297.3 z" fill="#8cc0db"/><path d="M326.3 298.1 328.6 298.1 328.2 299.0 332.3 297.7 328.2 296.5 328.6 297.3 326.3 297.3 z" fill="#85bbd9"/><path d="M110.6 304.9 110.6 304.8 110.8 305.1 111.1 303.5 110.0 304.6 110.2 304.6 110.2 304.7 z" fill="#4471b2"/><path d="M117.8 305.0 117.9 304.9 118.1 305.2 118.4 303.5 117.2 304.7 117.5 304.7 117.4 304.8 z" fill="#4574b3"/><path d="M125.1 305.1 125.2 305.0 125.3 305.3 125.8 303.5 124.4 304.8 124.8 304.8 124.7 304.9 z" fill="#4676b5"/><path d="M132.4 305.2 132.5 305.1 132.6 305.4 133.1 303.5 131.7 304.8 132.1 304.8 132.0 305.0 z" fill="#4676b5"/><path d="M139.6 305.3 139.7 305.2 139.9 305.5 140.4 303.5 138.9 304.9 139.3 304.9 139.2 305.1 z" fill="#4878b6"/><path d="M147.3 305.2 147.4 305.1 147.6 305.3 147.3 303.6 146.6 305.2 146.9 305.0 146.9 305.2 z" fill="#4574b3"/><path d="M155.0 305.1 155.0 305.0 155.3 305.0 154.2 303.7 154.4 305.4 154.5 305.1 154.6 305.3 z" fill="#4574b3"/><path d="M162.7 305.0 162.5 304.9 162.9 304.8 161.1 303.8 162.1 305.6 162.2 305.2 162.3 305.4 z" fill="#4a7ab7"/><path d="M170.3 305.0 170.1 304.8 170.6 304.5 168.0 303.9 169.8 305.9 169.8 305.3 170.1 305.4 z" fill="#5183bb"/><path d="M177.8 305.1 177.5 304.9 178.0 304.6 175.1 303.9 177.2 306.1 177.2 305.4 177.5 305.6 z" fill="#5588be"/><path d="M185.2 305.2 184.9 305.0 185.5 304.6 182.3 303.8 184.6 306.3 184.6 305.5 184.9 305.7 z" fill="#5a8ec1"/><path d="M192.6 305.2 192.3 305.1 193.0 304.6 189.4 303.8 191.9 306.5 192.0 305.7 192.3 305.9 z" fill="#5e93c3"/><path d="M200.1 305.3 199.7 305.2 200.4 304.7 196.6 303.8 199.3 306.7 199.4 305.8 199.7 306.0 z" fill="#6297c6"/><path d="M207.4 305.4 207.1 305.2 207.8 304.7 203.8 303.8 206.6 306.8 206.7 305.9 207.0 306.1 z" fill="#6399c7"/><path d="M214.7 305.5 214.4 305.3 215.1 304.8 211.1 303.8 214.0 306.8 214.0 306.0 214.4 306.2 z" fill="#659bc8"/><path d="M222.1 305.5 221.7 305.3 222.5 304.8 218.3 303.9 221.3 306.9 221.3 306.0 221.7 306.2 z" fill="#679ec9"/><path d="M229.4 305.6 229.0 305.3 229.8 304.8 225.6 303.9 228.6 307.0 228.6 306.1 229.0 306.3 z" fill="#679ec9"/><path d="M235.8 306.0 235.6 305.8 236.3 305.7 233.8 303.7 234.8 306.7 235.1 306.1 235.3 306.4 z" fill="#588cc0"/><path d="M242.1 306.5 242.2 306.2 242.7 306.6 242.1 303.5 240.9 306.4 241.6 306.2 241.5 306.5 z" fill="#578abf"/><path d="M248.5 307.0 248.7 306.6 249.2 307.4 250.4 303.3 247.1 306.1 248.1 306.2 247.8 306.6 z" fill="#679ec9"/><path d="M254.7 307.4 256.3 305.9 256.5 306.8 258.7 303.1 254.9 305.0 255.7 305.3 254.1 306.8 z" fill="#81b7d7"/><path d="M261.9 307.4 263.6 305.9 263.8 306.8 266.1 303.2 262.2 304.9 263.1 305.3 261.3 306.8 z" fill="#83b9d8"/><path d="M269.1 307.4 270.9 305.9 271.1 306.8 273.5 303.3 269.5 304.9 270.4 305.3 268.5 306.8 z" fill="#85bbd9"/><path d="M276.3 307.4 278.2 305.9 278.3 306.8 280.9 303.4 276.9 304.9 277.7 305.3 275.8 306.7 z" fill="#85bbd9"/><path d="M283.5 307.4 285.5 306.0 285.6 306.9 288.2 303.5 284.2 304.9 285.0 305.3 283.0 306.7 z" fill="#87bdd9"/><path d="M290.4 307.1 292.8 305.9 292.8 306.8 295.9 303.9 291.7 304.6 292.4 305.2 290.0 306.4 z" fill="#8abeda"/><path d="M297.3 306.6 299.9 305.9 299.7 306.8 303.4 304.6 299.1 304.4 299.7 305.1 297.1 305.8 z" fill="#8cc0db"/><path d="M304.5 306.2 307.2 305.9 306.9 306.7 310.8 305.0 306.6 304.3 307.1 305.1 304.4 305.4 z" fill="#8cc0db"/><path d="M311.7 306.1 314.5 305.9 314.2 306.8 318.2 305.2 314.0 304.3 314.4 305.1 311.6 305.3 z" fill="#8ec2dc"/><path d="M318.9 306.1 321.9 305.9 321.5 306.8 325.5 305.3 321.3 304.3 321.8 305.1 318.8 305.3 z" fill="#94c7df"/><path d="M326.4 306.2 329.0 306.0 328.6 306.8 332.6 305.3 328.4 304.4 328.9 305.2 326.3 305.3 z" fill="#8abeda"/><path d="M333.9 306.2 336.0 306.1 335.6 306.9 339.6 305.4 335.5 304.5 335.9 305.2 333.9 305.4 z" fill="#7fb6d6"/><path d="M110.7 312.4 110.8 312.3 110.8 312.5 111.3 311.3 110.3 312.1 110.4 312.1 110.4 312.2 z" fill="#426cb0"/><path d="M118.1 312.5 118.1 312.4 118.2 312.6 118.6 311.3 117.5 312.2 117.8 312.2 117.7 312.3 z" fill="#426cb0"/><path d="M125.4 312.6 125.5 312.5 125.6 312.7 125.8 311.3 124.9 312.4 125.1 312.3 125.0 312.4 z" fill="#436fb1"/><path d="M132.8 312.7 132.8 312.6 133.0 312.8 133.0 311.3 132.2 312.5 132.4 312.4 132.3 312.6 z" fill="#436fb1"/><path d="M140.1 312.8 140.2 312.7 140.3 312.9 140.3 311.3 139.5 312.6 139.7 312.6 139.7 312.7 z" fill="#4471b2"/><path d="M147.8 312.8 147.8 312.6 148.0 312.7 147.2 311.3 147.1 312.9 147.3 312.7 147.4 312.9 z" fill="#4471b2"/><path d="M155.4 312.7 155.3 312.6 155.7 312.5 154.1 311.4 154.8 313.2 155.0 312.9 155.1 313.0 z" fill="#4878b6"/><path d="M163.1 312.8 162.9 312.6 163.4 312.4 161.0 311.4 162.5 313.5 162.6 313.0 162.8 313.1 z" fill="#4f81ba"/><path d="M170.7 312.7 170.5 312.6 171.1 312.2 167.9 311.5 170.1 313.8 170.2 313.1 170.4 313.3 z" fill="#588cc0"/><path d="M178.2 312.9 177.9 312.7 178.6 312.3 175.0 311.4 177.5 314.1 177.6 313.3 177.9 313.5 z" fill="#5e93c3"/><path d="M185.7 313.0 185.4 312.8 186.1 312.3 182.2 311.4 184.9 314.3 185.0 313.4 185.3 313.6 z" fill="#6399c7"/><path d="M193.2 313.1 192.7 312.8 193.5 312.3 189.3 311.3 192.2 314.4 192.3 313.5 192.8 313.8 z" fill="#69a0ca"/><path d="M200.6 313.3 199.8 312.8 200.6 312.3 196.4 311.3 199.3 314.4 199.4 313.5 200.2 314.0 z" fill="#6ea6ce"/><path d="M207.9 313.3 207.1 312.8 207.9 312.3 203.7 311.4 206.7 314.4 206.7 313.5 207.5 314.0 z" fill="#6ea6ce"/><path d="M215.2 313.3 214.4 312.9 215.2 312.3 211.0 311.4 214.0 314.5 214.0 313.6 214.8 314.0 z" fill="#6ea6ce"/><path d="M222.5 313.3 221.7 312.9 222.5 312.4 218.3 311.5 221.3 314.5 221.3 313.6 222.1 314.0 z" fill="#6da4cc"/><path d="M229.8 313.3 229.0 313.0 229.8 312.4 225.6 311.6 228.6 314.6 228.6 313.7 229.4 314.1 z" fill="#6da4cc"/><path d="M236.1 313.8 235.9 313.5 236.7 313.4 233.9 311.4 235.1 314.6 235.4 313.9 235.6 314.2 z" fill="#5a8ec1"/><path d="M242.5 314.3 242.5 314.0 243.1 314.3 242.2 311.2 241.2 314.3 241.9 314.0 241.9 314.3 z" fill="#588cc0"/><path d="M248.8 314.8 249.0 314.4 249.5 315.2 250.5 311.1 247.4 313.9 248.3 314.0 248.1 314.3 z" fill="#679ec9"/><path d="M255.0 315.1 256.4 313.7 256.7 314.6 258.8 310.9 255.0 312.8 255.9 313.1 254.4 314.5 z" fill="#7fb6d6"/><path d="M262.1 315.2 263.7 313.7 264.0 314.6 266.2 311.0 262.4 312.8 263.2 313.1 261.6 314.5 z" fill="#81b7d7"/><path d="M269.3 315.2 271.0 313.7 271.2 314.6 273.6 311.1 269.7 312.7 270.5 313.1 268.8 314.5 z" fill="#83b9d8"/><path d="M276.5 315.2 278.3 313.8 278.5 314.7 281.0 311.2 277.0 312.7 277.8 313.1 276.0 314.5 z" fill="#85bbd9"/><path d="M283.7 315.2 285.6 313.8 285.8 314.7 288.4 311.3 284.3 312.7 285.2 313.1 283.2 314.5 z" fill="#85bbd9"/><path d="M290.7 315.0 292.9 313.7 292.9 314.7 296.0 311.6 291.8 312.5 292.5 313.0 290.3 314.3 z" fill="#87bdd9"/><path d="M297.6 314.5 300.1 313.7 300.0 314.6 303.5 312.2 299.2 312.3 299.9 312.9 297.3 313.8 z" fill="#8abeda"/><path d="M304.7 314.3 307.4 313.7 307.2 314.6 310.9 312.6 306.7 312.2 307.2 312.9 304.6 313.4 z" fill="#8cc0db"/><path d="M311.9 314.2 314.7 313.8 314.4 314.6 318.3 312.8 314.0 312.2 314.6 312.9 311.8 313.4 z" fill="#8cc0db"/><path d="M319.2 314.2 322.0 313.8 321.7 314.7 325.6 312.9 321.4 312.2 321.9 313.0 319.1 313.4 z" fill="#90c3dd"/><path d="M326.6 314.2 329.2 313.9 328.9 314.7 332.8 312.9 328.5 312.3 329.1 313.1 326.5 313.4 z" fill="#87bdd9"/><path d="M334.1 314.3 336.3 314.0 336.0 314.8 339.8 313.0 335.6 312.4 336.1 313.1 334.0 313.5 z" fill="#81b7d7"/><circle cx="111.1" cy="319.5" r="0.48" fill="#4167ad"/><circle cx="118.4" cy="319.5" r="0.48" fill="#4167ad"/><circle cx="125.7" cy="319.6" r="0.48" fill="#4167ad"/><path d="M133.2 320.2 133.2 320.1 133.3 320.2 133.0 319.1 132.6 320.2 132.7 320.1 132.7 320.2 z" fill="#416aaf"/><path d="M140.6 320.3 140.6 320.1 140.7 320.2 140.2 319.1 140.0 320.4 140.1 320.2 140.2 320.3 z" fill="#426cb0"/><path d="M148.2 320.3 148.1 320.2 148.4 320.1 147.1 319.1 147.6 320.7 147.7 320.4 147.8 320.6 z" fill="#4574b3"/><path d="M155.8 320.4 155.7 320.2 156.1 320.1 154.0 319.1 155.2 321.1 155.4 320.6 155.5 320.7 z" fill="#4b7db8"/><path d="M163.5 320.5 163.3 320.3 163.8 320.0 161.0 319.0 162.8 321.4 162.9 320.8 163.2 320.9 z" fill="#578abf"/><path d="M171.2 320.5 170.9 320.3 171.5 319.9 167.9 319.0 170.4 321.8 170.5 321.0 170.8 321.1 z" fill="#6095c4"/><path d="M178.7 320.6 178.3 320.4 179.1 319.9 175.0 319.0 177.9 322.1 177.9 321.2 178.3 321.4 z" fill="#679ec9"/><path d="M186.2 320.8 185.4 320.4 186.2 319.9 182.0 318.9 185.0 322.0 185.0 321.1 185.8 321.5 z" fill="#6da4cc"/><path d="M193.7 321.0 192.5 320.3 193.3 319.8 189.1 318.8 192.1 322.0 192.1 321.0 193.3 321.7 z" fill="#74add1"/><path d="M201.2 321.2 199.6 320.3 200.4 319.8 196.2 318.8 199.1 321.9 199.2 321.0 200.8 321.9 z" fill="#7db4d5"/><path d="M208.5 321.2 207.0 320.3 207.7 319.8 203.5 318.9 206.5 322.0 206.6 321.1 208.0 321.9 z" fill="#7ab2d4"/><path d="M215.7 321.2 214.3 320.4 215.1 319.9 210.9 319.0 213.9 322.1 213.9 321.1 215.3 321.9 z" fill="#78b0d3"/><path d="M222.9 321.1 221.7 320.5 222.4 320.0 218.2 319.2 221.3 322.1 221.3 321.2 222.5 321.9 z" fill="#74add1"/><path d="M230.2 321.1 229.0 320.6 229.8 320.0 225.6 319.3 228.7 322.2 228.7 321.3 229.8 321.9 z" fill="#72abd0"/><path d="M236.5 321.5 236.3 321.3 237.0 321.0 233.9 319.1 235.5 322.5 235.7 321.7 236.0 322.0 z" fill="#5e93c3"/><path d="M242.8 322.0 242.8 321.7 243.4 322.0 242.2 319.0 241.6 322.1 242.1 321.8 242.2 322.1 z" fill="#588cc0"/><path d="M249.0 322.5 249.2 322.1 249.7 322.9 250.6 318.8 247.7 321.7 248.5 321.8 248.4 322.1 z" fill="#659bc8"/><path d="M255.2 322.9 256.6 321.5 256.9 322.4 258.9 318.7 255.1 320.7 256.0 321.0 254.6 322.3 z" fill="#7db4d5"/><path d="M262.4 322.9 263.9 321.5 264.1 322.4 266.4 318.7 262.5 320.6 263.3 320.9 261.8 322.3 z" fill="#81b7d7"/><path d="M269.6 322.9 271.2 321.5 271.4 322.4 273.7 318.8 269.8 320.6 270.7 320.9 269.0 322.3 z" fill="#81b7d7"/><path d="M276.7 323.0 278.5 321.6 278.7 322.5 281.1 318.9 277.2 320.5 278.0 320.9 276.2 322.3 z" fill="#83b9d8"/><path d="M283.9 323.0 285.8 321.6 286.0 322.5 288.5 319.0 284.5 320.5 285.3 320.9 283.4 322.4 z" fill="#85bbd9"/><path d="M291.0 322.8 293.1 321.6 293.1 322.5 296.0 319.3 291.9 320.4 292.6 320.9 290.5 322.1 z" fill="#85bbd9"/><path d="M297.9 322.5 300.4 321.5 300.3 322.5 303.6 319.8 299.4 320.2 300.1 320.8 297.6 321.8 z" fill="#8abeda"/><path d="M305.0 322.3 307.6 321.6 307.5 322.5 311.1 320.1 306.8 320.1 307.4 320.8 304.8 321.5 z" fill="#8cc0db"/><path d="M312.2 322.3 314.9 321.6 314.7 322.5 318.4 320.3 314.1 320.1 314.7 320.8 312.0 321.5 z" fill="#8cc0db"/><path d="M319.5 322.3 322.2 321.6 322.0 322.5 325.7 320.4 321.5 320.1 322.0 320.8 319.3 321.5 z" fill="#8cc0db"/><path d="M326.9 322.3 329.4 321.7 329.2 322.6 332.9 320.5 328.6 320.2 329.2 320.9 326.7 321.5 z" fill="#8abeda"/><path d="M334.3 322.4 336.6 321.8 336.3 322.7 340.1 320.6 335.8 320.3 336.4 321.0 334.1 321.6 z" fill="#83b9d8"/><circle cx="111.3" cy="327.1" r="0.48" fill="#4065ac"/><circle cx="118.6" cy="327.2" r="0.48" fill="#3e60aa"/><circle cx="125.9" cy="327.2" r="0.48" fill="#3e60aa"/><circle cx="133.2" cy="327.3" r="0.48" fill="#4065ac"/><path d="M141.0 327.7 140.9 327.6 141.1 327.6 140.1 326.9 140.6 328.1 140.6 327.9 140.7 328.0 z" fill="#426cb0"/><path d="M148.6 327.9 148.5 327.7 148.8 327.6 147.0 326.8 148.1 328.5 148.2 328.1 148.3 328.2 z" fill="#4878b6"/><path d="M156.3 328.0 156.0 327.9 156.6 327.6 154.0 326.7 155.7 328.9 155.7 328.3 156.0 328.4 z" fill="#5183bb"/><path d="M163.9 328.1 163.6 328.0 164.3 327.6 160.9 326.7 163.2 329.3 163.3 328.5 163.6 328.7 z" fill="#5c90c2"/><path d="M171.6 328.3 171.2 328.1 172.0 327.6 167.8 326.6 170.8 329.7 170.8 328.8 171.2 329.0 z" fill="#679ec9"/><path d="M179.1 328.5 178.3 328.0 179.1 327.5 174.9 326.5 177.8 329.6 177.9 328.7 178.7 329.2 z" fill="#6ea6ce"/><path d="M186.7 328.7 185.3 327.9 186.1 327.4 181.9 326.4 184.9 329.5 184.9 328.6 186.3 329.4 z" fill="#78b0d3"/><path d="M194.2 328.9 192.4 327.8 193.1 327.3 189.0 326.3 191.9 329.5 192.0 328.5 193.8 329.6 z" fill="#81b7d7"/><path d="M201.8 329.1 199.4 327.8 200.2 327.3 196.0 326.3 198.9 329.4 199.0 328.5 201.4 329.8 z" fill="#8cc0db"/><path d="M209.0 329.1 206.8 327.9 207.6 327.4 203.4 326.4 206.4 329.5 206.4 328.6 208.6 329.8 z" fill="#87bdd9"/><path d="M216.2 329.0 214.2 328.0 215.0 327.5 210.8 326.6 213.8 329.6 213.8 328.7 215.8 329.7 z" fill="#83b9d8"/><path d="M223.3 329.0 221.6 328.1 222.4 327.6 218.2 326.8 221.3 329.7 221.3 328.8 223.0 329.7 z" fill="#7db4d5"/><path d="M230.5 328.9 229.1 328.2 229.8 327.6 225.6 327.0 228.7 329.9 228.7 328.9 230.2 329.6 z" fill="#78b0d3"/><path d="M236.9 329.3 236.6 329.0 237.4 328.7 233.9 326.9 235.8 330.3 236.0 329.5 236.3 329.8 z" fill="#6297c6"/><path d="M243.1 329.7 243.0 329.4 243.7 329.6 242.3 326.7 241.9 329.9 242.4 329.5 242.5 329.8 z" fill="#588cc0"/><path d="M249.3 330.2 249.5 329.9 250.0 330.6 250.7 326.6 247.9 329.6 248.8 329.5 248.6 329.9 z" fill="#6399c7"/><path d="M255.5 330.6 256.7 329.4 257.0 330.2 259.0 326.4 255.3 328.5 256.2 328.8 254.9 330.0 z" fill="#7ab2d4"/><path d="M262.6 330.7 264.1 329.3 264.3 330.2 266.5 326.5 262.6 328.4 263.5 328.7 262.1 330.1 z" fill="#7fb6d6"/><path d="M269.8 330.7 271.4 329.4 271.6 330.2 273.9 326.6 270.0 328.4 270.8 328.7 269.3 330.1 z" fill="#81b7d7"/><path d="M277.0 330.8 278.7 329.4 278.9 330.3 281.3 326.7 277.3 328.4 278.2 328.7 276.5 330.1 z" fill="#81b7d7"/><path d="M284.2 330.8 286.0 329.4 286.2 330.3 288.7 326.8 284.7 328.3 285.5 328.7 283.7 330.2 z" fill="#83b9d8"/><path d="M291.3 330.7 293.2 329.4 293.3 330.3 296.1 327.1 292.0 328.3 292.8 328.7 290.8 330.0 z" fill="#85bbd9"/><path d="M298.2 330.5 300.6 329.4 300.6 330.3 303.7 327.4 299.5 328.1 300.2 328.6 297.8 329.8 z" fill="#8abeda"/><path d="M305.3 330.3 307.9 329.4 307.8 330.3 311.2 327.7 306.9 328.0 307.6 328.6 305.0 329.6 z" fill="#8cc0db"/><path d="M312.5 330.3 315.2 329.4 315.0 330.3 318.5 327.9 314.2 328.0 314.9 328.7 312.2 329.5 z" fill="#8cc0db"/><path d="M319.8 330.3 322.4 329.5 322.3 330.4 325.8 328.0 321.6 328.1 322.2 328.7 319.5 329.6 z" fill="#8cc0db"/><path d="M327.1 330.4 329.7 329.6 329.5 330.5 333.1 328.1 328.8 328.1 329.4 328.8 326.9 329.6 z" fill="#8abeda"/><path d="M334.5 330.4 336.9 329.7 336.7 330.6 340.3 328.2 336.0 328.2 336.6 328.9 334.3 329.6 z" fill="#87bdd9"/><path d="M341.9 330.5 344.1 329.8 343.9 330.7 347.5 328.2 343.2 328.3 343.8 329.0 341.6 329.7 z" fill="#83b9d8"/><circle cx="111.5" cy="334.7" r="0.48" fill="#3f62ab"/><circle cx="118.8" cy="334.8" r="0.48" fill="#3d5ba7"/><circle cx="126.0" cy="334.9" r="0.48" fill="#3e5ea8"/><circle cx="133.3" cy="335.0" r="0.48" fill="#4167ad"/><path d="M141.4 335.2 141.3 335.1 141.5 335.0 140.0 334.6 141.1 335.8 141.0 335.5 141.2 335.6 z" fill="#4471b2"/><path d="M149.0 335.5 148.8 335.3 149.2 335.1 146.9 334.5 148.6 336.2 148.6 335.7 148.8 335.8 z" fill="#4d7fb9"/><path d="M156.7 335.7 156.4 335.5 157.0 335.1 153.9 334.4 156.1 336.7 156.1 336.0 156.4 336.2 z" fill="#578abf"/><path d="M164.3 335.9 164.0 335.7 164.7 335.2 160.9 334.3 163.6 337.2 163.6 336.3 164.0 336.5 z" fill="#6297c6"/><path d="M172.0 336.1 171.2 335.7 172.0 335.1 167.8 334.2 170.8 337.3 170.8 336.4 171.6 336.8 z" fill="#6da4cc"/><path d="M179.6 336.3 178.2 335.6 179.0 335.0 174.8 334.1 177.8 337.2 177.8 336.3 179.2 337.0 z" fill="#78b0d3"/><path d="M187.2 336.6 185.2 335.4 186.0 334.9 181.8 334.0 184.7 337.1 184.8 336.2 186.8 337.3 z" fill="#83b9d8"/><path d="M194.8 336.8 192.2 335.3 193.0 334.8 188.8 333.9 191.7 337.0 191.8 336.1 194.3 337.5 z" fill="#92c5de"/><path d="M202.4 337.1 199.2 335.2 199.9 334.7 195.8 333.8 198.7 336.9 198.8 336.0 201.9 337.8 z" fill="#b6dfec"/><path d="M209.5 337.0 206.6 335.4 207.4 334.9 203.2 334.0 206.2 337.0 206.2 336.1 209.1 337.7 z" fill="#a1d1e5"/><path d="M216.6 336.9 214.1 335.6 214.9 335.0 210.7 334.2 213.7 337.2 213.7 336.3 216.2 337.6 z" fill="#8cc0db"/><path d="M223.7 336.8 221.6 335.7 222.4 335.2 218.1 334.4 221.3 337.4 221.3 336.5 223.4 337.5 z" fill="#85bbd9"/><path d="M230.8 336.7 229.1 335.9 229.8 335.3 225.6 334.7 228.8 337.5 228.8 336.6 230.5 337.4 z" fill="#7db4d5"/><path d="M237.1 337.0 236.9 336.7 237.7 336.4 234.0 334.6 236.1 338.2 236.3 337.3 236.6 337.6 z" fill="#659bc8"/><path d="M243.4 337.5 243.3 337.2 244.0 337.4 242.4 334.5 242.1 337.8 242.7 337.3 242.7 337.6 z" fill="#5a8ec1"/><path d="M249.6 338.0 249.7 337.6 250.3 338.3 250.8 334.3 248.2 337.4 249.0 337.3 248.9 337.7 z" fill="#6399c7"/><path d="M255.7 338.4 256.9 337.1 257.2 338.0 259.2 334.2 255.4 336.3 256.3 336.6 255.1 337.8 z" fill="#7ab2d4"/><path d="M262.8 338.4 264.2 337.1 264.5 338.0 266.6 334.3 262.8 336.2 263.7 336.5 262.3 337.8 z" fill="#7db4d5"/><path d="M270.0 338.5 271.5 337.1 271.8 338.0 274.0 334.4 270.1 336.2 271.0 336.5 269.5 337.9 z" fill="#7fb6d6"/><path d="M277.2 338.5 278.8 337.2 279.1 338.1 281.4 334.5 277.5 336.2 278.3 336.5 276.7 337.9 z" fill="#81b7d7"/><path d="M284.4 338.6 286.2 337.2 286.4 338.1 288.8 334.6 284.8 336.1 285.7 336.5 283.9 338.0 z" fill="#83b9d8"/><path d="M291.5 338.5 293.4 337.2 293.5 338.1 296.3 334.8 292.2 336.1 293.0 336.5 291.0 337.8 z" fill="#83b9d8"/><path d="M298.4 338.4 300.8 337.2 300.8 338.1 303.9 335.1 299.7 335.9 300.4 336.4 298.0 337.7 z" fill="#8abeda"/><path d="M305.5 338.3 308.1 337.2 308.0 338.1 311.3 335.4 307.1 335.8 307.8 336.4 305.2 337.5 z" fill="#8cc0db"/><path d="M312.8 338.3 315.4 337.3 315.3 338.2 318.6 335.5 314.4 335.9 315.1 336.5 312.5 337.5 z" fill="#8cc0db"/><path d="M320.0 338.3 322.6 337.3 322.5 338.2 326.0 335.6 321.7 335.9 322.4 336.6 319.7 337.5 z" fill="#8cc0db"/><path d="M327.4 338.3 329.9 337.4 329.8 338.3 333.2 335.8 328.9 336.0 329.6 336.6 327.1 337.6 z" fill="#8abeda"/><path d="M334.8 338.4 337.1 337.5 337.0 338.4 340.4 335.9 336.1 336.1 336.8 336.8 334.5 337.6 z" fill="#87bdd9"/><path d="M342.1 338.4 344.3 337.6 344.2 338.5 347.6 335.9 343.3 336.2 344.0 336.9 341.8 337.7 z" fill="#83b9d8"/><circle cx="111.6" cy="342.4" r="0.48" fill="#3f62ab"/><circle cx="118.9" cy="342.5" r="0.48" fill="#3d5ba7"/><circle cx="126.2" cy="342.5" r="0.48" fill="#3e5ea8"/><circle cx="133.5" cy="342.6" r="0.48" fill="#4167ad"/><path d="M141.6 342.9 141.4 342.8 141.7 342.7 140.2 342.3 141.2 343.4 141.2 343.2 141.3 343.3 z" fill="#4471b2"/><path d="M149.2 343.1 149.0 343.0 149.5 342.7 147.1 342.2 148.8 344.0 148.8 343.4 149.0 343.6 z" fill="#4d7fb9"/><path d="M156.9 343.4 156.7 343.2 157.3 342.8 154.0 342.0 156.3 344.5 156.3 343.8 156.6 343.9 z" fill="#5a8ec1"/><path d="M164.7 343.6 164.3 343.4 165.1 342.9 160.9 341.9 163.8 345.0 163.9 344.1 164.2 344.3 z" fill="#679ec9"/><path d="M172.3 343.9 171.2 343.2 172.0 342.7 167.8 341.8 170.8 344.9 170.8 344.0 171.9 344.6 z" fill="#72abd0"/><path d="M180.0 344.1 178.2 343.1 178.9 342.6 174.8 341.6 177.7 344.7 177.8 343.8 179.6 344.9 z" fill="#81b7d7"/><path d="M187.6 344.4 185.1 343.0 185.9 342.5 181.7 341.5 184.6 344.6 184.7 343.7 187.2 345.1 z" fill="#92c5de"/><path d="M195.3 344.7 192.0 342.8 192.8 342.3 188.6 341.4 191.6 344.5 191.6 343.6 194.9 345.4 z" fill="#bde2ee"/><path d="M203.0 345.0 198.9 342.7 199.7 342.2 195.5 341.3 198.5 344.3 198.5 343.4 202.6 345.7 z" fill="#e4f4f1"/><path d="M210.0 344.9 206.5 342.9 207.2 342.4 203.0 341.5 206.1 344.6 206.1 343.7 209.6 345.6 z" fill="#c9e8f2"/><path d="M217.1 344.7 214.1 343.2 214.8 342.6 210.6 341.8 213.7 344.8 213.7 343.9 216.7 345.4 z" fill="#a8d6e8"/><path d="M224.1 344.6 221.6 343.4 222.4 342.8 218.2 342.1 221.3 345.0 221.3 344.1 223.7 345.3 z" fill="#8abeda"/><path d="M231.1 344.4 229.2 343.6 230.0 343.0 225.7 342.4 228.9 345.2 228.9 344.3 230.7 345.2 z" fill="#7fb6d6"/><path d="M237.4 344.8 237.1 344.5 237.9 344.2 234.1 342.3 236.3 346.0 236.5 345.1 236.8 345.4 z" fill="#659bc8"/><path d="M243.6 345.3 243.5 344.9 244.2 345.1 242.5 342.2 242.3 345.5 242.9 345.1 242.9 345.4 z" fill="#5a8ec1"/><path d="M249.8 345.7 249.9 345.4 250.5 346.1 251.0 342.1 248.4 345.1 249.2 345.1 249.1 345.4 z" fill="#6399c7"/><path d="M255.9 346.1 257.1 344.9 257.4 345.8 259.4 342.0 255.6 344.0 256.5 344.3 255.3 345.6 z" fill="#7ab2d4"/><path d="M263.0 346.2 264.4 344.9 264.7 345.8 266.8 342.1 263.0 344.0 263.8 344.3 262.4 345.6 z" fill="#7db4d5"/><path d="M270.2 346.3 271.7 344.9 272.0 345.8 274.2 342.2 270.3 344.0 271.2 344.3 269.6 345.7 z" fill="#7fb6d6"/><path d="M277.4 346.3 279.0 344.9 279.2 345.8 281.6 342.3 277.7 343.9 278.5 344.3 276.8 345.7 z" fill="#81b7d7"/><path d="M284.5 346.4 286.4 345.0 286.5 345.9 289.0 342.4 285.0 343.9 285.8 344.3 284.0 345.7 z" fill="#83b9d8"/><path d="M291.7 346.3 293.6 345.0 293.7 345.9 296.4 342.6 292.3 343.9 293.1 344.3 291.2 345.6 z" fill="#83b9d8"/><path d="M298.6 346.3 301.0 345.0 301.0 345.9 304.0 342.8 299.8 343.7 300.6 344.3 298.2 345.6 z" fill="#8abeda"/><path d="M305.8 346.2 308.3 345.0 308.3 345.9 311.4 343.1 307.2 343.7 307.9 344.3 305.4 345.5 z" fill="#8cc0db"/><path d="M313.0 346.2 315.6 345.1 315.5 346.0 318.8 343.2 314.5 343.8 315.2 344.3 312.7 345.5 z" fill="#8cc0db"/><path d="M320.3 346.2 322.8 345.2 322.8 346.1 326.1 343.3 321.8 343.8 322.5 344.4 320.0 345.5 z" fill="#8cc0db"/><path d="M327.6 346.3 330.1 345.3 330.0 346.2 333.3 343.4 329.1 343.9 329.8 344.5 327.3 345.5 z" fill="#8abeda"/><path d="M335.0 346.3 337.3 345.4 337.2 346.3 340.5 343.6 336.3 344.0 337.0 344.6 334.7 345.6 z" fill="#87bdd9"/><path d="M342.4 346.4 344.5 345.5 344.4 346.4 347.7 343.7 343.5 344.1 344.2 344.7 342.1 345.6 z" fill="#83b9d8"/><circle cx="111.8" cy="350.0" r="0.48" fill="#3f62ab"/><circle cx="119.1" cy="350.1" r="0.48" fill="#3d5ba7"/><circle cx="126.4" cy="350.2" r="0.48" fill="#3e5ea8"/><circle cx="133.7" cy="350.3" r="0.48" fill="#4167ad"/><path d="M141.7 350.5 141.6 350.5 141.9 350.3 140.3 350.0 141.4 351.1 141.4 350.8 141.5 350.9 z" fill="#4471b2"/><path d="M149.5 350.8 149.2 350.7 149.7 350.4 147.2 349.8 149.0 351.7 149.0 351.1 149.2 351.3 z" fill="#4f81ba"/><path d="M157.2 351.1 156.9 350.9 157.6 350.5 154.1 349.7 156.5 352.2 156.6 351.5 156.9 351.7 z" fill="#5c90c2"/><path d="M165.0 351.3 164.4 351.0 165.1 350.5 161.0 349.5 163.9 352.6 164.0 351.7 164.5 352.0 z" fill="#6ba2cb"/><path d="M172.7 351.7 171.3 350.8 172.0 350.3 167.9 349.4 170.8 352.5 170.8 351.6 172.3 352.4 z" fill="#78b0d3"/><path d="M180.4 352.0 178.1 350.7 178.9 350.2 174.7 349.2 177.7 352.3 177.7 351.4 180.0 352.7 z" fill="#8abeda"/><path d="M188.1 352.3 185.0 350.5 185.7 350.0 181.5 349.1 184.5 352.1 184.6 351.2 187.7 353.0 z" fill="#b4deec"/><path d="M195.9 352.6 191.8 350.3 192.6 349.8 188.4 348.9 191.4 352.0 191.4 351.1 195.5 353.3 z" fill="#e2f4f4"/><path d="M203.6 352.9 198.7 350.2 199.4 349.7 195.2 348.8 198.2 351.8 198.3 350.9 203.2 353.6 z" fill="#fffebe"/><path d="M210.6 352.7 206.3 350.5 207.0 349.9 202.8 349.1 205.9 352.1 205.9 351.2 210.2 353.5 z" fill="#e9f6e8"/><path d="M217.5 352.6 214.0 350.8 214.7 350.2 210.5 349.4 213.6 352.4 213.6 351.5 217.1 353.3 z" fill="#c5e6f0"/><path d="M224.4 352.4 221.7 351.0 222.4 350.5 218.2 349.8 221.3 352.7 221.3 351.8 224.0 353.1 z" fill="#99cae1"/><path d="M231.3 352.2 229.4 351.3 230.1 350.7 225.8 350.1 229.0 353.0 229.0 352.0 231.0 353.0 z" fill="#81b7d7"/><path d="M237.6 352.5 237.3 352.2 238.1 351.9 234.3 350.0 236.4 353.7 236.7 352.8 237.0 353.1 z" fill="#679ec9"/></g>
<path d="M348.5 356.0 L348.2 335.0 L346.5 326.0 L343.5 321.5 L340.5 314.0 L337.5 305.5 L333.0 300.2 L327.0 295.0 L320.4 292.7 L322.3 283.0 L320.4 272.5 L318.2 267.0 L317.4 263.2 L320.2 259.5 L325.5 255.0 L330.0 247.5 L333.7 240.0 L335.2 231.0 L338.2 225.0 L342.0 219.0 L345.5 211.0 L348.0 201.5 L352.5 188.0 L358.5 170.0 L363.7 155.0 L366.0 148.0 L370.5 139.0 L376.5 128.5 L381.8 120.0 L384.4 117.4 L387.3 115.1 L391.5 113.2 L396.7 111.6 L401.3 110.3 L404.5 108.6 L406.8 108.0 L408.7 109.0 L410.0 111.2 L410.5 113.5 L409.4 116.4 L406.5 120.0 L403.5 130.0 L402.0 140.5 L399.7 151.0 L398.0 158.0 L396.0 167.0 L393.6 179.0 L394.3 185.0 L397.6 192.0 L401.2 199.0 L402.8 204.0 L400.2 210.3 L401.0 214.6 L403.4 214.2 L405.1 209.8 L408.0 208.1 L410.6 210.0 L411.2 214.5 L408.8 218.5 L404.4 223.6 L401.8 229.5 L401.6 234.2 L401.0 242.3 L403.2 248.2 L407.6 251.6 L412.7 251.2 L417.2 246.8 L419.8 242.3 L423.0 239.0 L423.0 356.0 z" fill="none" stroke="#808080" stroke-width="1.4" stroke-linejoin="round"/>
<path d="M101.5 49.6 L110.5 355.1 M147.4 49.6 L155.9 355.1 M193.2 49.6 L201.2 355.1 M239.1 49.6 L246.6 355.1 M285.0 49.6 L292.0 355.1 M330.9 49.6 L337.4 355.1 M376.8 49.6 L382.7 355.1 M100.6 77.3 L421.7 70.8 M100.6 116.6 L421.7 110.0 M100.6 155.9 L421.7 149.2 M100.6 195.2 L421.7 188.4 M100.6 234.5 L421.7 227.6 M100.6 273.8 L421.7 266.8 M100.6 313.1 L421.7 305.9 M100.6 352.4 L421.7 345.1" fill="none" stroke="#b0b0b0" stroke-width="1.25"/>
</g>
<rect x="100.60" y="49.65" width="321.15" height="305.75" fill="none" stroke="#000" stroke-width="1.2"/>
<filter id="ga" x="0" y="0" width="800" height="400" filterUnits="userSpaceOnUse" color-interpolation-filters="sRGB"><feOffset dx="0" dy="0"/></filter>
<g filter="url(#ga)">
<text x="164.30" y="20.00" font-size="17.65" textLength="192.20" lengthAdjust="spacingAndGlyphs" text-anchor="start">2026-04-02T14:00:00Z</text>
<rect x="247.6" y="1.6" width="8.3" height="1.2" fill="#000"/>
<rect x="337.0" y="1.6" width="8.3" height="1.2" fill="#000"/>
<text x="74.20" y="39.00" font-size="14.70" textLength="54.20" lengthAdjust="spacingAndGlyphs" text-anchor="start">112.5°E</text>
<text x="172.45" y="39.00" font-size="14.70" textLength="41.45" lengthAdjust="spacingAndGlyphs" text-anchor="start">113°E</text>
<text x="257.45" y="39.00" font-size="14.70" textLength="55.20" lengthAdjust="spacingAndGlyphs" text-anchor="start">113.5°E</text>
<text x="355.70" y="39.00" font-size="14.70" textLength="41.70" lengthAdjust="spacingAndGlyphs" text-anchor="start">114°E</text>
<text x="83.70" y="373.00" font-size="14.70" textLength="55.20" lengthAdjust="spacingAndGlyphs" text-anchor="start">112.5°E</text>
<text x="180.45" y="373.00" font-size="14.70" textLength="42.20" lengthAdjust="spacingAndGlyphs" text-anchor="start">113°E</text>
<text x="264.95" y="373.00" font-size="14.70" textLength="54.95" lengthAdjust="spacingAndGlyphs" text-anchor="start">113.5°E</text>
<text x="361.70" y="373.00" font-size="14.70" textLength="41.70" lengthAdjust="spacingAndGlyphs" text-anchor="start">114°E</text>
<text x="46.10" y="82.00" font-size="14.70" textLength="46.90" lengthAdjust="spacingAndGlyphs" text-anchor="start">21.6°S</text>
<text x="46.10" y="121.30" font-size="14.70" textLength="46.90" lengthAdjust="spacingAndGlyphs" text-anchor="start">21.8°S</text>
<text x="59.70" y="160.60" font-size="14.70" textLength="33.30" lengthAdjust="spacingAndGlyphs" text-anchor="start">22°S</text>
<text x="46.10" y="199.90" font-size="14.70" textLength="46.90" lengthAdjust="spacingAndGlyphs" text-anchor="start">22.2°S</text>
<text x="46.10" y="239.20" font-size="14.70" textLength="46.90" lengthAdjust="spacingAndGlyphs" text-anchor="start">22.4°S</text>
<text x="46.10" y="278.50" font-size="14.70" textLength="46.90" lengthAdjust="spacingAndGlyphs" text-anchor="start">22.6°S</text>
<text x="46.10" y="317.80" font-size="14.70" textLength="46.90" lengthAdjust="spacingAndGlyphs" text-anchor="start">22.8°S</text>
<text x="59.70" y="357.10" font-size="14.70" textLength="33.30" lengthAdjust="spacingAndGlyphs" text-anchor="start">23°S</text>
<rect x="441.5" y="125.5" width="8.0" height="153.7" fill="url(#cb)" stroke="#000" stroke-width="1.1"/>
<path d="M449.5 279.20 h4.9" stroke="#000" stroke-width="1.1"/>
<text x="459.00" y="283.80" font-size="14.70" textLength="20.70" lengthAdjust="spacingAndGlyphs" text-anchor="start">0.0</text>
<path d="M449.5 248.46 h4.9" stroke="#000" stroke-width="1.1"/>
<text x="459.00" y="253.06" font-size="14.70" textLength="20.70" lengthAdjust="spacingAndGlyphs" text-anchor="start">0.2</text>
<path d="M449.5 217.72 h4.9" stroke="#000" stroke-width="1.1"/>
<text x="459.00" y="222.32" font-size="14.70" textLength="20.70" lengthAdjust="spacingAndGlyphs" text-anchor="start">0.4</text>
<path d="M449.5 186.98 h4.9" stroke="#000" stroke-width="1.1"/>
<text x="459.00" y="191.58" font-size="14.70" textLength="20.70" lengthAdjust="spacingAndGlyphs" text-anchor="start">0.6</text>
<path d="M449.5 156.24 h4.9" stroke="#000" stroke-width="1.1"/>
<text x="459.00" y="160.84" font-size="14.70" textLength="20.70" lengthAdjust="spacingAndGlyphs" text-anchor="start">0.8</text>
<path d="M449.5 125.50 h4.9" stroke="#000" stroke-width="1.1"/>
<text x="459.00" y="130.10" font-size="14.70" textLength="20.70" lengthAdjust="spacingAndGlyphs" text-anchor="start">1.0</text>
<text x="546.50" y="33.00" font-size="14.70" textLength="101.80" lengthAdjust="spacingAndGlyphs" text-anchor="start">Iterations: 200</text>
<text x="546.50" y="65.00" font-size="14.70" textLength="176.30" lengthAdjust="spacingAndGlyphs" text-anchor="start">nll: -15110.13060028792</text>
<text x="546.50" y="98.00" font-size="14.70" textLength="91.30" lengthAdjust="spacingAndGlyphs" text-anchor="start">σ = 8.38e-07</text>
<text x="547.00" y="130.00" font-size="14.70" textLength="128.05" lengthAdjust="spacingAndGlyphs" text-anchor="start">,η_uv1 = 1.12e-01</text>
<text x="546.50" y="162.50" font-size="14.70" textLength="123.80" lengthAdjust="spacingAndGlyphs" text-anchor="start">η_uv2 = 4.64e-02</text>
<text x="547.00" y="194.50" font-size="14.70" textLength="125.05" lengthAdjust="spacingAndGlyphs" text-anchor="start">ℓ_uv1 = 24650.53</text>
<text x="547.00" y="227.50" font-size="14.70" textLength="125.05" lengthAdjust="spacingAndGlyphs" text-anchor="start">ℓ_uv2 = 11295.27</text>
<text x="546.50" y="260.00" font-size="14.70" textLength="107.30" lengthAdjust="spacingAndGlyphs" text-anchor="start">η_q = 1.33e-05</text>
<text x="547.00" y="292.50" font-size="14.70" textLength="108.05" lengthAdjust="spacingAndGlyphs" text-anchor="start">ℓ_q = 29924.11</text>
</g>
</svg></body></html>
